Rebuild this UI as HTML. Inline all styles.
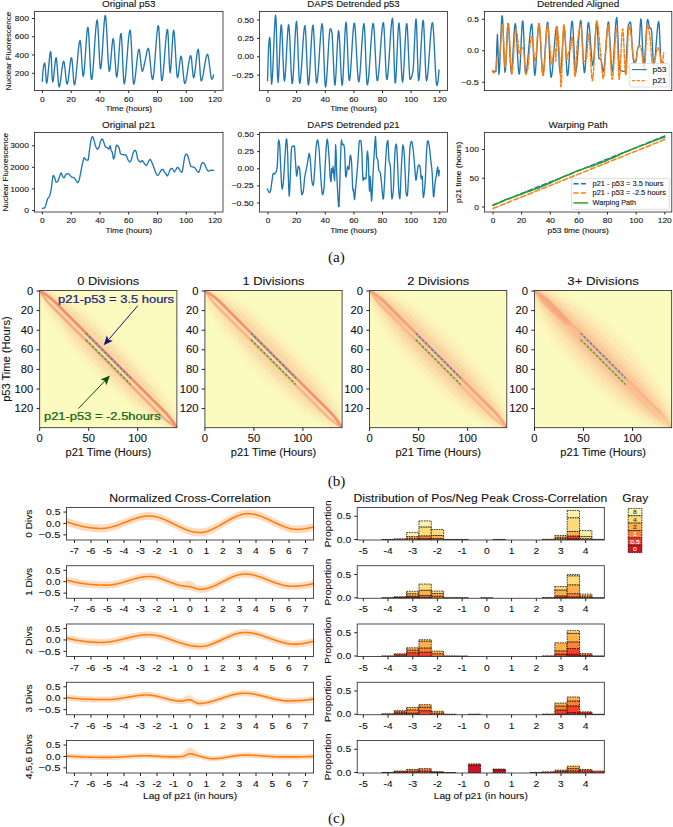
<!DOCTYPE html>
<html><head><meta charset="utf-8"><title>Figure</title>
<style>html,body{margin:0;padding:0;background:#fff;}body{width:673px;height:827px;overflow:hidden;font-family:"Liberation Sans",sans-serif;}svg{display:block;}</style>
</head><body>
<svg width="673" height="827" viewBox="0 0 673 827">
<rect width="100%" height="100%" fill="#fff"/>
<defs>
<filter id="bl6" x="-50%" y="-50%" width="200%" height="200%"><feGaussianBlur stdDeviation="4"/></filter>
<filter id="bl3" x="-50%" y="-50%" width="200%" height="200%"><feGaussianBlur stdDeviation="3"/></filter>
<filter id="bl1" x="-50%" y="-50%" width="200%" height="200%"><feGaussianBlur stdDeviation="0.7"/></filter>
<clipPath id="hc0"><rect x="39.70" y="290.50" width="137.20" height="137.20"/></clipPath>
<clipPath id="hc1"><rect x="204.90" y="290.50" width="137.20" height="137.20"/></clipPath>
<clipPath id="hc2"><rect x="369.60" y="290.50" width="137.20" height="137.20"/></clipPath>
<clipPath id="hc3"><rect x="534.50" y="290.50" width="137.20" height="137.20"/></clipPath>
</defs>
<g clip-path="url(#hc0)">
<rect x="39.70" y="290.50" width="137.20" height="137.20" fill="#fbfbc0"/>
<g transform="translate(39.70 290.50) rotate(45)">
<ellipse cx="97.02" cy="-1" rx="91.02" ry="18.00" fill="#fcd3a0" opacity="0.33" filter="url(#bl6)"/>
<ellipse cx="97.02" cy="-0.5" rx="99.02" ry="9.00" fill="#fcc99a" opacity="0.45" filter="url(#bl3)"/>
<ellipse cx="89.52" cy="-13.00" rx="53.36" ry="0.9" fill="#f7a67e" opacity="0.12" filter="url(#bl1)"/>
<ellipse cx="92.52" cy="-9.50" rx="67.91" ry="0.9" fill="#f7a67e" opacity="0.20" filter="url(#bl1)"/>
<ellipse cx="95.52" cy="-6.50" rx="77.61" ry="0.9" fill="#f7a67e" opacity="0.26" filter="url(#bl1)"/>
<ellipse cx="98.52" cy="5.50" rx="75.67" ry="0.9" fill="#f7a67e" opacity="0.22" filter="url(#bl1)"/>
<ellipse cx="101.52" cy="8.50" rx="64.03" ry="0.9" fill="#f7a67e" opacity="0.17" filter="url(#bl1)"/>
<ellipse cx="104.52" cy="12.00" rx="53.36" ry="0.9" fill="#f7a67e" opacity="0.11" filter="url(#bl1)"/>
<path d="M0,0 C6,-1.30 12,-2.60 18,-2.60 L176.03,-2.60 C182.03,-2.60 188.03,-1.30 194.03,0" fill="none" stroke="#f4805f" stroke-width="2.60" opacity="0.90" filter="url(#bl1)"/>
<path d="M0,0 C6,1.35 12,2.70 18,2.70 L176.03,2.70 C182.03,2.70 188.03,1.35 194.03,0" fill="none" stroke="#f6916c" stroke-width="2.20" opacity="0.80" filter="url(#bl1)"/>
<path d="M164.03,0 L196.03,0" stroke="#ef6a4c" stroke-width="2.6" opacity="0.85" filter="url(#bl1)"/>
<path d="M-2,0 L16,0" stroke="#f27a58" stroke-width="3" opacity="0.6" filter="url(#bl1)"/>
</g>
<line x1="85.76" y1="333.13" x2="130.94" y2="378.31" stroke="#3a7fc4" stroke-width="1.2" stroke-dasharray="2.9 1.5"/>
<line x1="85.76" y1="339.50" x2="130.84" y2="384.58" stroke="#2ca02c" stroke-width="1.2" stroke-dasharray="2.9 1.5"/>
</g>
<g clip-path="url(#hc1)">
<rect x="204.90" y="290.50" width="137.20" height="137.20" fill="#fbfbc0"/>
<g transform="translate(204.90 290.50) rotate(45)">
<ellipse cx="97.02" cy="-1" rx="91.02" ry="20.00" fill="#fcd3a0" opacity="0.33" filter="url(#bl6)"/>
<ellipse cx="97.02" cy="-0.5" rx="99.02" ry="10.00" fill="#fcc99a" opacity="0.45" filter="url(#bl3)"/>
<ellipse cx="89.52" cy="-13.00" rx="53.36" ry="0.9" fill="#f7a67e" opacity="0.11" filter="url(#bl1)"/>
<ellipse cx="92.52" cy="-9.50" rx="67.91" ry="0.9" fill="#f7a67e" opacity="0.18" filter="url(#bl1)"/>
<ellipse cx="95.52" cy="-6.50" rx="77.61" ry="0.9" fill="#f7a67e" opacity="0.23" filter="url(#bl1)"/>
<ellipse cx="98.52" cy="5.50" rx="75.67" ry="0.9" fill="#f7a67e" opacity="0.20" filter="url(#bl1)"/>
<ellipse cx="101.52" cy="8.50" rx="64.03" ry="0.9" fill="#f7a67e" opacity="0.15" filter="url(#bl1)"/>
<ellipse cx="104.52" cy="12.00" rx="53.36" ry="0.9" fill="#f7a67e" opacity="0.10" filter="url(#bl1)"/>
<path d="M0,0 C6,-1.30 12,-2.60 18,-2.60 L176.03,-2.60 C182.03,-2.60 188.03,-1.30 194.03,0" fill="none" stroke="#f4805f" stroke-width="2.60" opacity="0.85" filter="url(#bl1)"/>
<path d="M0,0 C6,1.35 12,2.70 18,2.70 L176.03,2.70 C182.03,2.70 188.03,1.35 194.03,0" fill="none" stroke="#f6916c" stroke-width="2.20" opacity="0.65" filter="url(#bl1)"/>
<path d="M164.03,0 L196.03,0" stroke="#ef6a4c" stroke-width="2.6" opacity="0.70" filter="url(#bl1)"/>
<path d="M-2,0 L16,0" stroke="#f27a58" stroke-width="3" opacity="0.6" filter="url(#bl1)"/>
</g>
<line x1="250.96" y1="333.13" x2="296.14" y2="378.31" stroke="#3a7fc4" stroke-width="1.2" stroke-dasharray="2.9 1.5"/>
<line x1="250.96" y1="339.50" x2="296.04" y2="384.58" stroke="#2ca02c" stroke-width="1.2" stroke-dasharray="2.9 1.5"/>
</g>
<g clip-path="url(#hc2)">
<rect x="369.60" y="290.50" width="137.20" height="137.20" fill="#fbfbc0"/>
<g transform="translate(369.60 290.50) rotate(45)">
<ellipse cx="97.02" cy="-1" rx="91.02" ry="22.00" fill="#fcd3a0" opacity="0.39" filter="url(#bl6)"/>
<ellipse cx="97.02" cy="-0.5" rx="99.02" ry="11.00" fill="#fcc99a" opacity="0.52" filter="url(#bl3)"/>
<ellipse cx="92.02" cy="-0.5" rx="92.02" ry="4.50" fill="#f8a474" opacity="0.20" filter="url(#bl3)"/>
<ellipse cx="24" cy="-0.5" rx="26" ry="3.2" fill="#f59a76" opacity="0.20" filter="url(#bl1)"/>
<ellipse cx="89.52" cy="-14.30" rx="53.36" ry="0.9" fill="#f7a67e" opacity="0.11" filter="url(#bl1)"/>
<ellipse cx="92.52" cy="-10.45" rx="67.91" ry="0.9" fill="#f7a67e" opacity="0.18" filter="url(#bl1)"/>
<ellipse cx="95.52" cy="-7.15" rx="77.61" ry="0.9" fill="#f7a67e" opacity="0.23" filter="url(#bl1)"/>
<ellipse cx="98.52" cy="6.05" rx="75.67" ry="0.9" fill="#f7a67e" opacity="0.20" filter="url(#bl1)"/>
<ellipse cx="101.52" cy="9.35" rx="64.03" ry="0.9" fill="#f7a67e" opacity="0.15" filter="url(#bl1)"/>
<ellipse cx="104.52" cy="13.20" rx="53.36" ry="0.9" fill="#f7a67e" opacity="0.10" filter="url(#bl1)"/>
<path d="M0,0 C6,-1.30 12,-2.60 18,-2.60 L176.03,-2.60 C182.03,-2.60 188.03,-1.30 194.03,0" fill="none" stroke="#f4805f" stroke-width="2.60" opacity="0.60" filter="url(#bl1)"/>
<path d="M0,0 C6,1.35 12,2.70 18,2.70 L176.03,2.70 C182.03,2.70 188.03,1.35 194.03,0" fill="none" stroke="#f6916c" stroke-width="2.20" opacity="0.45" filter="url(#bl1)"/>
<path d="M164.03,0 L196.03,0" stroke="#ef6a4c" stroke-width="2.6" opacity="0.70" filter="url(#bl1)"/>
<path d="M-2,0 L16,0" stroke="#f27a58" stroke-width="3" opacity="0.6" filter="url(#bl1)"/>
</g>
<line x1="415.66" y1="333.13" x2="460.84" y2="378.31" stroke="#3a7fc4" stroke-width="1.2" stroke-dasharray="2.9 1.5"/>
<line x1="415.66" y1="339.50" x2="460.74" y2="384.58" stroke="#2ca02c" stroke-width="1.2" stroke-dasharray="2.9 1.5"/>
</g>
<g clip-path="url(#hc3)">
<rect x="534.50" y="290.50" width="137.20" height="137.20" fill="#fbfbc0"/>
<g transform="translate(534.50 290.50) rotate(45)">
<ellipse cx="97.02" cy="-1" rx="91.02" ry="24.00" fill="#fcd3a0" opacity="0.44" filter="url(#bl6)"/>
<ellipse cx="97.02" cy="-0.5" rx="99.02" ry="12.00" fill="#fcc99a" opacity="0.60" filter="url(#bl3)"/>
<ellipse cx="92.02" cy="-0.5" rx="92.02" ry="4.50" fill="#f8a474" opacity="0.55" filter="url(#bl3)"/>
<ellipse cx="24" cy="-0.5" rx="26" ry="3.2" fill="#f59a76" opacity="0.55" filter="url(#bl1)"/>
<ellipse cx="89.52" cy="-14.95" rx="53.36" ry="0.9" fill="#f7a67e" opacity="0.10" filter="url(#bl1)"/>
<ellipse cx="92.52" cy="-10.92" rx="67.91" ry="0.9" fill="#f7a67e" opacity="0.16" filter="url(#bl1)"/>
<ellipse cx="95.52" cy="-7.47" rx="77.61" ry="0.9" fill="#f7a67e" opacity="0.21" filter="url(#bl1)"/>
<ellipse cx="98.52" cy="6.32" rx="75.67" ry="0.9" fill="#f7a67e" opacity="0.18" filter="url(#bl1)"/>
<ellipse cx="101.52" cy="9.77" rx="64.03" ry="0.9" fill="#f7a67e" opacity="0.14" filter="url(#bl1)"/>
<ellipse cx="104.52" cy="13.80" rx="53.36" ry="0.9" fill="#f7a67e" opacity="0.09" filter="url(#bl1)"/>
<path d="M0,0 C6,-1.30 12,-2.60 18,-2.60 L176.03,-2.60 C182.03,-2.60 188.03,-1.30 194.03,0" fill="none" stroke="#f4805f" stroke-width="2.60" opacity="0.22" filter="url(#bl1)"/>
<path d="M0,0 C6,1.35 12,2.70 18,2.70 L176.03,2.70 C182.03,2.70 188.03,1.35 194.03,0" fill="none" stroke="#f6916c" stroke-width="2.20" opacity="0.12" filter="url(#bl1)"/>
<path d="M164.03,0 L196.03,0" stroke="#ef6a4c" stroke-width="2.6" opacity="0.85" filter="url(#bl1)"/>
<path d="M-2,0 L16,0" stroke="#f27a58" stroke-width="3" opacity="0.6" filter="url(#bl1)"/>
</g>
<line x1="580.56" y1="333.13" x2="625.74" y2="378.31" stroke="#3a7fc4" stroke-width="1.2" stroke-dasharray="2.9 1.5"/>
<line x1="580.56" y1="339.50" x2="625.64" y2="384.58" stroke="#2ca02c" stroke-width="1.2" stroke-dasharray="2.9 1.5"/>
</g>
<text x="116.10" y="302.60" font-size="10.30" text-anchor="middle" fill="#1c1c88" font-family="Liberation Sans" textLength="115.98" lengthAdjust="spacingAndGlyphs" font-weight="normal" stroke="#1c1c88" stroke-width="0.22">p21-p53 = 3.5 hours</text>
<text x="102.30" y="419.70" font-size="10.30" text-anchor="middle" fill="#116211" font-family="Liberation Sans" textLength="116.65" lengthAdjust="spacingAndGlyphs" font-weight="normal" stroke="#116211" stroke-width="0.22">p21-p53 = -2.5hours</text>
<line x1="137.70" y1="305.80" x2="108.59" y2="339.62" stroke="#16167e" stroke-width="1.0"/>
<path d="M103.70,345.30 L106.87,335.49 L108.53,339.68 L112.93,340.71 Z" fill="#16167e"/>
<line x1="78.50" y1="408.50" x2="104.82" y2="380.93" stroke="#0b4f0b" stroke-width="1.0"/>
<path d="M110.00,375.50 L106.33,385.13 L104.88,380.86 L100.55,379.61 Z" fill="#0b4f0b"/>
<defs>
<clipPath id="cA1"><rect x="34.50" y="11.50" width="188.50" height="79.10"/></clipPath>
<clipPath id="cA2"><rect x="259.50" y="11.50" width="188.00" height="79.10"/></clipPath>
<clipPath id="cA3"><rect x="484.50" y="11.50" width="187.30" height="79.10"/></clipPath>
<clipPath id="cB1"><rect x="34.50" y="132.50" width="188.50" height="79.50"/></clipPath>
<clipPath id="cB2"><rect x="259.50" y="132.50" width="188.00" height="79.50"/></clipPath>
<clipPath id="cB3"><rect x="484.50" y="132.50" width="187.30" height="79.50"/></clipPath>
</defs>
<g clip-path="url(#cA1)">
<path d="M42.27,81.33 L42.77,73.52 L43.27,68.28 L43.77,65.11 L44.27,63.54 L44.77,63.07 L45.27,66.27 L45.77,74.56 L46.27,81.97 L46.77,83.21 L47.27,80.92 L47.77,76.79 L48.27,71.50 L48.77,65.73 L49.27,60.16 L49.77,55.46 L50.27,52.32 L50.76,51.49 L51.26,57.51 L51.76,68.42 L52.26,78.48 L52.76,82.00 L53.26,80.20 L53.76,76.31 L54.26,71.25 L54.76,65.95 L55.26,61.30 L55.76,58.23 L56.26,57.71 L56.76,61.04 L57.26,67.17 L57.76,74.45 L58.26,81.25 L58.76,85.91 L59.26,86.95 L59.76,85.61 L60.25,82.93 L60.75,79.33 L61.25,75.21 L61.75,70.97 L62.25,67.04 L62.75,63.81 L63.25,61.69 L63.75,61.11 L64.25,62.83 L64.75,66.50 L65.25,71.27 L65.75,76.27 L66.25,80.64 L66.75,83.51 L67.25,84.09 L67.75,82.61 L68.25,79.70 L68.75,75.81 L69.25,71.40 L69.74,66.93 L70.24,62.87 L70.74,59.67 L71.24,57.80 L71.74,57.99 L72.24,61.90 L72.74,68.30 L73.24,75.41 L73.74,81.47 L74.24,84.73 L74.74,84.36 L75.24,82.12 L75.74,78.45 L76.24,73.72 L76.74,68.28 L77.24,62.49 L77.74,56.71 L78.24,51.30 L78.74,46.61 L79.23,43.01 L79.73,40.85 L80.23,40.64 L80.73,44.44 L81.23,51.42 L81.73,59.83 L82.23,67.95 L82.73,74.03 L83.23,76.33 L83.73,74.70 L84.23,70.47 L84.73,64.34 L85.23,57.03 L85.73,49.24 L86.23,41.68 L86.73,35.04 L87.23,30.03 L87.73,27.37 L88.23,28.19 L88.72,33.92 L89.22,43.07 L89.72,53.90 L90.22,64.66 L90.72,73.63 L91.22,79.05 L91.72,79.61 L92.22,77.20 L92.72,72.74 L93.22,66.71 L93.72,59.60 L94.22,51.89 L94.72,44.06 L95.22,36.59 L95.72,29.97 L96.22,24.67 L96.72,21.18 L97.22,19.99 L97.72,23.30 L98.21,31.28 L98.71,41.85 L99.21,52.94 L99.71,62.45 L100.21,68.30 L100.71,68.83 L101.21,65.86 L101.71,60.50 L102.21,53.46 L102.71,45.43 L103.21,37.14 L103.71,29.28 L104.21,22.56 L104.71,17.69 L105.21,15.37 L105.71,16.71 L106.21,22.27 L106.71,30.79 L107.20,40.94 L107.70,51.41 L108.20,60.87 L108.70,68.00 L109.20,71.48 L109.70,70.72 L110.20,67.23 L110.70,61.92 L111.20,55.67 L111.70,49.34 L112.20,43.80 L112.70,39.91 L113.20,38.54 L113.70,40.79 L114.20,46.25 L114.70,53.63 L115.20,61.66 L115.70,69.09 L116.20,74.64 L116.69,77.03 L117.19,75.66 L117.69,71.46 L118.19,65.27 L118.69,57.94 L119.19,50.29 L119.69,43.16 L120.19,37.40 L120.69,33.84 L121.19,33.55 L121.69,39.08 L122.19,49.03 L122.69,60.95 L123.19,72.36 L123.69,80.83 L124.19,83.89 L124.69,82.65 L125.19,79.49 L125.69,74.80 L126.18,69.00 L126.68,62.49 L127.18,55.66 L127.68,48.94 L128.18,42.71 L128.68,37.39 L129.18,33.38 L129.68,31.03 L130.18,29.99 L130.68,33.33 L131.18,41.11 L131.68,51.55 L132.18,62.86 L132.68,73.26 L133.18,80.96 L133.68,84.17 L134.18,83.40 L134.68,81.07 L135.18,77.56 L135.67,73.22 L136.17,68.40 L136.67,63.46 L137.17,58.75 L137.67,54.63 L138.17,51.46 L138.67,49.58 L139.17,49.44 L139.67,51.73 L140.17,55.81 L140.67,60.74 L141.17,65.58 L141.67,69.41 L142.17,71.28 L142.67,70.93 L143.17,69.50 L143.67,67.39 L144.17,65.01 L144.67,62.74 L145.16,60.68 L145.66,58.21 L146.16,55.53 L146.66,52.93 L147.16,50.66 L147.66,49.01 L148.16,48.25 L148.66,49.02 L149.16,51.84 L149.66,56.14 L150.16,61.32 L150.66,66.79 L151.16,71.95 L151.66,76.19 L152.16,78.92 L152.66,79.55 L153.16,77.92 L153.66,74.42 L154.16,69.46 L154.65,63.43 L155.15,56.76 L155.65,49.83 L156.15,43.07 L156.65,36.86 L157.15,31.62 L157.65,27.75 L158.15,25.66 L158.65,26.35 L159.15,32.47 L159.65,42.52 L160.15,54.41 L160.65,66.09 L161.15,75.49 L161.65,80.54 L162.15,80.38 L162.65,77.89 L163.15,73.72 L163.65,68.30 L164.14,62.03 L164.64,55.32 L165.14,48.60 L165.64,42.29 L166.14,36.78 L166.64,32.52 L167.14,29.89 L167.64,29.56 L168.14,35.74 L168.64,46.99 L169.14,59.46 L169.64,69.31 L170.14,72.74 L170.64,70.00 L171.14,63.82 L171.64,55.59 L172.14,46.72 L172.64,38.61 L173.13,32.65 L173.63,30.26 L174.13,32.33 L174.63,37.98 L175.13,45.97 L175.63,55.07 L176.13,64.02 L176.63,71.59 L177.13,76.53 L177.63,77.68 L178.13,75.98 L178.63,72.62 L179.13,68.33 L179.63,63.82 L180.13,59.80 L180.63,56.99 L181.13,56.10 L181.63,57.76 L182.13,61.49 L182.62,66.51 L183.12,72.01 L183.62,77.18 L184.12,81.22 L184.62,83.33 L185.12,83.20 L185.62,81.96 L186.12,79.89 L186.62,77.18 L187.12,74.02 L187.62,70.62 L188.12,67.15 L188.62,63.82 L189.12,60.81 L189.62,58.33 L190.12,56.56 L190.62,55.70 L191.12,56.56 L191.62,60.35 L192.11,65.79 L192.61,71.45 L193.11,75.92 L193.61,77.76 L194.11,76.84 L194.61,74.31 L195.11,70.62 L195.61,66.22 L196.11,61.55 L196.61,57.08 L197.11,53.24 L197.61,50.48 L198.11,49.25 L198.61,50.94 L199.11,56.38 L199.61,63.85 L200.11,71.59 L200.61,77.84 L201.11,80.84 L201.60,80.55 L202.10,79.34 L202.60,77.41 L203.10,74.93 L203.60,72.05 L204.10,68.94 L204.60,65.77 L205.10,62.68 L205.60,59.85 L206.10,57.43 L206.60,55.58 L207.10,54.47 L207.60,54.30 L208.10,55.64 L208.60,58.34 L209.10,61.97 L209.60,66.09 L210.10,70.27 L210.60,74.09 L211.09,77.10 L211.59,78.89 L212.09,79.12 L212.59,78.41 L213.09,76.98 L213.59,74.91" fill="none" stroke="#1f77b4" stroke-width="1.35" stroke-linejoin="round" stroke-linecap="round"/>
</g>
<g clip-path="url(#cA2)">
<path d="M267.56,80.61 L268.06,61.34 L268.56,48.46 L269.06,40.89 L269.56,37.54 L270.06,39.18 L270.56,54.96 L271.06,74.64 L271.56,84.18 L272.06,81.34 L272.56,73.92 L273.06,63.38 L273.56,51.19 L274.06,38.82 L274.56,27.72 L275.06,19.36 L275.56,15.20 L276.06,19.66 L276.56,36.79 L277.06,58.59 L277.56,76.56 L278.06,82.36 L278.56,77.60 L279.06,67.61 L279.56,54.88 L280.06,41.87 L280.56,31.04 L281.06,24.87 L281.56,25.75 L282.06,33.54 L282.56,45.58 L283.06,59.09 L283.56,71.32 L284.06,79.50 L284.56,81.09 L285.06,77.66 L285.56,71.03 L286.05,62.28 L286.55,52.49 L287.05,42.74 L287.55,34.14 L288.05,27.75 L288.55,24.68 L289.05,26.45 L289.55,33.65 L290.05,44.38 L290.55,56.69 L291.05,68.61 L291.55,78.17 L292.05,83.43 L292.55,82.93 L293.05,77.96 L293.55,69.82 L294.05,59.71 L294.55,48.83 L295.05,38.36 L295.55,29.51 L296.05,23.47 L296.55,21.43 L297.05,26.20 L297.55,37.19 L298.05,51.41 L298.55,65.83 L299.05,77.45 L299.55,83.27 L300.05,82.54 L300.55,79.02 L301.05,73.44 L301.55,66.39 L302.05,58.45 L302.55,50.23 L303.05,42.31 L303.55,35.28 L304.05,29.74 L304.55,26.28 L305.05,25.61 L305.55,30.53 L306.05,40.35 L306.55,52.85 L307.05,65.77 L307.55,76.88 L308.05,83.95 L308.55,85.01 L309.05,81.58 L309.55,75.13 L310.05,66.61 L310.55,56.96 L311.05,47.13 L311.55,38.09 L312.05,30.77 L312.55,26.13 L313.05,25.17 L313.55,29.38 L314.05,37.77 L314.55,48.66 L315.05,60.32 L315.55,71.06 L316.05,79.18 L316.55,82.95 L317.05,82.09 L317.55,78.73 L318.05,73.44 L318.55,66.74 L319.05,59.14 L319.55,51.15 L320.05,43.31 L320.55,36.12 L321.05,30.11 L321.55,25.79 L322.05,23.68 L322.55,25.58 L323.05,34.15 L323.55,46.98 L324.05,61.36 L324.55,74.62 L325.05,84.04 L325.55,87.00 L326.05,84.80 L326.55,79.76 L327.05,72.63 L327.55,64.18 L328.05,55.19 L328.55,46.42 L329.05,38.64 L329.55,32.61 L330.04,29.11 L330.54,28.63 L331.04,29.40 L331.54,30.74 L332.04,33.49 L332.54,41.39 L333.04,52.72 L333.54,65.11 L334.04,76.19 L334.54,83.59 L335.04,85.05 L335.54,80.85 L336.04,72.78 L336.54,62.46 L337.04,51.49 L337.54,41.47 L338.04,34.02 L338.54,30.72 L339.04,33.01 L339.54,40.16 L340.04,50.36 L340.54,61.80 L341.04,72.67 L341.54,81.14 L342.04,85.41 L342.54,83.92 L343.04,77.27 L343.54,67.11 L344.04,55.13 L344.54,42.97 L345.04,32.31 L345.54,24.81 L346.04,22.13 L346.54,26.12 L347.04,35.69 L347.54,48.34 L348.04,61.58 L348.54,72.92 L349.04,79.86 L349.54,80.51 L350.04,77.44 L350.54,71.93 L351.04,64.65 L351.54,56.32 L352.04,47.63 L352.54,39.28 L353.04,31.97 L353.54,26.40 L354.04,23.27 L354.54,23.37 L355.04,27.35 L355.54,34.34 L356.04,43.31 L356.54,53.24 L357.04,63.08 L357.54,71.80 L358.04,78.39 L358.54,81.79 L359.04,81.37 L359.54,78.14 L360.04,72.75 L360.54,65.80 L361.04,57.88 L361.54,49.60 L362.04,41.55 L362.54,34.33 L363.04,28.52 L363.54,24.74 L364.04,23.60 L364.54,28.21 L365.04,38.51 L365.54,51.89 L366.04,65.72 L366.54,77.41 L367.04,84.32 L367.54,84.81 L368.04,82.36 L368.54,77.99 L369.04,72.12 L369.54,65.20 L370.04,57.64 L370.54,49.90 L371.04,42.39 L371.54,35.55 L372.04,29.81 L372.54,25.61 L373.04,23.37 L373.53,23.93 L374.03,28.85 L374.53,37.08 L375.03,47.27 L375.53,58.06 L376.03,68.08 L376.53,75.98 L377.03,80.41 L377.53,80.54 L378.03,78.28 L378.53,74.30 L379.03,68.95 L379.53,62.63 L380.03,55.71 L380.53,48.58 L381.03,41.61 L381.53,35.19 L382.03,29.68 L382.53,25.48 L383.03,22.97 L383.53,22.72 L384.03,27.80 L384.53,37.45 L385.03,49.53 L385.53,61.88 L386.03,72.37 L386.53,78.83 L387.03,79.63 L387.53,77.18 L388.03,72.62 L388.53,66.44 L389.03,59.13 L389.53,51.20 L390.03,43.14 L390.53,35.44 L391.03,28.61 L391.53,23.14 L392.03,19.53 L392.53,18.28 L393.03,24.49 L393.53,39.00 L394.03,56.87 L394.53,73.16 L395.03,82.92 L395.53,82.73 L396.03,76.52 L396.53,66.55 L397.03,54.61 L397.53,42.48 L398.03,31.97 L398.53,24.87 L399.03,22.96 L399.53,27.23 L400.03,36.14 L400.53,47.76 L401.03,60.11 L401.53,71.24 L402.03,79.20 L402.53,82.03 L403.03,79.58 L403.53,73.48 L404.03,64.89 L404.53,54.91 L405.03,44.67 L405.53,35.31 L406.03,27.95 L406.53,23.72 L407.03,24.03 L407.53,30.55 L408.03,41.35 L408.53,54.03 L409.03,66.20 L409.53,75.47 L410.03,79.45 L410.53,79.20 L411.03,78.35 L411.53,77.00 L412.03,75.24 L412.53,73.15 L413.03,70.65 L413.53,64.23 L414.03,54.02 L414.53,42.20 L415.03,30.95 L415.53,22.44 L416.03,18.86 L416.53,24.37 L417.03,38.80 L417.52,56.65 L418.02,72.43 L418.52,80.65 L419.02,79.55 L419.52,74.68 L420.02,67.16 L420.52,57.95 L421.02,48.02 L421.52,38.32 L422.02,29.81 L422.52,23.45 L423.02,20.21 L423.52,21.79 L424.02,29.88 L424.52,42.11 L425.02,55.91 L425.52,68.69 L426.02,77.86 L426.52,80.88 L427.02,79.48 L427.52,76.10 L428.02,71.14 L428.52,65.00 L429.02,58.11 L429.52,50.85 L430.02,43.64 L430.52,36.89 L431.02,31.00 L431.52,26.38 L432.02,23.44 L432.52,22.59 L433.02,25.36 L433.52,31.74 L434.02,40.62 L434.52,50.92 L435.02,61.54 L435.52,71.39 L436.02,79.39 L436.52,84.42 L437.02,85.54 L437.52,84.16 L438.02,81.07 L438.52,76.30 L439.02,69.91" fill="none" stroke="#1f77b4" stroke-width="1.35" stroke-linejoin="round" stroke-linecap="round"/>
</g>
<g clip-path="url(#cA3)">
<path d="M492.43,71.01 L492.93,71.20 L493.43,71.33 L493.93,71.42 L494.43,71.47 L494.93,71.50 L495.43,71.51 L495.93,71.48 L496.43,60.99 L496.93,42.99 L497.43,34.36 L497.92,46.03 L498.42,65.44 L498.92,74.45 L499.42,70.14 L499.92,60.26 L500.42,47.36 L500.92,33.97 L501.42,22.62 L501.92,15.84 L502.42,16.32 L502.92,24.94 L503.42,38.45 L503.92,53.24 L504.42,65.70 L504.91,72.22 L505.41,70.40 L505.91,62.62 L506.41,51.49 L506.91,39.56 L507.41,29.38 L507.91,23.48 L508.41,24.17 L508.91,30.86 L509.41,41.23 L509.91,52.95 L510.41,63.67 L510.91,71.05 L511.40,72.86 L511.90,69.72 L512.40,63.35 L512.90,54.93 L513.40,45.65 L513.90,36.69 L514.40,29.24 L514.90,24.48 L515.40,23.60 L515.90,27.04 L516.40,33.74 L516.90,42.49 L517.40,52.06 L517.90,61.24 L518.39,68.80 L518.89,73.52 L519.39,74.09 L519.89,69.16 L520.39,60.13 L520.89,48.93 L521.39,37.48 L521.89,27.72 L522.39,21.57 L522.89,21.09 L523.39,27.78 L523.89,39.24 L524.39,52.46 L524.89,64.44 L525.38,72.15 L525.88,73.31 L526.38,71.61 L526.88,68.40 L527.38,63.99 L527.88,58.71 L528.38,52.88 L528.88,46.83 L529.38,40.88 L529.88,35.35 L530.38,30.56 L530.88,26.85 L531.38,24.53 L531.87,24.03 L532.37,29.14 L532.87,39.53 L533.37,52.25 L533.87,64.40 L534.37,73.04 L534.87,75.37 L535.37,72.47 L535.87,66.40 L536.37,58.22 L536.87,49.01 L537.37,39.86 L537.87,31.82 L538.37,25.99 L538.86,23.43 L539.36,25.10 L539.86,30.56 L540.36,38.59 L540.86,47.96 L541.36,57.45 L541.86,65.85 L542.36,71.93 L542.86,74.47 L543.36,73.10 L543.86,68.93 L544.36,62.69 L544.86,55.11 L545.36,46.91 L545.85,38.83 L546.35,31.59 L546.85,25.91 L547.35,22.53 L547.85,22.43 L548.35,27.96 L548.85,37.80 L549.35,49.79 L549.85,61.75 L550.35,71.54 L550.85,76.98 L551.35,77.02 L551.85,74.68 L552.35,70.69 L552.84,65.44 L553.34,59.34 L553.84,52.79 L554.34,46.19 L554.84,39.93 L555.34,34.42 L555.84,30.06 L556.34,27.24 L556.84,26.40 L557.34,29.56 L557.84,36.71 L558.34,46.17 L558.84,56.25 L559.33,65.27 L559.83,71.56 L560.33,73.44 L560.83,70.90 L561.33,65.27 L561.83,57.66 L562.33,49.15 L562.83,40.83 L563.33,33.80 L563.83,29.14 L564.33,27.99 L564.83,32.12 L565.33,40.50 L565.83,51.08 L566.32,61.82 L566.82,70.66 L567.32,75.57 L567.82,75.22 L568.32,71.44 L568.82,65.22 L569.32,57.35 L569.82,48.65 L570.32,39.93 L570.82,32.01 L571.32,25.69 L571.82,21.78 L572.32,21.21 L572.82,25.69 L573.31,34.18 L573.81,44.81 L574.31,55.76 L574.81,65.19 L575.31,71.24 L575.81,72.32 L576.31,70.04 L576.81,65.57 L577.31,59.51 L577.81,52.41 L578.31,44.86 L578.81,37.44 L579.31,30.71 L579.80,25.24 L580.30,21.62 L580.80,20.43 L581.30,23.42 L581.80,30.55 L582.30,40.24 L582.80,50.89 L583.30,60.92 L583.80,68.74 L584.30,72.77 L584.80,71.84 L585.30,66.94 L585.80,59.31 L586.30,50.16 L586.79,40.70 L587.29,32.13 L587.79,25.67 L588.29,22.53 L588.79,23.30 L589.29,26.79 L589.79,32.24 L590.29,38.93 L590.79,46.12 L591.29,53.10 L591.79,59.14 L592.29,63.52 L592.79,65.51 L593.29,64.22 L593.78,59.64 L594.28,52.78 L594.78,44.72 L595.28,36.49 L595.78,29.17 L596.28,23.80 L596.78,21.44 L597.28,25.27 L597.78,35.98 L598.28,48.38 L598.78,57.19 L599.28,58.72 L599.78,58.84 L600.28,58.93 L600.77,59.09 L601.27,60.40 L601.77,63.45 L602.27,67.08 L602.77,70.15 L603.27,71.51 L603.77,70.33 L604.27,66.94 L604.77,61.85 L605.27,55.57 L605.77,48.62 L606.27,41.52 L606.77,34.77 L607.26,28.90 L607.76,24.41 L608.26,21.83 L608.76,22.38 L609.26,29.67 L609.76,38.10 L610.26,46.09 L610.76,55.07 L611.26,63.39 L611.76,69.41 L612.26,71.50 L612.76,69.34 L613.26,64.10 L613.76,56.69 L614.25,48.02 L614.75,38.99 L615.25,30.52 L615.75,23.50 L616.25,18.85 L616.75,17.52 L617.25,22.34 L617.75,32.53 L618.25,45.23 L618.75,57.54 L619.25,66.58 L619.75,69.59 L620.25,69.95 L620.75,70.27 L621.24,70.55 L621.74,70.79 L622.24,70.99 L622.74,71.16 L623.24,71.29 L623.74,71.39 L624.24,71.46 L624.74,71.50 L625.24,71.48 L625.74,68.23 L626.24,60.84 L626.74,51.12 L627.24,40.87 L627.74,31.91 L628.23,26.05 L628.73,24.22 L629.23,23.15 L629.73,22.37 L630.23,21.95 L630.73,23.07 L631.23,29.46 L631.73,38.58 L632.23,47.12 L632.73,53.01 L633.23,58.61 L633.73,62.21 L634.23,62.55 L634.72,62.40 L635.22,62.13 L635.72,61.75 L636.22,60.49 L636.72,56.52 L637.22,51.69 L637.72,48.20 L638.22,47.33 L638.72,46.93 L639.22,44.14 L639.72,35.39 L640.22,25.27 L640.72,18.87 L641.22,20.24 L641.71,27.76 L642.21,38.70 L642.71,50.38 L643.21,60.13 L643.71,65.30 L644.21,64.31 L644.71,59.33 L645.21,51.74 L645.71,42.81 L646.21,33.84 L646.71,26.11 L647.21,20.90 L647.71,19.47 L648.21,20.83 L648.70,23.36 L649.20,26.00 L649.70,27.72 L650.20,28.18 L650.70,28.41 L651.20,28.76 L651.70,31.97 L652.20,40.64 L652.70,51.41 L653.20,60.84 L653.70,65.48 L654.20,64.60 L654.70,61.45 L655.19,56.63 L655.69,50.68 L656.19,44.13 L656.69,37.53 L657.19,31.42 L657.69,26.34 L658.19,22.82 L658.69,21.41 L659.19,25.24 L659.69,35.28 L660.19,47.54 L660.69,57.98 L661.19,62.57 L661.69,62.58 L662.18,62.58 L662.68,62.58 L663.18,62.58 L663.68,62.58" fill="none" stroke="#1f77b4" stroke-width="1.35" stroke-linejoin="round" stroke-linecap="round"/>
<path d="M492.43,70.52 L492.93,71.90 L493.43,72.73 L493.93,73.00 L494.43,72.62 L494.93,71.70 L495.43,70.46 L495.93,67.54 L496.43,62.97 L496.93,58.67 L497.43,56.59 L497.92,56.21 L498.42,55.97 L498.92,55.59 L499.42,54.81 L499.92,53.47 L500.42,48.90 L500.92,41.13 L501.42,32.69 L501.92,26.11 L502.42,23.95 L502.92,28.00 L503.42,36.62 L503.92,47.35 L504.42,57.71 L504.91,65.23 L505.41,67.43 L505.91,63.06 L506.41,54.11 L506.91,43.11 L507.41,32.58 L507.91,25.05 L508.41,23.03 L508.91,27.02 L509.41,35.19 L509.91,45.70 L510.41,56.70 L510.91,66.35 L511.40,72.83 L511.90,74.35 L512.40,71.51 L512.90,65.76 L513.40,58.17 L513.90,49.82 L514.40,41.76 L514.90,35.07 L515.40,30.81 L515.90,29.91 L516.40,30.86 L516.90,32.42 L517.40,35.83 L517.90,40.74 L518.39,46.10 L518.89,50.87 L519.39,53.99 L519.89,54.42 L520.39,52.22 L520.89,49.54 L521.39,48.52 L521.89,48.14 L522.39,47.87 L522.89,47.72 L523.39,48.20 L523.89,52.90 L524.39,60.43 L524.89,68.18 L525.38,73.52 L525.88,74.40 L526.38,73.66 L526.88,72.32 L527.38,70.57 L527.88,68.28 L528.38,63.70 L528.88,57.66 L529.38,51.51 L529.88,46.58 L530.38,43.24 L530.88,40.07 L531.38,37.58 L531.87,36.34 L532.37,37.48 L532.87,41.72 L533.37,47.67 L533.87,53.91 L534.37,59.01 L534.87,61.52 L535.37,60.57 L535.87,56.99 L536.37,51.58 L536.87,45.12 L537.37,38.39 L537.87,32.15 L538.37,27.21 L538.86,24.32 L539.36,24.42 L539.86,28.60 L540.36,35.89 L540.86,45.05 L541.36,54.83 L541.86,63.98 L542.36,71.27 L542.86,75.44 L543.36,75.48 L543.86,72.17 L544.36,66.42 L544.86,59.02 L545.36,50.79 L545.85,42.52 L546.35,35.02 L546.85,29.10 L547.35,25.54 L547.85,25.24 L548.35,28.79 L548.85,34.38 L549.35,39.80 L549.85,45.32 L550.35,51.76 L550.85,57.87 L551.35,62.39 L551.85,64.06 L552.35,62.18 L552.84,58.16 L553.34,53.98 L553.84,51.60 L554.34,50.62 L554.84,49.92 L555.34,49.83 L555.84,60.99 L556.34,48.06 L556.84,26.88 L557.34,28.51 L557.84,32.45 L558.34,38.17 L558.84,45.14 L559.33,52.84 L559.83,60.90 L560.33,75.10 L560.83,86.77 L561.33,84.15 L561.83,72.34 L562.33,56.00 L562.83,39.58 L563.33,27.48 L563.83,24.00 L564.33,27.11 L564.83,31.92 L565.33,39.86 L565.83,49.60 L566.32,57.36 L566.82,59.54 L567.32,58.04 L567.82,55.43 L568.32,52.86 L568.82,51.43 L569.32,50.82 L569.82,50.29 L570.32,49.24 L570.82,45.90 L571.32,41.37 L571.82,37.72 L572.32,37.10 L572.82,41.79 L573.31,50.35 L573.81,60.45 L574.31,69.80 L574.81,76.10 L575.31,76.85 L575.81,69.71 L576.31,58.69 L576.81,48.98 L577.31,43.98 L577.81,39.74 L578.31,35.79 L578.81,32.26 L579.31,29.25 L579.80,26.86 L580.30,25.23 L580.80,24.44 L581.30,26.23 L581.80,34.17 L582.30,45.07 L582.80,55.30 L583.30,61.20 L583.80,61.54 L584.30,61.33 L584.80,60.94 L585.30,60.40 L585.80,59.70 L586.30,58.85 L586.79,56.37 L587.29,49.92 L587.79,42.13 L588.29,35.84 L588.79,33.89 L589.29,37.02 L589.79,43.71 L590.29,52.55 L590.79,62.10 L591.29,70.95 L591.79,77.68 L592.29,80.85 L592.79,79.51 L593.29,74.49 L593.78,66.79 L594.28,57.44 L594.78,47.42 L595.28,37.76 L595.78,29.45 L596.28,23.51 L596.78,20.95 L597.28,21.78 L597.78,24.60 L598.28,28.87 L598.78,34.08 L599.28,39.73 L599.78,45.32 L600.28,50.33 L600.77,55.41 L601.27,61.42 L601.77,67.55 L602.27,72.98 L602.77,76.89 L603.27,78.45 L603.77,77.04 L604.27,73.01 L604.77,67.01 L605.27,59.69 L605.77,51.71 L606.27,43.73 L606.77,36.40 L607.26,30.38 L607.76,26.32 L608.26,24.88 L608.76,27.38 L609.26,33.72 L609.76,42.59 L610.26,52.71 L610.76,62.75 L611.26,71.42 L611.76,77.42 L612.26,79.43 L612.76,77.37 L613.26,72.38 L613.76,65.31 L614.25,57.03 L614.75,48.42 L615.25,40.33 L615.75,33.64 L616.25,29.21 L616.75,27.97 L617.25,34.73 L617.75,48.29 L618.25,63.59 L618.75,75.60 L619.25,79.36 L619.75,75.63 L620.25,67.74 L620.75,57.50 L621.24,46.69 L621.74,37.14 L622.24,30.64 L622.74,29.01 L623.24,33.37 L623.74,42.05 L624.24,52.82 L624.74,63.47 L625.24,71.75 L625.74,75.44 L626.24,72.75 L626.74,64.79 L627.24,53.88 L627.74,42.34 L628.23,32.47 L628.73,26.60 L629.23,26.09 L629.73,27.48 L630.23,29.78 L630.73,32.57 L631.23,36.01 L631.73,41.68 L632.23,48.08 L632.73,53.30 L633.23,56.20 L633.73,58.61 L634.23,60.48 L634.72,61.50 L635.22,61.33 L635.72,60.01 L636.22,57.93 L636.72,55.50 L637.22,52.28 L637.72,48.27 L638.22,47.36 L638.72,47.07 L639.22,46.82 L639.72,46.32 L640.22,45.76 L640.72,46.29 L641.22,48.75 L641.71,52.48 L642.21,56.70 L642.71,60.65 L643.21,64.43 L643.71,68.72 L644.21,71.37 L644.71,69.50 L645.21,61.84 L645.71,50.93 L646.21,39.40 L646.71,29.90 L647.21,25.06 L647.71,25.26 L648.21,26.73 L648.70,29.08 L649.20,32.08 L649.70,35.51 L650.20,39.13 L650.70,44.29 L651.20,52.15 L651.70,59.61 L652.20,63.49 L652.70,63.40 L653.20,62.82 L653.70,61.94 L654.20,60.87 L654.70,59.74 L655.19,58.17 L655.69,55.80 L656.19,53.08 L656.69,50.50 L657.19,48.55 L657.69,47.70 L658.19,47.97 L658.69,48.80 L659.19,50.04 L659.69,51.58 L660.19,55.24 L660.69,60.66 L661.19,63.57 L661.69,63.41 L662.18,62.65 L662.68,60.87 L663.18,57.68 L663.68,52.66" fill="none" stroke="#ff7f0e" stroke-width="1.45" stroke-linejoin="round" stroke-linecap="round" stroke-dasharray="3.7 1.8" stroke-linecap="butt"/>
</g>
<g clip-path="url(#cB1)">
<path d="M42.27,208.32 L42.77,208.30 L43.27,208.25 L43.77,208.16 L44.27,208.03 L44.77,207.49 L45.27,206.48 L45.77,205.23 L46.27,203.47 L46.77,201.53 L47.27,199.79 L47.77,198.60 L48.27,197.80 L48.77,197.12 L49.27,196.36 L49.77,195.29 L50.27,193.64 L50.76,191.48 L51.26,188.96 L51.76,185.12 L52.26,180.68 L52.76,177.02 L53.26,175.51 L53.76,175.89 L54.26,176.77 L54.76,177.83 L55.26,179.70 L55.76,181.65 L56.26,182.21 L56.76,182.07 L57.26,181.82 L57.76,181.42 L58.26,180.39 L58.76,178.94 L59.26,177.38 L59.76,176.03 L60.25,174.55 L60.75,173.28 L61.25,173.02 L61.75,174.11 L62.25,175.61 L62.75,176.58 L63.25,177.37 L63.75,177.88 L64.25,177.75 L64.75,176.81 L65.25,175.53 L65.75,174.44 L66.25,174.03 L66.75,173.87 L67.25,173.76 L67.75,173.68 L68.25,173.65 L68.75,173.87 L69.25,174.36 L69.74,174.88 L70.24,175.55 L70.74,176.30 L71.24,176.86 L71.74,177.08 L72.24,177.21 L72.74,177.31 L73.24,177.41 L73.74,177.56 L74.24,177.85 L74.74,178.42 L75.24,179.18 L75.74,179.98 L76.24,180.75 L76.74,181.71 L77.24,182.50 L77.74,182.56 L78.24,181.94 L78.74,180.94 L79.23,179.66 L79.73,177.58 L80.23,175.00 L80.73,172.27 L81.23,169.74 L81.73,167.11 L82.23,164.57 L82.73,162.41 L83.23,160.20 L83.73,158.39 L84.23,157.68 L84.73,158.04 L85.23,158.80 L85.73,159.54 L86.23,159.88 L86.73,160.05 L87.23,160.17 L87.73,160.24 L88.23,159.61 L88.72,156.51 L89.22,152.28 L89.72,148.53 L90.22,144.85 L90.72,141.44 L91.22,139.30 L91.72,137.74 L92.22,136.73 L92.72,136.71 L93.22,137.75 L93.72,139.27 L94.22,140.87 L94.72,142.96 L95.22,145.03 L95.72,146.47 L96.22,147.55 L96.72,148.47 L97.22,149.03 L97.72,149.07 L98.21,148.67 L98.71,147.99 L99.21,146.84 L99.71,144.52 L100.21,142.33 L100.71,141.07 L101.21,139.95 L101.71,139.14 L102.21,138.85 L102.71,139.44 L103.21,140.74 L103.71,142.21 L104.21,143.52 L104.71,145.06 L105.21,146.39 L105.71,147.04 L106.21,147.26 L106.71,147.40 L107.20,147.57 L107.70,147.89 L108.20,148.54 L108.70,149.06 L109.20,148.69 L109.70,146.98 L110.20,145.62 L110.70,148.10 L111.20,150.86 L111.70,151.38 L112.20,152.03 L112.70,154.57 L113.20,157.88 L113.70,159.06 L114.20,157.80 L114.70,155.83 L115.20,152.51 L115.70,148.49 L116.20,145.60 L116.69,145.16 L117.19,145.40 L117.69,145.80 L118.19,146.29 L118.69,147.01 L119.19,148.10 L119.69,150.36 L120.19,153.15 L120.69,153.76 L121.19,154.09 L121.69,154.31 L122.19,154.47 L122.69,154.60 L123.19,154.71 L123.69,154.79 L124.19,154.87 L124.69,154.92 L125.19,154.96 L125.69,155.04 L126.18,155.24 L126.68,156.30 L127.18,157.76 L127.68,158.94 L128.18,160.10 L128.68,161.03 L129.18,161.53 L129.68,161.88 L130.18,161.90 L130.68,161.23 L131.18,160.09 L131.68,158.78 L132.18,156.72 L132.68,154.44 L133.18,152.95 L133.68,151.77 L134.18,150.82 L134.68,150.30 L135.18,150.38 L135.67,150.93 L136.17,151.78 L136.67,153.57 L137.17,156.71 L137.67,159.04 L138.17,159.91 L138.67,160.52 L139.17,161.01 L139.67,161.53 L140.17,162.07 L140.67,162.21 L141.17,161.56 L141.67,160.74 L142.17,160.57 L142.67,161.00 L143.17,161.65 L143.67,162.31 L144.17,163.10 L144.67,163.88 L145.16,164.53 L145.66,165.16 L146.16,165.51 L146.66,165.24 L147.16,164.34 L147.66,163.25 L148.16,162.35 L148.66,161.36 L149.16,160.38 L149.66,159.65 L150.16,159.39 L150.66,159.84 L151.16,160.81 L151.66,161.98 L152.16,163.08 L152.66,164.28 L153.16,165.58 L153.66,166.89 L154.16,168.26 L154.65,169.71 L155.15,171.10 L155.65,172.32 L156.15,173.34 L156.65,174.36 L157.15,175.17 L157.65,175.51 L158.15,175.24 L158.65,174.55 L159.15,173.73 L159.65,172.94 L160.15,171.96 L160.65,170.95 L161.15,170.14 L161.65,169.74 L162.15,169.53 L162.65,169.40 L163.15,169.48 L163.65,170.39 L164.14,171.55 L164.64,172.25 L165.14,172.70 L165.64,173.18 L166.14,173.99 L166.64,175.17 L167.14,175.92 L167.64,175.60 L168.14,174.57 L168.64,173.40 L169.14,172.13 L169.64,170.73 L170.14,169.72 L170.64,169.03 L171.14,168.51 L171.64,168.39 L172.14,168.63 L172.64,169.07 L173.13,169.66 L173.63,170.80 L174.13,171.80 L174.63,171.80 L175.13,171.01 L175.63,170.05 L176.13,169.27 L176.63,168.40 L177.13,167.69 L177.63,167.38 L178.13,167.62 L178.63,168.22 L179.13,168.88 L179.63,169.74 L180.13,170.70 L180.63,171.37 L181.13,171.91 L181.63,172.30 L182.13,172.14 L182.62,169.99 L183.12,166.66 L183.62,163.44 L184.12,160.30 L184.62,157.16 L185.12,155.44 L185.62,154.70 L186.12,154.23 L186.62,154.14 L187.12,154.67 L187.62,155.62 L188.12,156.76 L188.62,158.46 L189.12,160.42 L189.62,162.34 L190.12,164.51 L190.62,166.05 L191.12,166.43 L191.62,166.62 L192.11,166.75 L192.61,166.87 L193.11,167.01 L193.61,167.13 L194.11,167.28 L194.61,167.58 L195.11,168.17 L195.61,168.88 L196.11,169.61 L196.61,170.43 L197.11,171.14 L197.61,171.69 L198.11,172.16 L198.61,172.37 L199.11,171.77 L199.61,170.40 L200.11,168.90 L200.61,167.00 L201.11,165.02 L201.60,163.88 L202.10,163.19 L202.60,162.75 L203.10,162.70 L203.60,162.98 L204.10,163.44 L204.60,164.10 L205.10,165.30 L205.60,166.62 L206.10,167.73 L206.60,168.81 L207.10,169.70 L207.60,170.39 L208.10,170.98 L208.60,171.23 L209.10,171.06 L209.60,170.73 L210.10,170.50 L210.60,170.36 L211.09,170.26 L211.59,170.23 L212.09,170.25 L212.59,170.29 L213.09,170.38 L213.59,170.52" fill="none" stroke="#1f77b4" stroke-width="1.35" stroke-linejoin="round" stroke-linecap="round"/>
</g>
<g clip-path="url(#cB2)">
<path d="M267.27,189.06 L267.77,189.90 L268.27,190.77 L268.77,191.92 L269.27,192.63 L269.77,192.30 L270.27,191.49 L270.76,189.79 L271.26,186.24 L271.76,182.43 L272.26,178.82 L272.76,175.12 L273.26,173.37 L273.76,173.65 L274.25,174.05 L274.75,173.80 L275.25,172.90 L275.75,172.23 L276.25,171.55 L276.75,169.89 L277.25,166.35 L277.75,156.12 L278.24,143.01 L278.74,140.04 L279.24,141.93 L279.74,145.35 L280.24,156.42 L280.74,168.67 L281.24,178.61 L281.73,186.73 L282.23,188.97 L282.73,186.96 L283.23,183.19 L283.73,178.32 L284.23,169.67 L284.73,159.99 L285.22,152.44 L285.72,144.98 L286.22,139.56 L286.72,139.02 L287.22,145.04 L287.72,155.60 L288.22,174.04 L288.72,188.10 L289.21,196.16 L289.71,190.68 L290.21,178.72 L290.71,166.10 L291.21,151.89 L291.71,147.24 L292.21,146.42 L292.70,146.27 L293.20,146.27 L293.70,146.18 L294.20,145.63 L294.70,148.31 L295.20,157.72 L295.70,165.01 L296.20,172.01 L296.69,176.06 L297.19,174.40 L297.69,169.43 L298.19,166.26 L298.69,166.57 L299.19,167.60 L299.69,169.21 L300.18,174.91 L300.68,182.27 L301.18,189.44 L301.68,194.52 L302.18,194.51 L302.68,193.54 L303.18,192.07 L303.67,188.49 L304.17,182.44 L304.67,177.49 L305.17,174.55 L305.67,172.16 L306.17,169.97 L306.67,167.60 L307.17,164.75 L307.66,161.65 L308.16,158.68 L308.66,155.55 L309.16,153.43 L309.66,154.90 L310.16,158.81 L310.66,164.13 L311.15,172.53 L311.65,179.54 L312.15,182.47 L312.65,184.55 L313.15,185.48 L313.65,183.30 L314.15,177.26 L314.64,170.39 L315.14,162.16 L315.64,153.05 L316.14,147.04 L316.64,143.20 L317.14,140.50 L317.64,139.97 L318.14,141.94 L318.63,145.45 L319.13,149.93 L319.63,157.68 L320.13,166.89 L320.63,174.83 L321.13,181.81 L321.63,188.68 L322.12,193.55 L322.62,194.69 L323.12,193.39 L323.62,190.87 L324.12,186.84 L324.62,177.09 L325.12,165.82 L325.61,157.49 L326.11,149.30 L326.61,142.51 L327.11,139.20 L327.61,140.58 L328.11,145.11 L328.61,151.18 L329.11,157.84 L329.60,167.82 L330.10,176.86 L330.60,180.65 L331.10,181.63 L331.60,168.75 L332.10,169.99 L332.60,172.75 L333.09,166.52 L333.59,170.56 L334.09,176.87 L334.59,180.50 L335.09,165.93 L335.59,144.71 L336.09,152.04 L336.59,170.82 L337.08,181.79 L337.58,190.73 L338.08,199.12 L338.58,206.61 L339.08,206.50 L339.58,190.75 L340.08,173.46 L340.57,157.74 L341.07,143.99 L341.57,140.04 L342.07,143.21 L342.57,144.81 L343.07,144.36 L343.57,144.19 L344.06,145.77 L344.56,148.91 L345.06,160.86 L345.56,176.05 L346.06,177.02 L346.56,174.44 L347.06,169.69 L347.56,166.30 L348.05,167.63 L348.55,169.35 L349.05,169.15 L349.55,162.87 L350.05,156.04 L350.55,155.19 L351.05,157.65 L351.54,161.65 L352.04,172.75 L352.54,186.12 L353.04,190.92 L353.54,189.20 L354.04,196.75 L354.54,199.58 L355.03,195.44 L355.53,189.42 L356.03,183.93 L356.53,178.07 L357.03,172.25 L357.53,166.34 L358.03,160.08 L358.53,151.56 L359.02,143.29 L359.52,140.56 L360.02,140.56 L360.52,140.56 L361.02,141.08 L361.52,146.80 L362.02,155.63 L362.51,171.70 L363.01,180.50 L363.51,179.24 L364.01,177.73 L364.51,178.12 L365.01,179.02 L365.51,178.85 L366.00,177.95 L366.50,170.20 L367.00,154.08 L367.50,151.11 L368.00,155.29 L368.50,162.32 L369.00,181.83 L369.50,191.16 L369.99,176.17 L370.49,179.29 L370.99,192.35 L371.49,201.07 L371.99,196.80 L372.49,185.60 L372.99,174.54 L373.48,165.61 L373.98,156.98 L374.48,149.29 L374.98,141.19 L375.48,136.35 L375.98,144.24 L376.48,156.49 L376.98,158.32 L377.47,159.10 L377.97,160.57 L378.47,168.47 L378.97,170.97 L379.47,171.32 L379.97,171.73 L380.47,173.53 L380.96,177.84 L381.46,182.75 L381.96,188.05 L382.46,194.30 L382.96,198.90 L383.46,198.87 L383.96,192.09 L384.45,183.65 L384.95,174.14 L385.45,163.92 L385.95,155.54 L386.45,148.14 L386.95,143.43 L387.45,141.43 L387.95,140.56 L388.44,149.52 L388.94,160.49 L389.44,162.81 L389.94,164.17 L390.44,166.82 L390.94,178.90 L391.44,194.15 L391.93,198.97 L392.43,197.38 L392.93,194.25 L393.43,189.23 L393.93,176.68 L394.43,162.44 L394.93,153.06 L395.42,146.72 L395.92,144.94 L396.42,144.15 L396.92,148.69 L397.42,160.07 L397.92,172.16 L398.42,185.03 L398.92,192.44 L399.41,197.57 L399.91,198.68 L400.41,191.15 L400.91,178.42 L401.41,166.48 L401.91,157.49 L402.41,148.93 L402.90,144.85 L403.40,146.42 L403.90,150.40 L404.40,156.62 L404.90,166.93 L405.40,179.02 L405.90,191.52 L406.39,194.68 L406.89,195.95 L407.39,195.57 L407.89,189.11 L408.39,179.36 L408.89,169.70 L409.39,157.60 L409.89,147.94 L410.38,144.46 L410.88,142.33 L411.38,141.31 L411.88,141.98 L412.38,144.36 L412.88,147.46 L413.38,151.47 L413.87,156.82 L414.37,162.30 L414.87,168.83 L415.37,175.71 L415.87,180.09 L416.37,179.29 L416.87,174.66 L417.37,170.86 L417.86,167.56 L418.36,165.20 L418.86,164.85 L419.36,165.21 L419.86,165.90 L420.36,168.87 L420.86,176.57 L421.35,178.76 L421.85,175.91 L422.35,176.45 L422.85,191.63 L423.35,197.48 L423.85,195.52 L424.35,191.76 L424.84,186.86 L425.34,179.85 L425.84,167.42 L426.34,155.52 L426.84,147.70 L427.34,141.66 L427.84,140.71 L428.34,141.88 L428.83,143.90 L429.33,146.33 L429.83,150.21 L430.33,155.53 L430.83,160.56 L431.33,164.69 L431.83,168.98 L432.32,174.88 L432.82,185.78 L433.32,195.67 L433.82,196.92 L434.32,191.74 L434.82,185.32 L435.32,181.32 L435.81,178.33 L436.31,175.58 L436.81,172.40 L437.31,168.91 L437.81,166.99 L438.31,172.98 L438.81,175.82 L439.31,170.52" fill="none" stroke="#1f77b4" stroke-width="1.35" stroke-linejoin="round" stroke-linecap="round"/>
</g>
<g clip-path="url(#cB3)">
<path d="M493.00,204.99 L664.80,135.99" fill="none" stroke="#1f77b4" stroke-width="1.50" stroke-linejoin="round" stroke-linecap="round" stroke-dasharray="5.2 2.3" stroke-linecap="butt"/>
<path d="M493.00,208.44 L664.80,139.44" fill="none" stroke="#ff7f0e" stroke-width="1.50" stroke-linejoin="round" stroke-linecap="round" stroke-dasharray="5.2 2.3" stroke-linecap="butt"/>
<path d="M493.00,205.53 L495.86,204.12 L498.73,203.13 L501.59,201.71 L504.45,200.22 L507.32,199.03 L510.18,198.41 L513.04,197.24 L515.91,196.28 L518.77,194.97 L521.63,194.24 L524.50,192.94 L527.36,191.81 L530.22,191.05 L533.09,189.73 L535.95,188.72 L538.81,188.00 L541.68,186.48 L544.54,185.50 L547.40,184.16 L550.27,182.99 L553.13,181.42 L555.99,180.30 L558.86,179.20 L561.72,177.65 L564.58,176.23 L567.45,175.32 L570.31,174.19 L573.17,172.93 L576.04,171.44 L578.90,170.34 L581.76,169.52 L584.63,168.34 L587.49,167.38 L590.35,166.69 L593.22,165.88 L596.08,164.45 L598.94,163.44 L601.81,162.47 L604.67,161.41 L607.53,160.10 L610.40,158.82 L613.26,157.70 L616.12,156.40 L618.99,154.99 L621.85,153.42 L624.71,152.32 L627.58,151.27 L630.44,150.04 L633.30,148.73 L636.17,147.75 L639.03,146.65 L641.89,145.36 L644.76,144.62 L647.62,143.33 L650.48,142.41 L653.35,141.17 L656.21,140.12 L659.07,139.12 L661.94,138.05 L664.80,137.16" fill="none" stroke="#2ca02c" stroke-width="1.50" stroke-linejoin="round" stroke-linecap="round"/>
</g>
<rect x="629.80" y="63.40" width="39.50" height="23.60" rx="1.6" fill="#fff" fill-opacity="0.8" stroke="#d0d0d0" stroke-width="0.7"/>
<line x1="631.9" y1="69.6" x2="646.6" y2="69.6" stroke="#1f77b4" stroke-width="1.1"/>
<line x1="631.9" y1="80.7" x2="646.6" y2="80.7" stroke="#ff7f0e" stroke-width="1.25" stroke-dasharray="3.2 1.6"/>
<text x="652.60" y="72.20" font-size="7.45" text-anchor="start" fill="#111" font-family="Liberation Sans" textLength="13.92" lengthAdjust="spacingAndGlyphs" stroke="#111" stroke-width="0.10">p53</text>
<text x="652.60" y="83.30" font-size="7.45" text-anchor="start" fill="#111" font-family="Liberation Sans" textLength="13.92" lengthAdjust="spacingAndGlyphs" stroke="#111" stroke-width="0.10">p21</text>
<rect x="571.50" y="178.40" width="97.80" height="31.00" rx="1.6" fill="#fff" fill-opacity="0.8" stroke="#d0d0d0" stroke-width="0.7"/>
<line x1="573.4" y1="183.80" x2="588.2" y2="183.80" stroke="#1f77b4" stroke-width="1.5" stroke-dasharray="5.2 2.3"/>
<line x1="573.4" y1="193.10" x2="588.2" y2="193.10" stroke="#ff7f0e" stroke-width="1.5" stroke-dasharray="5.2 2.3"/>
<line x1="573.4" y1="202.90" x2="588.2" y2="202.90" stroke="#2ca02c" stroke-width="1.5"/>
<text x="592.60" y="186.10" font-size="6.58" text-anchor="start" fill="#111" font-family="Liberation Sans" textLength="70.98" lengthAdjust="spacingAndGlyphs" stroke="#111" stroke-width="0.10">p21 - p53 = 3.5 hours</text>
<text x="592.60" y="195.40" font-size="6.58" text-anchor="start" fill="#111" font-family="Liberation Sans" textLength="73.31" lengthAdjust="spacingAndGlyphs" stroke="#111" stroke-width="0.10">p21 - p53 = -2.5 hours</text>
<text x="592.60" y="205.20" font-size="6.58" text-anchor="start" fill="#111" font-family="Liberation Sans" textLength="43.56" lengthAdjust="spacingAndGlyphs" stroke="#111" stroke-width="0.10">Warping Path</text>
<defs>
<clipPath id="ccl0"><rect x="66.40" y="507.50" width="247.20" height="32.50"/></clipPath>
<clipPath id="ccl1"><rect x="66.40" y="565.75" width="247.20" height="32.50"/></clipPath>
<clipPath id="ccl2"><rect x="66.40" y="624.00" width="247.20" height="32.50"/></clipPath>
<clipPath id="ccl3"><rect x="66.40" y="682.25" width="247.20" height="32.50"/></clipPath>
<clipPath id="ccl4"><rect x="66.40" y="740.50" width="247.20" height="32.50"/></clipPath>
</defs>
<g clip-path="url(#ccl0)">
<path d="M66.25,517.51 L67.08,517.83 L67.90,518.14 L68.73,518.45 L69.55,518.75 L70.38,519.04 L71.20,519.32 L72.02,519.60 L72.85,519.86 L73.67,520.12 L74.50,520.38 L75.33,520.62 L76.15,520.86 L76.98,521.09 L77.80,521.31 L78.62,521.53 L79.45,521.73 L80.27,521.93 L81.10,522.12 L81.92,522.31 L82.75,522.49 L83.58,522.66 L84.40,522.82 L85.23,522.97 L86.05,523.12 L86.88,523.26 L87.70,523.39 L88.52,523.51 L89.35,523.63 L90.17,523.74 L91.00,523.84 L91.83,523.93 L92.65,524.02 L93.48,524.10 L94.30,524.17 L95.12,524.23 L95.95,524.29 L96.77,524.34 L97.60,524.38 L98.42,524.41 L99.25,524.44 L100.08,524.45 L100.90,524.46 L101.73,524.47 L102.55,524.45 L103.38,524.41 L104.20,524.35 L105.02,524.28 L105.85,524.18 L106.67,524.06 L107.50,523.93 L108.33,523.78 L109.15,523.61 L109.98,523.43 L110.80,523.24 L111.62,523.03 L112.45,522.80 L113.27,522.57 L114.10,522.32 L114.92,522.06 L115.75,521.80 L116.58,521.52 L117.40,521.23 L118.23,520.94 L119.05,520.64 L119.88,520.34 L120.70,520.03 L121.52,519.71 L122.35,519.39 L123.17,519.07 L124.00,518.75 L124.83,518.42 L125.65,518.10 L126.48,517.77 L127.30,517.45 L128.12,517.13 L128.95,516.81 L129.78,516.49 L130.60,516.18 L131.43,515.87 L132.25,515.57 L133.07,515.27 L133.90,514.99 L134.73,514.71 L135.55,514.43 L136.38,514.17 L137.20,513.92 L138.03,513.68 L138.85,513.45 L139.68,513.24 L140.50,513.04 L141.32,512.85 L142.15,512.68 L142.98,512.52 L143.80,512.38 L144.62,512.26 L145.45,512.15 L146.28,512.07 L147.10,512.00 L147.93,511.95 L148.75,511.93 L149.58,511.93 L150.40,511.95 L151.23,512.00 L152.05,512.08 L152.88,512.17 L153.70,512.30 L154.53,512.44 L155.35,512.61 L156.18,512.79 L157.00,513.00 L157.83,513.22 L158.65,513.46 L159.47,513.72 L160.30,514.00 L161.12,514.28 L161.95,514.59 L162.78,514.91 L163.60,515.24 L164.43,515.58 L165.25,515.93 L166.08,516.29 L166.90,516.66 L167.72,517.04 L168.55,517.42 L169.38,517.82 L170.20,518.21 L171.03,518.61 L171.85,519.02 L172.68,519.43 L173.50,519.84 L174.33,520.25 L175.15,520.66 L175.97,521.07 L176.80,521.48 L177.62,521.88 L178.45,522.28 L179.28,522.68 L180.10,523.07 L180.93,523.46 L181.75,523.84 L182.58,524.21 L183.40,524.57 L184.22,524.92 L185.05,525.26 L185.88,525.59 L186.70,525.91 L187.53,526.21 L188.35,526.50 L189.18,526.78 L190.00,527.03 L190.83,527.28 L191.65,527.50 L192.47,527.70 L193.30,527.89 L194.12,528.06 L194.95,528.20 L195.78,528.32 L196.60,528.42 L197.43,528.49 L198.25,528.54 L199.08,528.57 L199.90,528.56 L200.72,528.53 L201.55,528.46 L202.38,528.37 L203.20,528.24 L204.03,528.09 L204.85,527.91 L205.68,527.70 L206.50,527.47 L207.33,527.22 L208.15,526.95 L208.97,526.65 L209.80,526.34 L210.62,526.00 L211.45,525.65 L212.28,525.28 L213.10,524.90 L213.93,524.50 L214.75,524.09 L215.58,523.66 L216.40,523.23 L217.22,522.79 L218.05,522.33 L218.88,521.87 L219.70,521.40 L220.53,520.93 L221.35,520.46 L222.18,519.98 L223.00,519.49 L223.83,519.01 L224.65,518.53 L225.48,518.05 L226.30,517.57 L227.12,517.09 L227.95,516.62 L228.78,516.16 L229.60,515.70 L230.43,515.25 L231.25,514.81 L232.08,514.38 L232.90,513.96 L233.73,513.56 L234.55,513.16 L235.38,512.79 L236.20,512.42 L237.03,512.08 L237.85,511.75 L238.68,511.44 L239.50,511.16 L240.33,510.89 L241.15,510.65 L241.98,510.43 L242.80,510.23 L243.62,510.06 L244.45,509.92 L245.28,509.81 L246.10,509.72 L246.93,509.67 L247.75,509.65 L248.58,509.65 L249.40,509.69 L250.23,509.75 L251.05,509.83 L251.88,509.93 L252.70,510.06 L253.53,510.21 L254.35,510.38 L255.18,510.57 L256.00,510.78 L256.83,511.00 L257.65,511.24 L258.48,511.50 L259.30,511.77 L260.12,512.06 L260.95,512.36 L261.78,512.67 L262.60,513.00 L263.43,513.33 L264.25,513.68 L265.08,514.03 L265.90,514.39 L266.73,514.76 L267.55,515.14 L268.38,515.52 L269.20,515.90 L270.03,516.29 L270.85,516.68 L271.68,517.08 L272.50,517.47 L273.33,517.87 L274.15,518.26 L274.98,518.65 L275.80,519.04 L276.62,519.43 L277.45,519.81 L278.28,520.19 L279.10,520.56 L279.93,520.92 L280.75,521.28 L281.58,521.62 L282.40,521.96 L283.23,522.29 L284.05,522.60 L284.88,522.91 L285.70,523.19 L286.53,523.47 L287.35,523.73 L288.18,523.98 L289.00,524.21 L289.83,524.42 L290.65,524.61 L291.48,524.78 L292.30,524.93 L293.12,525.07 L293.95,525.18 L294.78,525.26 L295.60,525.33 L296.43,525.36 L297.25,525.38 L298.08,525.37 L298.90,525.35 L299.73,525.31 L300.55,525.26 L301.38,525.19 L302.20,525.12 L303.03,525.03 L303.85,524.92 L304.68,524.81 L305.50,524.68 L306.33,524.54 L307.15,524.39 L307.98,524.24 L308.80,524.07 L309.62,523.89 L310.45,523.70 L311.28,523.51 L312.10,523.30 L312.93,523.09 L313.75,522.87 L313.75,530.87 L312.93,531.09 L312.10,531.30 L311.28,531.51 L310.45,531.70 L309.62,531.89 L308.80,532.07 L307.98,532.24 L307.15,532.39 L306.33,532.54 L305.50,532.68 L304.68,532.81 L303.85,532.92 L303.03,533.03 L302.20,533.12 L301.38,533.19 L300.55,533.26 L299.73,533.31 L298.90,533.35 L298.08,533.37 L297.25,533.38 L296.43,533.36 L295.60,533.33 L294.78,533.26 L293.95,533.18 L293.12,533.07 L292.30,532.93 L291.48,532.78 L290.65,532.61 L289.83,532.42 L289.00,532.21 L288.18,531.98 L287.35,531.73 L286.53,531.47 L285.70,531.19 L284.88,530.91 L284.05,530.60 L283.23,530.29 L282.40,529.96 L281.58,529.62 L280.75,529.28 L279.93,528.92 L279.10,528.56 L278.28,528.19 L277.45,527.81 L276.62,527.43 L275.80,527.04 L274.98,526.65 L274.15,526.26 L273.33,525.87 L272.50,525.47 L271.68,525.08 L270.85,524.68 L270.03,524.29 L269.20,523.90 L268.38,523.52 L267.55,523.14 L266.73,522.76 L265.90,522.39 L265.08,522.03 L264.25,521.68 L263.43,521.33 L262.60,521.00 L261.78,520.67 L260.95,520.36 L260.12,520.06 L259.30,519.77 L258.48,519.50 L257.65,519.24 L256.83,519.00 L256.00,518.78 L255.18,518.57 L254.35,518.38 L253.53,518.21 L252.70,518.06 L251.88,517.93 L251.05,517.83 L250.23,517.75 L249.40,517.69 L248.58,517.65 L247.75,517.65 L246.93,517.67 L246.10,517.72 L245.28,517.81 L244.45,517.92 L243.62,518.06 L242.80,518.23 L241.98,518.43 L241.15,518.65 L240.33,518.89 L239.50,519.16 L238.68,519.44 L237.85,519.75 L237.03,520.08 L236.20,520.42 L235.38,520.79 L234.55,521.16 L233.73,521.56 L232.90,521.96 L232.08,522.38 L231.25,522.81 L230.43,523.25 L229.60,523.70 L228.78,524.16 L227.95,524.62 L227.12,525.09 L226.30,525.57 L225.48,526.05 L224.65,526.53 L223.83,527.01 L223.00,527.49 L222.18,527.98 L221.35,528.46 L220.53,528.93 L219.70,529.40 L218.88,529.87 L218.05,530.33 L217.22,530.79 L216.40,531.23 L215.58,531.66 L214.75,532.09 L213.93,532.50 L213.10,532.90 L212.28,533.28 L211.45,533.65 L210.62,534.00 L209.80,534.34 L208.97,534.65 L208.15,534.95 L207.33,535.22 L206.50,535.47 L205.68,535.70 L204.85,535.91 L204.03,536.09 L203.20,536.24 L202.38,536.37 L201.55,536.46 L200.72,536.53 L199.90,536.56 L199.08,536.57 L198.25,536.54 L197.43,536.49 L196.60,536.42 L195.78,536.32 L194.95,536.20 L194.12,536.06 L193.30,535.89 L192.47,535.70 L191.65,535.50 L190.83,535.28 L190.00,535.03 L189.18,534.78 L188.35,534.50 L187.53,534.21 L186.70,533.91 L185.88,533.59 L185.05,533.26 L184.22,532.92 L183.40,532.57 L182.58,532.21 L181.75,531.84 L180.93,531.46 L180.10,531.07 L179.28,530.68 L178.45,530.28 L177.62,529.88 L176.80,529.48 L175.97,529.07 L175.15,528.66 L174.33,528.25 L173.50,527.84 L172.68,527.43 L171.85,527.02 L171.03,526.61 L170.20,526.21 L169.38,525.82 L168.55,525.42 L167.72,525.04 L166.90,524.66 L166.08,524.29 L165.25,523.93 L164.43,523.58 L163.60,523.24 L162.78,522.91 L161.95,522.59 L161.12,522.28 L160.30,522.00 L159.47,521.72 L158.65,521.46 L157.83,521.22 L157.00,521.00 L156.18,520.79 L155.35,520.61 L154.53,520.44 L153.70,520.30 L152.88,520.17 L152.05,520.08 L151.23,520.00 L150.40,519.95 L149.58,519.93 L148.75,519.93 L147.93,519.95 L147.10,520.00 L146.28,520.07 L145.45,520.15 L144.62,520.26 L143.80,520.38 L142.98,520.52 L142.15,520.68 L141.32,520.85 L140.50,521.04 L139.68,521.24 L138.85,521.45 L138.03,521.68 L137.20,521.92 L136.38,522.17 L135.55,522.43 L134.73,522.71 L133.90,522.99 L133.07,523.27 L132.25,523.57 L131.43,523.87 L130.60,524.18 L129.78,524.49 L128.95,524.81 L128.12,525.13 L127.30,525.45 L126.48,525.77 L125.65,526.10 L124.83,526.42 L124.00,526.75 L123.17,527.07 L122.35,527.39 L121.52,527.71 L120.70,528.03 L119.88,528.34 L119.05,528.64 L118.23,528.94 L117.40,529.23 L116.58,529.52 L115.75,529.80 L114.92,530.06 L114.10,530.32 L113.27,530.57 L112.45,530.80 L111.62,531.03 L110.80,531.24 L109.98,531.43 L109.15,531.61 L108.33,531.78 L107.50,531.93 L106.67,532.06 L105.85,532.18 L105.02,532.28 L104.20,532.35 L103.38,532.41 L102.55,532.45 L101.73,532.47 L100.90,532.46 L100.08,532.45 L99.25,532.44 L98.42,532.41 L97.60,532.38 L96.77,532.34 L95.95,532.29 L95.12,532.23 L94.30,532.17 L93.48,532.10 L92.65,532.02 L91.83,531.93 L91.00,531.84 L90.17,531.74 L89.35,531.63 L88.52,531.51 L87.70,531.39 L86.88,531.26 L86.05,531.12 L85.23,530.97 L84.40,530.82 L83.58,530.66 L82.75,530.49 L81.92,530.31 L81.10,530.12 L80.27,529.93 L79.45,529.73 L78.62,529.53 L77.80,529.31 L76.98,529.09 L76.15,528.86 L75.33,528.62 L74.50,528.38 L73.67,528.12 L72.85,527.86 L72.02,527.60 L71.20,527.32 L70.38,527.04 L69.55,526.75 L68.73,526.45 L67.90,526.14 L67.08,525.83 L66.25,525.51 Z" fill="#fedcc2" stroke="none"/>
<path d="M66.25,521.51 L67.08,521.83 L67.90,522.14 L68.73,522.45 L69.55,522.75 L70.38,523.04 L71.20,523.32 L72.02,523.60 L72.85,523.86 L73.67,524.12 L74.50,524.38 L75.33,524.62 L76.15,524.86 L76.98,525.09 L77.80,525.31 L78.62,525.53 L79.45,525.73 L80.27,525.93 L81.10,526.12 L81.92,526.31 L82.75,526.49 L83.58,526.66 L84.40,526.82 L85.23,526.97 L86.05,527.12 L86.88,527.26 L87.70,527.39 L88.52,527.51 L89.35,527.63 L90.17,527.74 L91.00,527.84 L91.83,527.93 L92.65,528.02 L93.48,528.10 L94.30,528.17 L95.12,528.23 L95.95,528.29 L96.77,528.34 L97.60,528.38 L98.42,528.41 L99.25,528.44 L100.08,528.45 L100.90,528.46 L101.73,528.47 L102.55,528.45 L103.38,528.41 L104.20,528.35 L105.02,528.28 L105.85,528.18 L106.67,528.06 L107.50,527.93 L108.33,527.78 L109.15,527.61 L109.98,527.43 L110.80,527.24 L111.62,527.03 L112.45,526.80 L113.27,526.57 L114.10,526.32 L114.92,526.06 L115.75,525.80 L116.58,525.52 L117.40,525.23 L118.23,524.94 L119.05,524.64 L119.88,524.34 L120.70,524.03 L121.52,523.71 L122.35,523.39 L123.17,523.07 L124.00,522.75 L124.83,522.42 L125.65,522.10 L126.48,521.77 L127.30,521.45 L128.12,521.13 L128.95,520.81 L129.78,520.49 L130.60,520.18 L131.43,519.87 L132.25,519.57 L133.07,519.27 L133.90,518.99 L134.73,518.71 L135.55,518.43 L136.38,518.17 L137.20,517.92 L138.03,517.68 L138.85,517.45 L139.68,517.24 L140.50,517.04 L141.32,516.85 L142.15,516.68 L142.98,516.52 L143.80,516.38 L144.62,516.26 L145.45,516.15 L146.28,516.07 L147.10,516.00 L147.93,515.95 L148.75,515.93 L149.58,515.93 L150.40,515.95 L151.23,516.00 L152.05,516.08 L152.88,516.17 L153.70,516.30 L154.53,516.44 L155.35,516.61 L156.18,516.79 L157.00,517.00 L157.83,517.22 L158.65,517.46 L159.47,517.72 L160.30,518.00 L161.12,518.28 L161.95,518.59 L162.78,518.91 L163.60,519.24 L164.43,519.58 L165.25,519.93 L166.08,520.29 L166.90,520.66 L167.72,521.04 L168.55,521.42 L169.38,521.82 L170.20,522.21 L171.03,522.61 L171.85,523.02 L172.68,523.43 L173.50,523.84 L174.33,524.25 L175.15,524.66 L175.97,525.07 L176.80,525.48 L177.62,525.88 L178.45,526.28 L179.28,526.68 L180.10,527.07 L180.93,527.46 L181.75,527.84 L182.58,528.21 L183.40,528.57 L184.22,528.92 L185.05,529.26 L185.88,529.59 L186.70,529.91 L187.53,530.21 L188.35,530.50 L189.18,530.78 L190.00,531.03 L190.83,531.28 L191.65,531.50 L192.47,531.70 L193.30,531.89 L194.12,532.06 L194.95,532.20 L195.78,532.32 L196.60,532.42 L197.43,532.49 L198.25,532.54 L199.08,532.57 L199.90,532.56 L200.72,532.53 L201.55,532.46 L202.38,532.37 L203.20,532.24 L204.03,532.09 L204.85,531.91 L205.68,531.70 L206.50,531.47 L207.33,531.22 L208.15,530.95 L208.97,530.65 L209.80,530.34 L210.62,530.00 L211.45,529.65 L212.28,529.28 L213.10,528.90 L213.93,528.50 L214.75,528.09 L215.58,527.66 L216.40,527.23 L217.22,526.79 L218.05,526.33 L218.88,525.87 L219.70,525.40 L220.53,524.93 L221.35,524.46 L222.18,523.98 L223.00,523.49 L223.83,523.01 L224.65,522.53 L225.48,522.05 L226.30,521.57 L227.12,521.09 L227.95,520.62 L228.78,520.16 L229.60,519.70 L230.43,519.25 L231.25,518.81 L232.08,518.38 L232.90,517.96 L233.73,517.56 L234.55,517.16 L235.38,516.79 L236.20,516.42 L237.03,516.08 L237.85,515.75 L238.68,515.44 L239.50,515.16 L240.33,514.89 L241.15,514.65 L241.98,514.43 L242.80,514.23 L243.62,514.06 L244.45,513.92 L245.28,513.81 L246.10,513.72 L246.93,513.67 L247.75,513.65 L248.58,513.65 L249.40,513.69 L250.23,513.75 L251.05,513.83 L251.88,513.93 L252.70,514.06 L253.53,514.21 L254.35,514.38 L255.18,514.57 L256.00,514.78 L256.83,515.00 L257.65,515.24 L258.48,515.50 L259.30,515.77 L260.12,516.06 L260.95,516.36 L261.78,516.67 L262.60,517.00 L263.43,517.33 L264.25,517.68 L265.08,518.03 L265.90,518.39 L266.73,518.76 L267.55,519.14 L268.38,519.52 L269.20,519.90 L270.03,520.29 L270.85,520.68 L271.68,521.08 L272.50,521.47 L273.33,521.87 L274.15,522.26 L274.98,522.65 L275.80,523.04 L276.62,523.43 L277.45,523.81 L278.28,524.19 L279.10,524.56 L279.93,524.92 L280.75,525.28 L281.58,525.62 L282.40,525.96 L283.23,526.29 L284.05,526.60 L284.88,526.91 L285.70,527.19 L286.53,527.47 L287.35,527.73 L288.18,527.98 L289.00,528.21 L289.83,528.42 L290.65,528.61 L291.48,528.78 L292.30,528.93 L293.12,529.07 L293.95,529.18 L294.78,529.26 L295.60,529.33 L296.43,529.36 L297.25,529.38 L298.08,529.37 L298.90,529.35 L299.73,529.31 L300.55,529.26 L301.38,529.19 L302.20,529.12 L303.03,529.03 L303.85,528.92 L304.68,528.81 L305.50,528.68 L306.33,528.54 L307.15,528.39 L307.98,528.24 L308.80,528.07 L309.62,527.89 L310.45,527.70 L311.28,527.51 L312.10,527.30 L312.93,527.09 L313.75,526.87" fill="none" stroke="#ff7f0e" stroke-width="1.60" stroke-linejoin="round" stroke-linecap="round"/>
</g>
<g clip-path="url(#ccl1)">
<path d="M66.25,576.39 L67.08,576.62 L67.90,576.85 L68.73,577.07 L69.55,577.29 L70.38,577.50 L71.20,577.70 L72.02,577.90 L72.85,578.09 L73.67,578.27 L74.50,578.45 L75.33,578.62 L76.15,578.79 L76.98,578.95 L77.80,579.10 L78.62,579.25 L79.45,579.40 L80.27,579.53 L81.10,579.67 L81.92,579.79 L82.75,579.92 L83.58,580.03 L84.40,580.15 L85.23,580.25 L86.05,580.36 L86.88,580.45 L87.70,580.55 L88.52,580.63 L89.35,580.72 L90.17,580.79 L91.00,580.87 L91.83,580.94 L92.65,581.00 L93.48,581.06 L94.30,581.12 L95.12,581.17 L95.95,581.22 L96.77,581.27 L97.60,581.31 L98.42,581.34 L99.25,581.38 L100.08,581.41 L100.90,581.43 L101.73,581.46 L102.55,581.47 L103.38,581.49 L104.20,581.50 L105.02,581.51 L105.85,581.52 L106.67,581.52 L107.50,581.52 L108.33,581.50 L109.15,581.46 L109.98,581.40 L110.80,581.32 L111.62,581.23 L112.45,581.13 L113.27,581.00 L114.10,580.87 L114.92,580.72 L115.75,580.56 L116.58,580.39 L117.40,580.20 L118.23,580.01 L119.05,579.81 L119.88,579.60 L120.70,579.38 L121.52,579.15 L122.35,578.92 L123.17,578.68 L124.00,578.44 L124.83,578.20 L125.65,577.95 L126.48,577.69 L127.30,577.44 L128.12,577.19 L128.95,576.93 L129.78,576.68 L130.60,576.43 L131.43,576.18 L132.25,575.93 L133.07,575.69 L133.90,575.46 L134.73,575.22 L135.55,575.00 L136.38,574.78 L137.20,574.57 L138.03,574.37 L138.85,574.17 L139.68,573.99 L140.50,573.82 L141.32,573.66 L142.15,573.51 L142.98,573.37 L143.80,573.25 L144.62,573.14 L145.45,573.05 L146.28,572.98 L147.10,572.92 L147.93,572.88 L148.75,572.86 L149.58,572.86 L150.40,572.88 L151.23,572.93 L152.05,573.01 L152.88,573.11 L153.70,573.23 L154.53,573.38 L155.35,573.54 L156.18,573.73 L157.00,573.93 L157.83,574.14 L158.65,574.38 L159.47,574.62 L160.30,574.88 L161.12,575.16 L161.95,575.44 L162.78,575.73 L163.60,576.03 L164.43,576.34 L165.25,576.65 L166.08,576.96 L166.90,577.28 L167.72,577.60 L168.55,577.92 L169.38,578.25 L170.20,578.57 L171.03,578.88 L171.85,579.19 L172.68,579.50 L173.50,579.80 L174.33,580.09 L175.15,580.36 L175.97,580.62 L176.80,580.86 L177.62,581.08 L178.45,581.26 L179.28,581.41 L180.10,581.50 L180.93,581.54 L181.75,581.51 L182.58,581.42 L183.40,581.28 L184.22,581.09 L185.05,580.89 L185.88,580.70 L186.70,580.56 L187.53,580.49 L188.35,580.52 L189.18,580.66 L190.00,580.90 L190.83,581.27 L191.65,581.73 L192.47,582.25 L193.30,582.81 L194.12,583.36 L194.95,583.88 L195.78,584.35 L196.60,584.76 L197.43,585.10 L198.25,585.37 L199.08,585.57 L199.90,585.68 L200.72,585.71 L201.55,585.69 L202.38,585.64 L203.20,585.56 L204.03,585.45 L204.85,585.31 L205.68,585.14 L206.50,584.95 L207.33,584.74 L208.15,584.50 L208.97,584.25 L209.80,583.97 L210.62,583.68 L211.45,583.37 L212.28,583.04 L213.10,582.70 L213.93,582.34 L214.75,581.97 L215.58,581.60 L216.40,581.21 L217.22,580.81 L218.05,580.40 L218.88,579.99 L219.70,579.57 L220.53,579.15 L221.35,578.73 L222.18,578.30 L223.00,577.87 L223.83,577.45 L224.65,577.02 L225.48,576.60 L226.30,576.18 L227.12,575.77 L227.95,575.36 L228.78,574.96 L229.60,574.57 L230.43,574.19 L231.25,573.82 L232.08,573.46 L232.90,573.11 L233.73,572.78 L234.55,572.47 L235.38,572.17 L236.20,571.89 L237.03,571.63 L237.85,571.39 L238.68,571.18 L239.50,570.98 L240.33,570.81 L241.15,570.66 L241.98,570.54 L242.80,570.45 L243.62,570.39 L244.45,570.35 L245.28,570.35 L246.10,570.37 L246.93,570.41 L247.75,570.48 L248.58,570.56 L249.40,570.66 L250.23,570.78 L251.05,570.92 L251.88,571.08 L252.70,571.25 L253.53,571.44 L254.35,571.65 L255.18,571.86 L256.00,572.09 L256.83,572.33 L257.65,572.59 L258.48,572.85 L259.30,573.12 L260.12,573.41 L260.95,573.70 L261.78,573.99 L262.60,574.30 L263.43,574.61 L264.25,574.92 L265.08,575.24 L265.90,575.56 L266.73,575.88 L267.55,576.21 L268.38,576.54 L269.20,576.86 L270.03,577.19 L270.85,577.51 L271.68,577.83 L272.50,578.15 L273.33,578.46 L274.15,578.77 L274.98,579.07 L275.80,579.37 L276.62,579.66 L277.45,579.94 L278.28,580.21 L279.10,580.47 L279.93,580.72 L280.75,580.96 L281.58,581.19 L282.40,581.40 L283.23,581.60 L284.05,581.79 L284.88,581.96 L285.70,582.11 L286.53,582.25 L287.35,582.37 L288.18,582.47 L289.00,582.55 L289.83,582.61 L290.65,582.64 L291.48,582.66 L292.30,582.66 L293.12,582.65 L293.95,582.63 L294.78,582.61 L295.60,582.57 L296.43,582.53 L297.25,582.48 L298.08,582.43 L298.90,582.37 L299.73,582.30 L300.55,582.22 L301.38,582.13 L302.20,582.04 L303.03,581.94 L303.85,581.83 L304.68,581.71 L305.50,581.59 L306.33,581.46 L307.15,581.32 L307.98,581.17 L308.80,581.01 L309.62,580.85 L310.45,580.68 L311.28,580.50 L312.10,580.32 L312.93,580.12 L313.75,579.92 L313.75,587.12 L312.93,587.32 L312.10,587.52 L311.28,587.70 L310.45,587.88 L309.62,588.05 L308.80,588.21 L307.98,588.37 L307.15,588.52 L306.33,588.66 L305.50,588.79 L304.68,588.91 L303.85,589.03 L303.03,589.14 L302.20,589.24 L301.38,589.33 L300.55,589.42 L299.73,589.50 L298.90,589.57 L298.08,589.63 L297.25,589.68 L296.43,589.73 L295.60,589.77 L294.78,589.81 L293.95,589.83 L293.12,589.85 L292.30,589.86 L291.48,589.86 L290.65,589.84 L289.83,589.81 L289.00,589.75 L288.18,589.67 L287.35,589.57 L286.53,589.45 L285.70,589.31 L284.88,589.16 L284.05,588.99 L283.23,588.80 L282.40,588.60 L281.58,588.39 L280.75,588.16 L279.93,587.92 L279.10,587.67 L278.28,587.41 L277.45,587.14 L276.62,586.86 L275.80,586.57 L274.98,586.27 L274.15,585.97 L273.33,585.66 L272.50,585.35 L271.68,585.03 L270.85,584.71 L270.03,584.39 L269.20,584.06 L268.38,583.74 L267.55,583.41 L266.73,583.08 L265.90,582.76 L265.08,582.44 L264.25,582.12 L263.43,581.81 L262.60,581.50 L261.78,581.19 L260.95,580.90 L260.12,580.61 L259.30,580.32 L258.48,580.05 L257.65,579.79 L256.83,579.53 L256.00,579.29 L255.18,579.06 L254.35,578.85 L253.53,578.64 L252.70,578.45 L251.88,578.28 L251.05,578.12 L250.23,577.98 L249.40,577.86 L248.58,577.76 L247.75,577.68 L246.93,577.61 L246.10,577.57 L245.28,577.55 L244.45,577.55 L243.62,577.59 L242.80,577.65 L241.98,577.74 L241.15,577.86 L240.33,578.01 L239.50,578.18 L238.68,578.38 L237.85,578.59 L237.03,578.83 L236.20,579.09 L235.38,579.37 L234.55,579.67 L233.73,579.98 L232.90,580.31 L232.08,580.66 L231.25,581.02 L230.43,581.39 L229.60,581.77 L228.78,582.16 L227.95,582.56 L227.12,582.97 L226.30,583.38 L225.48,583.80 L224.65,584.22 L223.83,584.65 L223.00,585.07 L222.18,585.50 L221.35,585.93 L220.53,586.35 L219.70,586.77 L218.88,587.19 L218.05,587.60 L217.22,588.01 L216.40,588.41 L215.58,588.80 L214.75,589.17 L213.93,589.54 L213.10,589.90 L212.28,590.24 L211.45,590.57 L210.62,590.88 L209.80,591.17 L208.97,591.45 L208.15,591.70 L207.33,591.94 L206.50,592.15 L205.68,592.34 L204.85,592.51 L204.03,592.65 L203.20,592.76 L202.38,592.85 L201.55,592.91 L200.72,592.94 L199.90,592.92 L199.08,592.84 L198.25,592.70 L197.43,592.50 L196.60,592.27 L195.78,592.01 L194.95,591.73 L194.12,591.44 L193.30,591.16 L192.47,590.90 L191.65,590.66 L190.83,590.46 L190.00,590.32 L189.18,590.21 L188.35,590.12 L187.53,590.04 L186.70,589.97 L185.88,589.90 L185.05,589.82 L184.22,589.74 L183.40,589.63 L182.58,589.51 L181.75,589.36 L180.93,589.20 L180.10,589.01 L179.28,588.81 L178.45,588.59 L177.62,588.36 L176.80,588.11 L175.97,587.85 L175.15,587.58 L174.33,587.29 L173.50,587.00 L172.68,586.70 L171.85,586.39 L171.03,586.08 L170.20,585.77 L169.38,585.45 L168.55,585.12 L167.72,584.80 L166.90,584.48 L166.08,584.16 L165.25,583.85 L164.43,583.54 L163.60,583.23 L162.78,582.93 L161.95,582.64 L161.12,582.36 L160.30,582.08 L159.47,581.82 L158.65,581.58 L157.83,581.34 L157.00,581.13 L156.18,580.93 L155.35,580.74 L154.53,580.58 L153.70,580.43 L152.88,580.31 L152.05,580.21 L151.23,580.13 L150.40,580.08 L149.58,580.06 L148.75,580.06 L147.93,580.08 L147.10,580.12 L146.28,580.18 L145.45,580.25 L144.62,580.34 L143.80,580.45 L142.98,580.57 L142.15,580.71 L141.32,580.86 L140.50,581.02 L139.68,581.19 L138.85,581.37 L138.03,581.57 L137.20,581.77 L136.38,581.98 L135.55,582.20 L134.73,582.42 L133.90,582.66 L133.07,582.89 L132.25,583.13 L131.43,583.38 L130.60,583.63 L129.78,583.88 L128.95,584.13 L128.12,584.39 L127.30,584.64 L126.48,584.89 L125.65,585.15 L124.83,585.40 L124.00,585.64 L123.17,585.88 L122.35,586.12 L121.52,586.35 L120.70,586.58 L119.88,586.80 L119.05,587.01 L118.23,587.21 L117.40,587.40 L116.58,587.59 L115.75,587.76 L114.92,587.92 L114.10,588.07 L113.27,588.20 L112.45,588.33 L111.62,588.43 L110.80,588.52 L109.98,588.60 L109.15,588.66 L108.33,588.70 L107.50,588.72 L106.67,588.72 L105.85,588.72 L105.02,588.71 L104.20,588.70 L103.38,588.69 L102.55,588.67 L101.73,588.66 L100.90,588.63 L100.08,588.61 L99.25,588.58 L98.42,588.54 L97.60,588.51 L96.77,588.47 L95.95,588.42 L95.12,588.37 L94.30,588.32 L93.48,588.26 L92.65,588.20 L91.83,588.14 L91.00,588.07 L90.17,587.99 L89.35,587.92 L88.52,587.83 L87.70,587.75 L86.88,587.65 L86.05,587.56 L85.23,587.45 L84.40,587.35 L83.58,587.23 L82.75,587.12 L81.92,586.99 L81.10,586.87 L80.27,586.73 L79.45,586.60 L78.62,586.45 L77.80,586.30 L76.98,586.15 L76.15,585.99 L75.33,585.82 L74.50,585.65 L73.67,585.47 L72.85,585.29 L72.02,585.10 L71.20,584.90 L70.38,584.70 L69.55,584.49 L68.73,584.27 L67.90,584.05 L67.08,583.82 L66.25,583.59 Z" fill="#fedcc2" stroke="none"/>
<path d="M66.25,579.99 L67.08,580.22 L67.90,580.45 L68.73,580.67 L69.55,580.89 L70.38,581.10 L71.20,581.30 L72.02,581.50 L72.85,581.69 L73.67,581.87 L74.50,582.05 L75.33,582.22 L76.15,582.39 L76.98,582.55 L77.80,582.70 L78.62,582.85 L79.45,583.00 L80.27,583.13 L81.10,583.27 L81.92,583.39 L82.75,583.52 L83.58,583.63 L84.40,583.75 L85.23,583.85 L86.05,583.96 L86.88,584.05 L87.70,584.15 L88.52,584.23 L89.35,584.32 L90.17,584.39 L91.00,584.47 L91.83,584.54 L92.65,584.60 L93.48,584.66 L94.30,584.72 L95.12,584.77 L95.95,584.82 L96.77,584.87 L97.60,584.91 L98.42,584.94 L99.25,584.98 L100.08,585.01 L100.90,585.03 L101.73,585.06 L102.55,585.07 L103.38,585.09 L104.20,585.10 L105.02,585.11 L105.85,585.12 L106.67,585.12 L107.50,585.12 L108.33,585.10 L109.15,585.06 L109.98,585.00 L110.80,584.92 L111.62,584.83 L112.45,584.73 L113.27,584.60 L114.10,584.47 L114.92,584.32 L115.75,584.16 L116.58,583.99 L117.40,583.80 L118.23,583.61 L119.05,583.41 L119.88,583.20 L120.70,582.98 L121.52,582.75 L122.35,582.52 L123.17,582.28 L124.00,582.04 L124.83,581.80 L125.65,581.55 L126.48,581.29 L127.30,581.04 L128.12,580.79 L128.95,580.53 L129.78,580.28 L130.60,580.03 L131.43,579.78 L132.25,579.53 L133.07,579.29 L133.90,579.06 L134.73,578.82 L135.55,578.60 L136.38,578.38 L137.20,578.17 L138.03,577.97 L138.85,577.77 L139.68,577.59 L140.50,577.42 L141.32,577.26 L142.15,577.11 L142.98,576.97 L143.80,576.85 L144.62,576.74 L145.45,576.65 L146.28,576.58 L147.10,576.52 L147.93,576.48 L148.75,576.46 L149.58,576.46 L150.40,576.48 L151.23,576.53 L152.05,576.61 L152.88,576.71 L153.70,576.83 L154.53,576.98 L155.35,577.14 L156.18,577.33 L157.00,577.53 L157.83,577.74 L158.65,577.98 L159.47,578.22 L160.30,578.48 L161.12,578.76 L161.95,579.04 L162.78,579.33 L163.60,579.63 L164.43,579.94 L165.25,580.25 L166.08,580.56 L166.90,580.88 L167.72,581.20 L168.55,581.52 L169.38,581.85 L170.20,582.17 L171.03,582.48 L171.85,582.79 L172.68,583.10 L173.50,583.40 L174.33,583.69 L175.15,583.98 L175.97,584.25 L176.80,584.51 L177.62,584.76 L178.45,584.99 L179.28,585.21 L180.10,585.41 L180.93,585.60 L181.75,585.76 L182.58,585.91 L183.40,586.03 L184.22,586.14 L185.05,586.22 L185.88,586.30 L186.70,586.37 L187.53,586.44 L188.35,586.52 L189.18,586.61 L190.00,586.72 L190.83,586.86 L191.65,587.06 L192.47,587.30 L193.30,587.56 L194.12,587.84 L194.95,588.13 L195.78,588.41 L196.60,588.67 L197.43,588.90 L198.25,589.10 L199.08,589.24 L199.90,589.32 L200.72,589.34 L201.55,589.31 L202.38,589.25 L203.20,589.16 L204.03,589.05 L204.85,588.91 L205.68,588.74 L206.50,588.55 L207.33,588.34 L208.15,588.10 L208.97,587.85 L209.80,587.57 L210.62,587.28 L211.45,586.97 L212.28,586.64 L213.10,586.30 L213.93,585.94 L214.75,585.57 L215.58,585.20 L216.40,584.81 L217.22,584.41 L218.05,584.00 L218.88,583.59 L219.70,583.17 L220.53,582.75 L221.35,582.33 L222.18,581.90 L223.00,581.47 L223.83,581.05 L224.65,580.62 L225.48,580.20 L226.30,579.78 L227.12,579.37 L227.95,578.96 L228.78,578.56 L229.60,578.17 L230.43,577.79 L231.25,577.42 L232.08,577.06 L232.90,576.71 L233.73,576.38 L234.55,576.07 L235.38,575.77 L236.20,575.49 L237.03,575.23 L237.85,574.99 L238.68,574.78 L239.50,574.58 L240.33,574.41 L241.15,574.26 L241.98,574.14 L242.80,574.05 L243.62,573.99 L244.45,573.95 L245.28,573.95 L246.10,573.97 L246.93,574.01 L247.75,574.08 L248.58,574.16 L249.40,574.26 L250.23,574.38 L251.05,574.52 L251.88,574.68 L252.70,574.85 L253.53,575.04 L254.35,575.25 L255.18,575.46 L256.00,575.69 L256.83,575.93 L257.65,576.19 L258.48,576.45 L259.30,576.72 L260.12,577.01 L260.95,577.30 L261.78,577.59 L262.60,577.90 L263.43,578.21 L264.25,578.52 L265.08,578.84 L265.90,579.16 L266.73,579.48 L267.55,579.81 L268.38,580.14 L269.20,580.46 L270.03,580.79 L270.85,581.11 L271.68,581.43 L272.50,581.75 L273.33,582.06 L274.15,582.37 L274.98,582.67 L275.80,582.97 L276.62,583.26 L277.45,583.54 L278.28,583.81 L279.10,584.07 L279.93,584.32 L280.75,584.56 L281.58,584.79 L282.40,585.00 L283.23,585.20 L284.05,585.39 L284.88,585.56 L285.70,585.71 L286.53,585.85 L287.35,585.97 L288.18,586.07 L289.00,586.15 L289.83,586.21 L290.65,586.24 L291.48,586.26 L292.30,586.26 L293.12,586.25 L293.95,586.23 L294.78,586.21 L295.60,586.17 L296.43,586.13 L297.25,586.08 L298.08,586.03 L298.90,585.97 L299.73,585.90 L300.55,585.82 L301.38,585.73 L302.20,585.64 L303.03,585.54 L303.85,585.43 L304.68,585.31 L305.50,585.19 L306.33,585.06 L307.15,584.92 L307.98,584.77 L308.80,584.61 L309.62,584.45 L310.45,584.28 L311.28,584.10 L312.10,583.92 L312.93,583.72 L313.75,583.52" fill="none" stroke="#ff7f0e" stroke-width="1.60" stroke-linejoin="round" stroke-linecap="round"/>
</g>
<g clip-path="url(#ccl2)">
<path d="M66.25,634.61 L67.08,634.82 L67.90,635.02 L68.73,635.21 L69.55,635.40 L70.38,635.59 L71.20,635.77 L72.02,635.95 L72.85,636.12 L73.67,636.28 L74.50,636.45 L75.33,636.60 L76.15,636.75 L76.98,636.90 L77.80,637.04 L78.62,637.18 L79.45,637.31 L80.27,637.44 L81.10,637.56 L81.92,637.68 L82.75,637.80 L83.58,637.90 L84.40,638.01 L85.23,638.11 L86.05,638.20 L86.88,638.29 L87.70,638.37 L88.52,638.45 L89.35,638.53 L90.17,638.60 L91.00,638.66 L91.83,638.72 L92.65,638.77 L93.48,638.82 L94.30,638.87 L95.12,638.91 L95.95,638.95 L96.77,638.98 L97.60,639.00 L98.42,639.02 L99.25,639.04 L100.08,639.05 L100.90,639.06 L101.73,639.06 L102.55,639.05 L103.38,639.02 L104.20,638.99 L105.02,638.94 L105.85,638.87 L106.67,638.80 L107.50,638.71 L108.33,638.62 L109.15,638.51 L109.98,638.39 L110.80,638.27 L111.62,638.13 L112.45,637.99 L113.27,637.84 L114.10,637.68 L114.92,637.52 L115.75,637.35 L116.58,637.17 L117.40,636.99 L118.23,636.80 L119.05,636.61 L119.88,636.42 L120.70,636.22 L121.52,636.02 L122.35,635.82 L123.17,635.61 L124.00,635.41 L124.83,635.20 L125.65,635.00 L126.48,634.79 L127.30,634.59 L128.12,634.39 L128.95,634.19 L129.78,633.99 L130.60,633.79 L131.43,633.60 L132.25,633.41 L133.07,633.23 L133.90,633.05 L134.73,632.88 L135.55,632.72 L136.38,632.56 L137.20,632.40 L138.03,632.26 L138.85,632.12 L139.68,631.99 L140.50,631.88 L141.32,631.77 L142.15,631.67 L142.98,631.58 L143.80,631.50 L144.62,631.44 L145.45,631.39 L146.28,631.35 L147.10,631.32 L147.93,631.31 L148.75,631.31 L149.58,631.33 L150.40,631.37 L151.23,631.42 L152.05,631.49 L152.88,631.58 L153.70,631.68 L154.53,631.80 L155.35,631.93 L156.18,632.07 L157.00,632.23 L157.83,632.40 L158.65,632.58 L159.47,632.77 L160.30,632.97 L161.12,633.18 L161.95,633.40 L162.78,633.63 L163.60,633.87 L164.43,634.11 L165.25,634.36 L166.08,634.62 L166.90,634.88 L167.72,635.15 L168.55,635.42 L169.38,635.70 L170.20,635.98 L171.03,636.26 L171.85,636.55 L172.68,636.83 L173.50,637.12 L174.33,637.41 L175.15,637.69 L175.97,637.98 L176.80,638.26 L177.62,638.54 L178.45,638.82 L179.28,639.10 L180.10,639.37 L180.93,639.64 L181.75,639.90 L182.58,640.16 L183.40,640.41 L184.22,640.65 L185.05,640.88 L185.88,641.11 L186.70,641.33 L187.53,641.54 L188.35,641.74 L189.18,641.93 L190.00,642.11 L190.83,642.27 L191.65,642.43 L192.47,642.57 L193.30,642.70 L194.12,642.81 L194.95,642.91 L195.78,642.99 L196.60,643.06 L197.43,643.11 L198.25,643.14 L199.08,643.16 L199.90,643.16 L200.72,643.13 L201.55,643.07 L202.38,642.99 L203.20,642.89 L204.03,642.76 L204.85,642.61 L205.68,642.44 L206.50,642.25 L207.33,642.04 L208.15,641.81 L208.97,641.56 L209.80,641.30 L210.62,641.02 L211.45,640.73 L212.28,640.43 L213.10,640.12 L213.93,639.79 L214.75,639.45 L215.58,639.11 L216.40,638.75 L217.22,638.39 L218.05,638.02 L218.88,637.65 L219.70,637.28 L220.53,636.90 L221.35,636.51 L222.18,636.13 L223.00,635.75 L223.83,635.37 L224.65,634.99 L225.48,634.61 L226.30,634.24 L227.12,633.87 L227.95,633.51 L228.78,633.15 L229.60,632.80 L230.43,632.47 L231.25,632.14 L232.08,631.82 L232.90,631.51 L233.73,631.22 L234.55,630.94 L235.38,630.68 L236.20,630.43 L237.03,630.20 L237.85,629.98 L238.68,629.79 L239.50,629.61 L240.33,629.46 L241.15,629.33 L241.98,629.22 L242.80,629.13 L243.62,629.07 L244.45,629.03 L245.28,629.03 L246.10,629.04 L246.93,629.07 L247.75,629.12 L248.58,629.19 L249.40,629.28 L250.23,629.38 L251.05,629.50 L251.88,629.63 L252.70,629.77 L253.53,629.93 L254.35,630.11 L255.18,630.29 L256.00,630.49 L256.83,630.70 L257.65,630.92 L258.48,631.14 L259.30,631.38 L260.12,631.63 L260.95,631.88 L261.78,632.14 L262.60,632.41 L263.43,632.68 L264.25,632.96 L265.08,633.24 L265.90,633.52 L266.73,633.81 L267.55,634.10 L268.38,634.40 L269.20,634.69 L270.03,634.99 L270.85,635.28 L271.68,635.57 L272.50,635.87 L273.33,636.15 L274.15,636.44 L274.98,636.73 L275.80,637.00 L276.62,637.28 L277.45,637.55 L278.28,637.81 L279.10,638.07 L279.93,638.32 L280.75,638.56 L281.58,638.79 L282.40,639.01 L283.23,639.22 L284.05,639.42 L284.88,639.61 L285.70,639.79 L286.53,639.96 L287.35,640.11 L288.18,640.25 L289.00,640.37 L289.83,640.48 L290.65,640.57 L291.48,640.65 L292.30,640.70 L293.12,640.74 L293.95,640.76 L294.78,640.77 L295.60,640.75 L296.43,640.73 L297.25,640.69 L298.08,640.64 L298.90,640.58 L299.73,640.50 L300.55,640.41 L301.38,640.32 L302.20,640.21 L303.03,640.09 L303.85,639.96 L304.68,639.83 L305.50,639.68 L306.33,639.52 L307.15,639.36 L307.98,639.19 L308.80,639.01 L309.62,638.82 L310.45,638.63 L311.28,638.43 L312.10,638.23 L312.93,638.02 L313.75,637.80 L313.75,644.60 L312.93,644.82 L312.10,645.03 L311.28,645.23 L310.45,645.43 L309.62,645.62 L308.80,645.81 L307.98,645.99 L307.15,646.16 L306.33,646.32 L305.50,646.48 L304.68,646.63 L303.85,646.76 L303.03,646.89 L302.20,647.01 L301.38,647.12 L300.55,647.21 L299.73,647.30 L298.90,647.38 L298.08,647.44 L297.25,647.49 L296.43,647.53 L295.60,647.55 L294.78,647.57 L293.95,647.56 L293.12,647.54 L292.30,647.50 L291.48,647.45 L290.65,647.37 L289.83,647.28 L289.00,647.17 L288.18,647.05 L287.35,646.91 L286.53,646.76 L285.70,646.59 L284.88,646.41 L284.05,646.22 L283.23,646.02 L282.40,645.81 L281.58,645.59 L280.75,645.36 L279.93,645.12 L279.10,644.87 L278.28,644.61 L277.45,644.35 L276.62,644.08 L275.80,643.80 L274.98,643.53 L274.15,643.24 L273.33,642.95 L272.50,642.67 L271.68,642.37 L270.85,642.08 L270.03,641.79 L269.20,641.49 L268.38,641.20 L267.55,640.90 L266.73,640.61 L265.90,640.32 L265.08,640.04 L264.25,639.76 L263.43,639.48 L262.60,639.21 L261.78,638.94 L260.95,638.68 L260.12,638.43 L259.30,638.18 L258.48,637.94 L257.65,637.72 L256.83,637.50 L256.00,637.29 L255.18,637.09 L254.35,636.91 L253.53,636.73 L252.70,636.57 L251.88,636.43 L251.05,636.30 L250.23,636.18 L249.40,636.08 L248.58,635.99 L247.75,635.92 L246.93,635.87 L246.10,635.84 L245.28,635.83 L244.45,635.83 L243.62,635.87 L242.80,635.93 L241.98,636.02 L241.15,636.13 L240.33,636.26 L239.50,636.41 L238.68,636.59 L237.85,636.78 L237.03,637.00 L236.20,637.23 L235.38,637.48 L234.55,637.74 L233.73,638.02 L232.90,638.31 L232.08,638.62 L231.25,638.94 L230.43,639.27 L229.60,639.60 L228.78,639.95 L227.95,640.31 L227.12,640.67 L226.30,641.04 L225.48,641.41 L224.65,641.79 L223.83,642.17 L223.00,642.55 L222.18,642.93 L221.35,643.31 L220.53,643.70 L219.70,644.08 L218.88,644.45 L218.05,644.82 L217.22,645.19 L216.40,645.55 L215.58,645.91 L214.75,646.25 L213.93,646.59 L213.10,646.92 L212.28,647.23 L211.45,647.53 L210.62,647.82 L209.80,648.10 L208.97,648.36 L208.15,648.61 L207.33,648.84 L206.50,649.05 L205.68,649.24 L204.85,649.41 L204.03,649.56 L203.20,649.69 L202.38,649.79 L201.55,649.87 L200.72,649.93 L199.90,649.96 L199.08,649.96 L198.25,649.94 L197.43,649.91 L196.60,649.86 L195.78,649.79 L194.95,649.71 L194.12,649.61 L193.30,649.50 L192.47,649.37 L191.65,649.23 L190.83,649.07 L190.00,648.91 L189.18,648.73 L188.35,648.54 L187.53,648.34 L186.70,648.13 L185.88,647.91 L185.05,647.68 L184.22,647.45 L183.40,647.21 L182.58,646.96 L181.75,646.70 L180.93,646.44 L180.10,646.17 L179.28,645.90 L178.45,645.62 L177.62,645.34 L176.80,645.06 L175.97,644.78 L175.15,644.49 L174.33,644.21 L173.50,643.92 L172.68,643.63 L171.85,643.35 L171.03,643.06 L170.20,642.78 L169.38,642.50 L168.55,642.22 L167.72,641.95 L166.90,641.68 L166.08,641.42 L165.25,641.16 L164.43,640.91 L163.60,640.67 L162.78,640.43 L161.95,640.20 L161.12,639.98 L160.30,639.77 L159.47,639.57 L158.65,639.38 L157.83,639.20 L157.00,639.03 L156.18,638.87 L155.35,638.73 L154.53,638.60 L153.70,638.48 L152.88,638.38 L152.05,638.29 L151.23,638.22 L150.40,638.17 L149.58,638.13 L148.75,638.11 L147.93,638.11 L147.10,638.12 L146.28,638.15 L145.45,638.19 L144.62,638.24 L143.80,638.30 L142.98,638.38 L142.15,638.47 L141.32,638.57 L140.50,638.68 L139.68,638.79 L138.85,638.92 L138.03,639.06 L137.20,639.20 L136.38,639.36 L135.55,639.52 L134.73,639.68 L133.90,639.85 L133.07,640.03 L132.25,640.21 L131.43,640.40 L130.60,640.59 L129.78,640.79 L128.95,640.99 L128.12,641.19 L127.30,641.39 L126.48,641.59 L125.65,641.80 L124.83,642.00 L124.00,642.21 L123.17,642.41 L122.35,642.62 L121.52,642.82 L120.70,643.02 L119.88,643.22 L119.05,643.41 L118.23,643.60 L117.40,643.79 L116.58,643.97 L115.75,644.15 L114.92,644.32 L114.10,644.48 L113.27,644.64 L112.45,644.79 L111.62,644.93 L110.80,645.07 L109.98,645.19 L109.15,645.31 L108.33,645.42 L107.50,645.51 L106.67,645.60 L105.85,645.67 L105.02,645.74 L104.20,645.79 L103.38,645.82 L102.55,645.85 L101.73,645.86 L100.90,645.86 L100.08,645.85 L99.25,645.84 L98.42,645.82 L97.60,645.80 L96.77,645.78 L95.95,645.75 L95.12,645.71 L94.30,645.67 L93.48,645.62 L92.65,645.57 L91.83,645.52 L91.00,645.46 L90.17,645.40 L89.35,645.33 L88.52,645.25 L87.70,645.17 L86.88,645.09 L86.05,645.00 L85.23,644.91 L84.40,644.81 L83.58,644.70 L82.75,644.60 L81.92,644.48 L81.10,644.36 L80.27,644.24 L79.45,644.11 L78.62,643.98 L77.80,643.84 L76.98,643.70 L76.15,643.55 L75.33,643.40 L74.50,643.25 L73.67,643.08 L72.85,642.92 L72.02,642.75 L71.20,642.57 L70.38,642.39 L69.55,642.20 L68.73,642.01 L67.90,641.82 L67.08,641.62 L66.25,641.41 Z" fill="#fedcc2" stroke="none"/>
<path d="M66.25,638.01 L67.08,638.22 L67.90,638.42 L68.73,638.61 L69.55,638.80 L70.38,638.99 L71.20,639.17 L72.02,639.35 L72.85,639.52 L73.67,639.68 L74.50,639.85 L75.33,640.00 L76.15,640.15 L76.98,640.30 L77.80,640.44 L78.62,640.58 L79.45,640.71 L80.27,640.84 L81.10,640.96 L81.92,641.08 L82.75,641.20 L83.58,641.30 L84.40,641.41 L85.23,641.51 L86.05,641.60 L86.88,641.69 L87.70,641.77 L88.52,641.85 L89.35,641.93 L90.17,642.00 L91.00,642.06 L91.83,642.12 L92.65,642.17 L93.48,642.22 L94.30,642.27 L95.12,642.31 L95.95,642.35 L96.77,642.38 L97.60,642.40 L98.42,642.42 L99.25,642.44 L100.08,642.45 L100.90,642.46 L101.73,642.46 L102.55,642.45 L103.38,642.42 L104.20,642.39 L105.02,642.34 L105.85,642.27 L106.67,642.20 L107.50,642.11 L108.33,642.02 L109.15,641.91 L109.98,641.79 L110.80,641.67 L111.62,641.53 L112.45,641.39 L113.27,641.24 L114.10,641.08 L114.92,640.92 L115.75,640.75 L116.58,640.57 L117.40,640.39 L118.23,640.20 L119.05,640.01 L119.88,639.82 L120.70,639.62 L121.52,639.42 L122.35,639.22 L123.17,639.01 L124.00,638.81 L124.83,638.60 L125.65,638.40 L126.48,638.19 L127.30,637.99 L128.12,637.79 L128.95,637.59 L129.78,637.39 L130.60,637.19 L131.43,637.00 L132.25,636.81 L133.07,636.63 L133.90,636.45 L134.73,636.28 L135.55,636.12 L136.38,635.96 L137.20,635.80 L138.03,635.66 L138.85,635.52 L139.68,635.39 L140.50,635.28 L141.32,635.17 L142.15,635.07 L142.98,634.98 L143.80,634.90 L144.62,634.84 L145.45,634.79 L146.28,634.75 L147.10,634.72 L147.93,634.71 L148.75,634.71 L149.58,634.73 L150.40,634.77 L151.23,634.82 L152.05,634.89 L152.88,634.98 L153.70,635.08 L154.53,635.20 L155.35,635.33 L156.18,635.47 L157.00,635.63 L157.83,635.80 L158.65,635.98 L159.47,636.17 L160.30,636.37 L161.12,636.58 L161.95,636.80 L162.78,637.03 L163.60,637.27 L164.43,637.51 L165.25,637.76 L166.08,638.02 L166.90,638.28 L167.72,638.55 L168.55,638.82 L169.38,639.10 L170.20,639.38 L171.03,639.66 L171.85,639.95 L172.68,640.23 L173.50,640.52 L174.33,640.81 L175.15,641.09 L175.97,641.38 L176.80,641.66 L177.62,641.94 L178.45,642.22 L179.28,642.50 L180.10,642.77 L180.93,643.04 L181.75,643.30 L182.58,643.56 L183.40,643.81 L184.22,644.05 L185.05,644.28 L185.88,644.51 L186.70,644.73 L187.53,644.94 L188.35,645.14 L189.18,645.33 L190.00,645.51 L190.83,645.67 L191.65,645.83 L192.47,645.97 L193.30,646.10 L194.12,646.21 L194.95,646.31 L195.78,646.39 L196.60,646.46 L197.43,646.51 L198.25,646.54 L199.08,646.56 L199.90,646.56 L200.72,646.53 L201.55,646.47 L202.38,646.39 L203.20,646.29 L204.03,646.16 L204.85,646.01 L205.68,645.84 L206.50,645.65 L207.33,645.44 L208.15,645.21 L208.97,644.96 L209.80,644.70 L210.62,644.42 L211.45,644.13 L212.28,643.83 L213.10,643.52 L213.93,643.19 L214.75,642.85 L215.58,642.51 L216.40,642.15 L217.22,641.79 L218.05,641.42 L218.88,641.05 L219.70,640.68 L220.53,640.30 L221.35,639.91 L222.18,639.53 L223.00,639.15 L223.83,638.77 L224.65,638.39 L225.48,638.01 L226.30,637.64 L227.12,637.27 L227.95,636.91 L228.78,636.55 L229.60,636.20 L230.43,635.87 L231.25,635.54 L232.08,635.22 L232.90,634.91 L233.73,634.62 L234.55,634.34 L235.38,634.08 L236.20,633.83 L237.03,633.60 L237.85,633.38 L238.68,633.19 L239.50,633.01 L240.33,632.86 L241.15,632.73 L241.98,632.62 L242.80,632.53 L243.62,632.47 L244.45,632.43 L245.28,632.43 L246.10,632.44 L246.93,632.47 L247.75,632.52 L248.58,632.59 L249.40,632.68 L250.23,632.78 L251.05,632.90 L251.88,633.03 L252.70,633.17 L253.53,633.33 L254.35,633.51 L255.18,633.69 L256.00,633.89 L256.83,634.10 L257.65,634.32 L258.48,634.54 L259.30,634.78 L260.12,635.03 L260.95,635.28 L261.78,635.54 L262.60,635.81 L263.43,636.08 L264.25,636.36 L265.08,636.64 L265.90,636.92 L266.73,637.21 L267.55,637.50 L268.38,637.80 L269.20,638.09 L270.03,638.39 L270.85,638.68 L271.68,638.97 L272.50,639.27 L273.33,639.55 L274.15,639.84 L274.98,640.13 L275.80,640.40 L276.62,640.68 L277.45,640.95 L278.28,641.21 L279.10,641.47 L279.93,641.72 L280.75,641.96 L281.58,642.19 L282.40,642.41 L283.23,642.62 L284.05,642.82 L284.88,643.01 L285.70,643.19 L286.53,643.36 L287.35,643.51 L288.18,643.65 L289.00,643.77 L289.83,643.88 L290.65,643.97 L291.48,644.05 L292.30,644.10 L293.12,644.14 L293.95,644.16 L294.78,644.17 L295.60,644.15 L296.43,644.13 L297.25,644.09 L298.08,644.04 L298.90,643.98 L299.73,643.90 L300.55,643.81 L301.38,643.72 L302.20,643.61 L303.03,643.49 L303.85,643.36 L304.68,643.23 L305.50,643.08 L306.33,642.92 L307.15,642.76 L307.98,642.59 L308.80,642.41 L309.62,642.22 L310.45,642.03 L311.28,641.83 L312.10,641.63 L312.93,641.42 L313.75,641.20" fill="none" stroke="#ff7f0e" stroke-width="1.60" stroke-linejoin="round" stroke-linecap="round"/>
</g>
<g clip-path="url(#ccl3)">
<path d="M66.25,694.52 L67.08,694.62 L67.90,694.73 L68.73,694.83 L69.55,694.92 L70.38,695.02 L71.20,695.11 L72.02,695.19 L72.85,695.27 L73.67,695.35 L74.50,695.43 L75.33,695.50 L76.15,695.57 L76.98,695.64 L77.80,695.70 L78.62,695.76 L79.45,695.82 L80.27,695.88 L81.10,695.93 L81.92,695.98 L82.75,696.03 L83.58,696.07 L84.40,696.12 L85.23,696.16 L86.05,696.19 L86.88,696.23 L87.70,696.26 L88.52,696.29 L89.35,696.32 L90.17,696.35 L91.00,696.37 L91.83,696.40 L92.65,696.42 L93.48,696.44 L94.30,696.46 L95.12,696.47 L95.95,696.49 L96.77,696.50 L97.60,696.51 L98.42,696.52 L99.25,696.53 L100.08,696.54 L100.90,696.55 L101.73,696.55 L102.55,696.56 L103.38,696.56 L104.20,696.56 L105.02,696.57 L105.85,696.57 L106.67,696.57 L107.50,696.57 L108.33,696.55 L109.15,696.53 L109.98,696.50 L110.80,696.45 L111.62,696.40 L112.45,696.34 L113.27,696.27 L114.10,696.19 L114.92,696.11 L115.75,696.02 L116.58,695.92 L117.40,695.81 L118.23,695.70 L119.05,695.59 L119.88,695.47 L120.70,695.34 L121.52,695.22 L122.35,695.09 L123.17,694.95 L124.00,694.82 L124.83,694.68 L125.65,694.54 L126.48,694.40 L127.30,694.26 L128.12,694.12 L128.95,693.98 L129.78,693.84 L130.60,693.71 L131.43,693.57 L132.25,693.44 L133.07,693.31 L133.90,693.18 L134.73,693.06 L135.55,692.94 L136.38,692.83 L137.20,692.72 L138.03,692.62 L138.85,692.52 L139.68,692.43 L140.50,692.35 L141.32,692.28 L142.15,692.21 L142.98,692.15 L143.80,692.10 L144.62,692.06 L145.45,692.03 L146.28,692.02 L147.10,692.01 L147.93,692.01 L148.75,692.04 L149.58,692.09 L150.40,692.16 L151.23,692.24 L152.05,692.34 L152.88,692.46 L153.70,692.59 L154.53,692.74 L155.35,692.89 L156.18,693.06 L157.00,693.24 L157.83,693.43 L158.65,693.63 L159.47,693.84 L160.30,694.05 L161.12,694.26 L161.95,694.48 L162.78,694.70 L163.60,694.93 L164.43,695.15 L165.25,695.38 L166.08,695.60 L166.90,695.82 L167.72,696.04 L168.55,696.25 L169.38,696.46 L170.20,696.66 L171.03,696.85 L171.85,697.04 L172.68,697.21 L173.50,697.37 L174.33,697.52 L175.15,697.66 L175.97,697.78 L176.80,697.88 L177.62,697.95 L178.45,698.01 L179.28,698.03 L180.10,698.01 L180.93,697.96 L181.75,697.83 L182.58,697.61 L183.40,697.31 L184.22,696.95 L185.05,696.56 L185.88,696.16 L186.70,695.80 L187.53,695.49 L188.35,695.28 L189.18,695.20 L190.00,695.28 L190.83,695.56 L191.65,696.00 L192.47,696.56 L193.30,697.19 L194.12,697.85 L194.95,698.50 L195.78,699.09 L196.60,699.60 L197.43,700.00 L198.25,700.26 L199.08,700.36 L199.90,700.38 L200.72,700.37 L201.55,700.33 L202.38,700.27 L203.20,700.18 L204.03,700.08 L204.85,699.96 L205.68,699.83 L206.50,699.68 L207.33,699.52 L208.15,699.35 L208.97,699.16 L209.80,698.96 L210.62,698.76 L211.45,698.54 L212.28,698.31 L213.10,698.08 L213.93,697.83 L214.75,697.58 L215.58,697.33 L216.40,697.07 L217.22,696.80 L218.05,696.53 L218.88,696.26 L219.70,695.98 L220.53,695.70 L221.35,695.43 L222.18,695.15 L223.00,694.87 L223.83,694.59 L224.65,694.32 L225.48,694.04 L226.30,693.77 L227.12,693.51 L227.95,693.25 L228.78,692.99 L229.60,692.75 L230.43,692.50 L231.25,692.27 L232.08,692.05 L232.90,691.83 L233.73,691.62 L234.55,691.43 L235.38,691.24 L236.20,691.07 L237.03,690.91 L237.85,690.77 L238.68,690.64 L239.50,690.52 L240.33,690.42 L241.15,690.34 L241.98,690.27 L242.80,690.22 L243.62,690.19 L244.45,690.18 L245.28,690.19 L246.10,690.22 L246.93,690.25 L247.75,690.31 L248.58,690.37 L249.40,690.45 L250.23,690.54 L251.05,690.65 L251.88,690.76 L252.70,690.89 L253.53,691.02 L254.35,691.17 L255.18,691.32 L256.00,691.49 L256.83,691.66 L257.65,691.83 L258.48,692.02 L259.30,692.21 L260.12,692.40 L260.95,692.60 L261.78,692.81 L262.60,693.01 L263.43,693.22 L264.25,693.44 L265.08,693.65 L265.90,693.87 L266.73,694.08 L267.55,694.30 L268.38,694.51 L269.20,694.73 L270.03,694.94 L270.85,695.15 L271.68,695.36 L272.50,695.56 L273.33,695.76 L274.15,695.95 L274.98,696.14 L275.80,696.32 L276.62,696.50 L277.45,696.67 L278.28,696.83 L279.10,696.98 L279.93,697.12 L280.75,697.26 L281.58,697.38 L282.40,697.49 L283.23,697.60 L284.05,697.69 L284.88,697.76 L285.70,697.83 L286.53,697.88 L287.35,697.91 L288.18,697.93 L289.00,697.94 L289.83,697.93 L290.65,697.93 L291.48,697.92 L292.30,697.90 L293.12,697.89 L293.95,697.87 L294.78,697.84 L295.60,697.81 L296.43,697.78 L297.25,697.74 L298.08,697.70 L298.90,697.65 L299.73,697.60 L300.55,697.55 L301.38,697.49 L302.20,697.42 L303.03,697.35 L303.85,697.28 L304.68,697.20 L305.50,697.12 L306.33,697.03 L307.15,696.94 L307.98,696.84 L308.80,696.73 L309.62,696.62 L310.45,696.51 L311.28,696.39 L312.10,696.26 L312.93,696.13 L313.75,696.00 L313.75,702.00 L312.93,702.13 L312.10,702.26 L311.28,702.39 L310.45,702.51 L309.62,702.62 L308.80,702.73 L307.98,702.84 L307.15,702.94 L306.33,703.03 L305.50,703.12 L304.68,703.20 L303.85,703.28 L303.03,703.35 L302.20,703.42 L301.38,703.49 L300.55,703.55 L299.73,703.60 L298.90,703.65 L298.08,703.70 L297.25,703.74 L296.43,703.78 L295.60,703.81 L294.78,703.84 L293.95,703.87 L293.12,703.89 L292.30,703.90 L291.48,703.92 L290.65,703.93 L289.83,703.93 L289.00,703.94 L288.18,703.93 L287.35,703.91 L286.53,703.88 L285.70,703.83 L284.88,703.76 L284.05,703.69 L283.23,703.60 L282.40,703.49 L281.58,703.38 L280.75,703.26 L279.93,703.12 L279.10,702.98 L278.28,702.83 L277.45,702.67 L276.62,702.50 L275.80,702.32 L274.98,702.14 L274.15,701.95 L273.33,701.76 L272.50,701.56 L271.68,701.36 L270.85,701.15 L270.03,700.94 L269.20,700.73 L268.38,700.51 L267.55,700.30 L266.73,700.08 L265.90,699.87 L265.08,699.65 L264.25,699.44 L263.43,699.22 L262.60,699.01 L261.78,698.81 L260.95,698.60 L260.12,698.40 L259.30,698.21 L258.48,698.02 L257.65,697.83 L256.83,697.66 L256.00,697.49 L255.18,697.32 L254.35,697.17 L253.53,697.02 L252.70,696.89 L251.88,696.76 L251.05,696.65 L250.23,696.54 L249.40,696.45 L248.58,696.37 L247.75,696.31 L246.93,696.25 L246.10,696.22 L245.28,696.19 L244.45,696.18 L243.62,696.19 L242.80,696.22 L241.98,696.27 L241.15,696.34 L240.33,696.42 L239.50,696.52 L238.68,696.64 L237.85,696.77 L237.03,696.91 L236.20,697.07 L235.38,697.24 L234.55,697.43 L233.73,697.62 L232.90,697.83 L232.08,698.05 L231.25,698.27 L230.43,698.50 L229.60,698.75 L228.78,698.99 L227.95,699.25 L227.12,699.51 L226.30,699.77 L225.48,700.04 L224.65,700.32 L223.83,700.59 L223.00,700.87 L222.18,701.15 L221.35,701.43 L220.53,701.70 L219.70,701.98 L218.88,702.26 L218.05,702.53 L217.22,702.80 L216.40,703.07 L215.58,703.33 L214.75,703.58 L213.93,703.83 L213.10,704.08 L212.28,704.31 L211.45,704.54 L210.62,704.76 L209.80,704.96 L208.97,705.16 L208.15,705.35 L207.33,705.52 L206.50,705.68 L205.68,705.83 L204.85,705.97 L204.03,706.09 L203.20,706.19 L202.38,706.28 L201.55,706.35 L200.72,706.40 L199.90,706.44 L199.08,706.46 L198.25,706.43 L197.43,706.26 L196.60,705.99 L195.78,705.63 L194.95,705.23 L194.12,704.81 L193.30,704.39 L192.47,704.00 L191.65,703.66 L190.83,703.40 L190.00,703.24 L189.18,703.20 L188.35,703.24 L187.53,703.33 L186.70,703.46 L185.88,703.61 L185.05,703.76 L184.22,703.91 L183.40,704.05 L182.58,704.16 L181.75,704.22 L180.93,704.22 L180.10,704.18 L179.28,704.13 L178.45,704.07 L177.62,703.99 L176.80,703.90 L175.97,703.79 L175.15,703.66 L174.33,703.52 L173.50,703.37 L172.68,703.21 L171.85,703.04 L171.03,702.85 L170.20,702.66 L169.38,702.46 L168.55,702.25 L167.72,702.04 L166.90,701.82 L166.08,701.60 L165.25,701.38 L164.43,701.15 L163.60,700.93 L162.78,700.70 L161.95,700.48 L161.12,700.26 L160.30,700.05 L159.47,699.84 L158.65,699.63 L157.83,699.43 L157.00,699.24 L156.18,699.06 L155.35,698.89 L154.53,698.74 L153.70,698.59 L152.88,698.46 L152.05,698.34 L151.23,698.24 L150.40,698.16 L149.58,698.09 L148.75,698.04 L147.93,698.01 L147.10,698.01 L146.28,698.02 L145.45,698.03 L144.62,698.06 L143.80,698.10 L142.98,698.15 L142.15,698.21 L141.32,698.28 L140.50,698.35 L139.68,698.43 L138.85,698.52 L138.03,698.62 L137.20,698.72 L136.38,698.83 L135.55,698.94 L134.73,699.06 L133.90,699.18 L133.07,699.31 L132.25,699.44 L131.43,699.57 L130.60,699.71 L129.78,699.84 L128.95,699.98 L128.12,700.12 L127.30,700.26 L126.48,700.40 L125.65,700.54 L124.83,700.68 L124.00,700.82 L123.17,700.95 L122.35,701.09 L121.52,701.22 L120.70,701.34 L119.88,701.47 L119.05,701.59 L118.23,701.70 L117.40,701.81 L116.58,701.92 L115.75,702.02 L114.92,702.11 L114.10,702.19 L113.27,702.27 L112.45,702.34 L111.62,702.40 L110.80,702.45 L109.98,702.50 L109.15,702.53 L108.33,702.55 L107.50,702.57 L106.67,702.57 L105.85,702.57 L105.02,702.57 L104.20,702.56 L103.38,702.56 L102.55,702.56 L101.73,702.55 L100.90,702.55 L100.08,702.54 L99.25,702.53 L98.42,702.52 L97.60,702.51 L96.77,702.50 L95.95,702.49 L95.12,702.47 L94.30,702.46 L93.48,702.44 L92.65,702.42 L91.83,702.40 L91.00,702.37 L90.17,702.35 L89.35,702.32 L88.52,702.29 L87.70,702.26 L86.88,702.23 L86.05,702.19 L85.23,702.16 L84.40,702.12 L83.58,702.07 L82.75,702.03 L81.92,701.98 L81.10,701.93 L80.27,701.88 L79.45,701.82 L78.62,701.76 L77.80,701.70 L76.98,701.64 L76.15,701.57 L75.33,701.50 L74.50,701.43 L73.67,701.35 L72.85,701.27 L72.02,701.19 L71.20,701.11 L70.38,701.02 L69.55,700.92 L68.73,700.83 L67.90,700.73 L67.08,700.62 L66.25,700.52 Z" fill="#fedcc2" stroke="none"/>
<path d="M66.25,697.52 L67.08,697.62 L67.90,697.73 L68.73,697.83 L69.55,697.92 L70.38,698.02 L71.20,698.11 L72.02,698.19 L72.85,698.27 L73.67,698.35 L74.50,698.43 L75.33,698.50 L76.15,698.57 L76.98,698.64 L77.80,698.70 L78.62,698.76 L79.45,698.82 L80.27,698.88 L81.10,698.93 L81.92,698.98 L82.75,699.03 L83.58,699.07 L84.40,699.12 L85.23,699.16 L86.05,699.19 L86.88,699.23 L87.70,699.26 L88.52,699.29 L89.35,699.32 L90.17,699.35 L91.00,699.37 L91.83,699.40 L92.65,699.42 L93.48,699.44 L94.30,699.46 L95.12,699.47 L95.95,699.49 L96.77,699.50 L97.60,699.51 L98.42,699.52 L99.25,699.53 L100.08,699.54 L100.90,699.55 L101.73,699.55 L102.55,699.56 L103.38,699.56 L104.20,699.56 L105.02,699.57 L105.85,699.57 L106.67,699.57 L107.50,699.57 L108.33,699.55 L109.15,699.53 L109.98,699.50 L110.80,699.45 L111.62,699.40 L112.45,699.34 L113.27,699.27 L114.10,699.19 L114.92,699.11 L115.75,699.02 L116.58,698.92 L117.40,698.81 L118.23,698.70 L119.05,698.59 L119.88,698.47 L120.70,698.34 L121.52,698.22 L122.35,698.09 L123.17,697.95 L124.00,697.82 L124.83,697.68 L125.65,697.54 L126.48,697.40 L127.30,697.26 L128.12,697.12 L128.95,696.98 L129.78,696.84 L130.60,696.71 L131.43,696.57 L132.25,696.44 L133.07,696.31 L133.90,696.18 L134.73,696.06 L135.55,695.94 L136.38,695.83 L137.20,695.72 L138.03,695.62 L138.85,695.52 L139.68,695.43 L140.50,695.35 L141.32,695.28 L142.15,695.21 L142.98,695.15 L143.80,695.10 L144.62,695.06 L145.45,695.03 L146.28,695.02 L147.10,695.01 L147.93,695.01 L148.75,695.04 L149.58,695.09 L150.40,695.16 L151.23,695.24 L152.05,695.34 L152.88,695.46 L153.70,695.59 L154.53,695.74 L155.35,695.89 L156.18,696.06 L157.00,696.24 L157.83,696.43 L158.65,696.63 L159.47,696.84 L160.30,697.05 L161.12,697.26 L161.95,697.48 L162.78,697.70 L163.60,697.93 L164.43,698.15 L165.25,698.38 L166.08,698.60 L166.90,698.82 L167.72,699.04 L168.55,699.25 L169.38,699.46 L170.20,699.66 L171.03,699.85 L171.85,700.04 L172.68,700.21 L173.50,700.37 L174.33,700.52 L175.15,700.66 L175.97,700.78 L176.80,700.89 L177.62,700.98 L178.45,701.06 L179.28,701.11 L180.10,701.15 L180.93,701.16 L181.75,701.14 L182.58,701.05 L183.40,700.90 L184.22,700.72 L185.05,700.52 L185.88,700.32 L186.70,700.13 L187.53,699.97 L188.35,699.85 L189.18,699.80 L190.00,699.85 L190.83,700.03 L191.65,700.33 L192.47,700.71 L193.30,701.15 L194.12,701.62 L194.95,702.09 L195.78,702.53 L196.60,702.91 L197.43,703.21 L198.25,703.39 L199.08,703.44 L199.90,703.43 L200.72,703.40 L201.55,703.34 L202.38,703.27 L203.20,703.19 L204.03,703.08 L204.85,702.97 L205.68,702.83 L206.50,702.68 L207.33,702.52 L208.15,702.35 L208.97,702.16 L209.80,701.96 L210.62,701.76 L211.45,701.54 L212.28,701.31 L213.10,701.08 L213.93,700.83 L214.75,700.58 L215.58,700.33 L216.40,700.07 L217.22,699.80 L218.05,699.53 L218.88,699.26 L219.70,698.98 L220.53,698.70 L221.35,698.43 L222.18,698.15 L223.00,697.87 L223.83,697.59 L224.65,697.32 L225.48,697.04 L226.30,696.77 L227.12,696.51 L227.95,696.25 L228.78,695.99 L229.60,695.75 L230.43,695.50 L231.25,695.27 L232.08,695.05 L232.90,694.83 L233.73,694.62 L234.55,694.43 L235.38,694.24 L236.20,694.07 L237.03,693.91 L237.85,693.77 L238.68,693.64 L239.50,693.52 L240.33,693.42 L241.15,693.34 L241.98,693.27 L242.80,693.22 L243.62,693.19 L244.45,693.18 L245.28,693.19 L246.10,693.22 L246.93,693.25 L247.75,693.31 L248.58,693.37 L249.40,693.45 L250.23,693.54 L251.05,693.65 L251.88,693.76 L252.70,693.89 L253.53,694.02 L254.35,694.17 L255.18,694.32 L256.00,694.49 L256.83,694.66 L257.65,694.83 L258.48,695.02 L259.30,695.21 L260.12,695.40 L260.95,695.60 L261.78,695.81 L262.60,696.01 L263.43,696.22 L264.25,696.44 L265.08,696.65 L265.90,696.87 L266.73,697.08 L267.55,697.30 L268.38,697.51 L269.20,697.73 L270.03,697.94 L270.85,698.15 L271.68,698.36 L272.50,698.56 L273.33,698.76 L274.15,698.95 L274.98,699.14 L275.80,699.32 L276.62,699.50 L277.45,699.67 L278.28,699.83 L279.10,699.98 L279.93,700.12 L280.75,700.26 L281.58,700.38 L282.40,700.49 L283.23,700.60 L284.05,700.69 L284.88,700.76 L285.70,700.83 L286.53,700.88 L287.35,700.91 L288.18,700.93 L289.00,700.94 L289.83,700.93 L290.65,700.93 L291.48,700.92 L292.30,700.90 L293.12,700.89 L293.95,700.87 L294.78,700.84 L295.60,700.81 L296.43,700.78 L297.25,700.74 L298.08,700.70 L298.90,700.65 L299.73,700.60 L300.55,700.55 L301.38,700.49 L302.20,700.42 L303.03,700.35 L303.85,700.28 L304.68,700.20 L305.50,700.12 L306.33,700.03 L307.15,699.94 L307.98,699.84 L308.80,699.73 L309.62,699.62 L310.45,699.51 L311.28,699.39 L312.10,699.26 L312.93,699.13 L313.75,699.00" fill="none" stroke="#ff7f0e" stroke-width="1.60" stroke-linejoin="round" stroke-linecap="round"/>
</g>
<g clip-path="url(#ccl4)">
<path d="M66.25,753.39 L67.08,753.45 L67.90,753.51 L68.73,753.57 L69.55,753.63 L70.38,753.68 L71.20,753.73 L72.02,753.78 L72.85,753.83 L73.67,753.88 L74.50,753.92 L75.33,753.97 L76.15,754.01 L76.98,754.05 L77.80,754.09 L78.62,754.13 L79.45,754.17 L80.27,754.21 L81.10,754.24 L81.92,754.28 L82.75,754.31 L83.58,754.34 L84.40,754.37 L85.23,754.40 L86.05,754.42 L86.88,754.45 L87.70,754.47 L88.52,754.50 L89.35,754.52 L90.17,754.54 L91.00,754.56 L91.83,754.58 L92.65,754.60 L93.48,754.62 L94.30,754.63 L95.12,754.65 L95.95,754.66 L96.77,754.67 L97.60,754.69 L98.42,754.70 L99.25,754.71 L100.08,754.72 L100.90,754.72 L101.73,754.73 L102.55,754.74 L103.38,754.74 L104.20,754.75 L105.02,754.75 L105.85,754.76 L106.67,754.76 L107.50,754.76 L108.33,754.76 L109.15,754.76 L109.98,754.76 L110.80,754.75 L111.62,754.74 L112.45,754.72 L113.27,754.70 L114.10,754.68 L114.92,754.65 L115.75,754.62 L116.58,754.58 L117.40,754.54 L118.23,754.50 L119.05,754.46 L119.88,754.41 L120.70,754.36 L121.52,754.31 L122.35,754.26 L123.17,754.21 L124.00,754.16 L124.83,754.10 L125.65,754.05 L126.48,753.99 L127.30,753.94 L128.12,753.88 L128.95,753.83 L129.78,753.77 L130.60,753.72 L131.43,753.66 L132.25,753.61 L133.07,753.56 L133.90,753.52 L134.73,753.47 L135.55,753.43 L136.38,753.38 L137.20,753.35 L138.03,753.31 L138.85,753.28 L139.68,753.25 L140.50,753.23 L141.32,753.20 L142.15,753.19 L142.98,753.18 L143.80,753.17 L144.62,753.17 L145.45,753.17 L146.28,753.18 L147.10,753.19 L147.93,753.21 L148.75,753.23 L149.58,753.26 L150.40,753.28 L151.23,753.32 L152.05,753.35 L152.88,753.39 L153.70,753.43 L154.53,753.48 L155.35,753.52 L156.18,753.57 L157.00,753.61 L157.83,753.66 L158.65,753.71 L159.47,753.76 L160.30,753.81 L161.12,753.86 L161.95,753.90 L162.78,753.95 L163.60,754.00 L164.43,754.04 L165.25,754.08 L166.08,754.12 L166.90,754.15 L167.72,754.19 L168.55,754.22 L169.38,754.24 L170.20,754.26 L171.03,754.28 L171.85,754.29 L172.68,754.30 L173.50,754.30 L174.33,754.29 L175.15,754.27 L175.97,754.23 L176.80,754.17 L177.62,754.09 L178.45,753.99 L179.28,753.85 L180.10,753.67 L180.93,753.45 L181.75,753.17 L182.58,752.83 L183.40,752.37 L184.22,751.74 L185.05,750.99 L185.88,750.18 L186.70,749.38 L187.53,748.65 L188.35,748.05 L189.18,747.66 L190.00,747.51 L190.83,747.62 L191.65,747.93 L192.47,748.39 L193.30,748.95 L194.12,749.58 L194.95,750.22 L195.78,750.81 L196.60,751.35 L197.43,751.87 L198.25,752.36 L199.08,752.80 L199.90,753.20 L200.72,753.56 L201.55,753.89 L202.38,754.19 L203.20,754.47 L204.03,754.72 L204.85,754.96 L205.68,755.18 L206.50,755.38 L207.33,755.56 L208.15,755.72 L208.97,755.85 L209.80,755.96 L210.62,756.05 L211.45,756.11 L212.28,756.13 L213.10,756.13 L213.93,756.11 L214.75,756.08 L215.58,756.03 L216.40,755.98 L217.22,755.92 L218.05,755.84 L218.88,755.76 L219.70,755.67 L220.53,755.57 L221.35,755.46 L222.18,755.34 L223.00,755.23 L223.83,755.10 L224.65,754.97 L225.48,754.84 L226.30,754.71 L227.12,754.57 L227.95,754.43 L228.78,754.29 L229.60,754.15 L230.43,754.02 L231.25,753.88 L232.08,753.74 L232.90,753.61 L233.73,753.49 L234.55,753.36 L235.38,753.24 L236.20,753.13 L237.03,753.03 L237.85,752.93 L238.68,752.84 L239.50,752.75 L240.33,752.68 L241.15,752.62 L241.98,752.57 L242.80,752.53 L243.62,752.50 L244.45,752.48 L245.28,752.48 L246.10,752.49 L246.93,752.50 L247.75,752.51 L248.58,752.53 L249.40,752.55 L250.23,752.58 L251.05,752.61 L251.88,752.65 L252.70,752.68 L253.53,752.73 L254.35,752.77 L255.18,752.82 L256.00,752.86 L256.83,752.92 L257.65,752.97 L258.48,753.02 L259.30,753.08 L260.12,753.14 L260.95,753.20 L261.78,753.26 L262.60,753.32 L263.43,753.38 L264.25,753.44 L265.08,753.50 L265.90,753.56 L266.73,753.62 L267.55,753.67 L268.38,753.73 L269.20,753.79 L270.03,753.84 L270.85,753.89 L271.68,753.94 L272.50,753.99 L273.33,754.04 L274.15,754.08 L274.98,754.12 L275.80,754.16 L276.62,754.19 L277.45,754.22 L278.28,754.24 L279.10,754.27 L279.93,754.28 L280.75,754.30 L281.58,754.30 L282.40,754.31 L283.23,754.31 L284.05,754.31 L284.88,754.31 L285.70,754.31 L286.53,754.30 L287.35,754.30 L288.18,754.30 L289.00,754.30 L289.83,754.30 L290.65,754.30 L291.48,754.29 L292.30,754.29 L293.12,754.29 L293.95,754.28 L294.78,754.28 L295.60,754.27 L296.43,754.26 L297.25,754.26 L298.08,754.25 L298.90,754.24 L299.73,754.23 L300.55,754.22 L301.38,754.20 L302.20,754.19 L303.03,754.17 L303.85,754.16 L304.68,754.14 L305.50,754.12 L306.33,754.10 L307.15,754.08 L307.98,754.06 L308.80,754.03 L309.62,754.01 L310.45,753.98 L311.28,753.95 L312.10,753.92 L312.93,753.88 L313.75,753.85 L313.75,759.05 L312.93,759.08 L312.10,759.12 L311.28,759.15 L310.45,759.18 L309.62,759.21 L308.80,759.23 L307.98,759.26 L307.15,759.28 L306.33,759.30 L305.50,759.32 L304.68,759.34 L303.85,759.36 L303.03,759.37 L302.20,759.39 L301.38,759.40 L300.55,759.42 L299.73,759.43 L298.90,759.44 L298.08,759.45 L297.25,759.46 L296.43,759.46 L295.60,759.47 L294.78,759.48 L293.95,759.48 L293.12,759.49 L292.30,759.49 L291.48,759.49 L290.65,759.50 L289.83,759.50 L289.00,759.50 L288.18,759.50 L287.35,759.50 L286.53,759.50 L285.70,759.51 L284.88,759.51 L284.05,759.51 L283.23,759.51 L282.40,759.51 L281.58,759.50 L280.75,759.50 L279.93,759.48 L279.10,759.47 L278.28,759.44 L277.45,759.42 L276.62,759.39 L275.80,759.36 L274.98,759.32 L274.15,759.28 L273.33,759.24 L272.50,759.19 L271.68,759.14 L270.85,759.09 L270.03,759.04 L269.20,758.99 L268.38,758.93 L267.55,758.87 L266.73,758.82 L265.90,758.76 L265.08,758.70 L264.25,758.64 L263.43,758.58 L262.60,758.52 L261.78,758.46 L260.95,758.40 L260.12,758.34 L259.30,758.28 L258.48,758.22 L257.65,758.17 L256.83,758.12 L256.00,758.06 L255.18,758.02 L254.35,757.97 L253.53,757.93 L252.70,757.88 L251.88,757.85 L251.05,757.81 L250.23,757.78 L249.40,757.75 L248.58,757.73 L247.75,757.71 L246.93,757.70 L246.10,757.69 L245.28,757.68 L244.45,757.68 L243.62,757.70 L242.80,757.73 L241.98,757.77 L241.15,757.82 L240.33,757.88 L239.50,757.95 L238.68,758.04 L237.85,758.13 L237.03,758.23 L236.20,758.33 L235.38,758.44 L234.55,758.56 L233.73,758.69 L232.90,758.81 L232.08,758.94 L231.25,759.08 L230.43,759.22 L229.60,759.35 L228.78,759.49 L227.95,759.63 L227.12,759.77 L226.30,759.91 L225.48,760.04 L224.65,760.17 L223.83,760.30 L223.00,760.43 L222.18,760.54 L221.35,760.66 L220.53,760.77 L219.70,760.87 L218.88,760.96 L218.05,761.04 L217.22,761.12 L216.40,761.18 L215.58,761.23 L214.75,761.28 L213.93,761.31 L213.10,761.33 L212.28,761.33 L211.45,761.31 L210.62,761.25 L209.80,761.17 L208.97,761.05 L208.15,760.92 L207.33,760.76 L206.50,760.59 L205.68,760.39 L204.85,760.19 L204.03,759.98 L203.20,759.76 L202.38,759.54 L201.55,759.33 L200.72,759.13 L199.90,758.95 L199.08,758.78 L198.25,758.65 L197.43,758.54 L196.60,758.47 L195.78,758.43 L194.95,758.38 L194.12,758.30 L193.30,758.20 L192.47,758.10 L191.65,758.01 L190.83,757.94 L190.00,757.91 L189.18,757.98 L188.35,758.14 L187.53,758.36 L186.70,758.63 L185.88,758.90 L185.05,759.15 L184.22,759.36 L183.40,759.49 L182.58,759.50 L181.75,759.46 L180.93,759.43 L180.10,759.42 L179.28,759.42 L178.45,759.43 L177.62,759.45 L176.80,759.47 L175.97,759.48 L175.15,759.50 L174.33,759.51 L173.50,759.51 L172.68,759.50 L171.85,759.50 L171.03,759.48 L170.20,759.46 L169.38,759.44 L168.55,759.42 L167.72,759.39 L166.90,759.35 L166.08,759.32 L165.25,759.28 L164.43,759.24 L163.60,759.20 L162.78,759.15 L161.95,759.10 L161.12,759.06 L160.30,759.01 L159.47,758.96 L158.65,758.91 L157.83,758.86 L157.00,758.81 L156.18,758.77 L155.35,758.72 L154.53,758.68 L153.70,758.63 L152.88,758.59 L152.05,758.55 L151.23,758.52 L150.40,758.48 L149.58,758.46 L148.75,758.43 L147.93,758.41 L147.10,758.39 L146.28,758.38 L145.45,758.37 L144.62,758.37 L143.80,758.37 L142.98,758.38 L142.15,758.39 L141.32,758.40 L140.50,758.43 L139.68,758.45 L138.85,758.48 L138.03,758.51 L137.20,758.55 L136.38,758.58 L135.55,758.63 L134.73,758.67 L133.90,758.72 L133.07,758.76 L132.25,758.81 L131.43,758.86 L130.60,758.92 L129.78,758.97 L128.95,759.03 L128.12,759.08 L127.30,759.14 L126.48,759.19 L125.65,759.25 L124.83,759.30 L124.00,759.36 L123.17,759.41 L122.35,759.46 L121.52,759.51 L120.70,759.56 L119.88,759.61 L119.05,759.66 L118.23,759.70 L117.40,759.74 L116.58,759.78 L115.75,759.82 L114.92,759.85 L114.10,759.88 L113.27,759.90 L112.45,759.92 L111.62,759.94 L110.80,759.95 L109.98,759.96 L109.15,759.96 L108.33,759.96 L107.50,759.96 L106.67,759.96 L105.85,759.96 L105.02,759.95 L104.20,759.95 L103.38,759.94 L102.55,759.94 L101.73,759.93 L100.90,759.92 L100.08,759.92 L99.25,759.91 L98.42,759.90 L97.60,759.89 L96.77,759.87 L95.95,759.86 L95.12,759.85 L94.30,759.83 L93.48,759.82 L92.65,759.80 L91.83,759.78 L91.00,759.76 L90.17,759.74 L89.35,759.72 L88.52,759.70 L87.70,759.67 L86.88,759.65 L86.05,759.62 L85.23,759.60 L84.40,759.57 L83.58,759.54 L82.75,759.51 L81.92,759.48 L81.10,759.44 L80.27,759.41 L79.45,759.37 L78.62,759.33 L77.80,759.29 L76.98,759.25 L76.15,759.21 L75.33,759.17 L74.50,759.12 L73.67,759.08 L72.85,759.03 L72.02,758.98 L71.20,758.93 L70.38,758.88 L69.55,758.83 L68.73,758.77 L67.90,758.71 L67.08,758.65 L66.25,758.59 Z" fill="#fedcc2" stroke="none"/>
<path d="M66.25,755.99 L67.08,756.05 L67.90,756.11 L68.73,756.17 L69.55,756.23 L70.38,756.28 L71.20,756.33 L72.02,756.38 L72.85,756.43 L73.67,756.48 L74.50,756.52 L75.33,756.57 L76.15,756.61 L76.98,756.65 L77.80,756.69 L78.62,756.73 L79.45,756.77 L80.27,756.81 L81.10,756.84 L81.92,756.88 L82.75,756.91 L83.58,756.94 L84.40,756.97 L85.23,757.00 L86.05,757.02 L86.88,757.05 L87.70,757.07 L88.52,757.10 L89.35,757.12 L90.17,757.14 L91.00,757.16 L91.83,757.18 L92.65,757.20 L93.48,757.22 L94.30,757.23 L95.12,757.25 L95.95,757.26 L96.77,757.27 L97.60,757.29 L98.42,757.30 L99.25,757.31 L100.08,757.32 L100.90,757.32 L101.73,757.33 L102.55,757.34 L103.38,757.34 L104.20,757.35 L105.02,757.35 L105.85,757.36 L106.67,757.36 L107.50,757.36 L108.33,757.36 L109.15,757.36 L109.98,757.36 L110.80,757.35 L111.62,757.34 L112.45,757.32 L113.27,757.30 L114.10,757.28 L114.92,757.25 L115.75,757.22 L116.58,757.18 L117.40,757.14 L118.23,757.10 L119.05,757.06 L119.88,757.01 L120.70,756.96 L121.52,756.91 L122.35,756.86 L123.17,756.81 L124.00,756.76 L124.83,756.70 L125.65,756.65 L126.48,756.59 L127.30,756.54 L128.12,756.48 L128.95,756.43 L129.78,756.37 L130.60,756.32 L131.43,756.26 L132.25,756.21 L133.07,756.16 L133.90,756.12 L134.73,756.07 L135.55,756.03 L136.38,755.98 L137.20,755.95 L138.03,755.91 L138.85,755.88 L139.68,755.85 L140.50,755.83 L141.32,755.80 L142.15,755.79 L142.98,755.78 L143.80,755.77 L144.62,755.77 L145.45,755.77 L146.28,755.78 L147.10,755.79 L147.93,755.81 L148.75,755.83 L149.58,755.86 L150.40,755.88 L151.23,755.92 L152.05,755.95 L152.88,755.99 L153.70,756.03 L154.53,756.08 L155.35,756.12 L156.18,756.17 L157.00,756.21 L157.83,756.26 L158.65,756.31 L159.47,756.36 L160.30,756.41 L161.12,756.46 L161.95,756.50 L162.78,756.55 L163.60,756.60 L164.43,756.64 L165.25,756.68 L166.08,756.72 L166.90,756.75 L167.72,756.79 L168.55,756.82 L169.38,756.84 L170.20,756.86 L171.03,756.88 L171.85,756.90 L172.68,756.90 L173.50,756.91 L174.33,756.90 L175.15,756.89 L175.97,756.87 L176.80,756.84 L177.62,756.80 L178.45,756.76 L179.28,756.71 L180.10,756.65 L180.93,756.59 L181.75,756.52 L182.58,756.45 L183.40,756.30 L184.22,756.01 L185.05,755.64 L185.88,755.22 L186.70,754.78 L187.53,754.37 L188.35,754.03 L189.18,753.80 L190.00,753.71 L190.83,753.77 L191.65,753.91 L192.47,754.11 L193.30,754.36 L194.12,754.62 L194.95,754.87 L195.78,755.08 L196.60,755.28 L197.43,755.49 L198.25,755.71 L199.08,755.94 L199.90,756.18 L200.72,756.42 L201.55,756.66 L202.38,756.90 L203.20,757.13 L204.03,757.36 L204.85,757.58 L205.68,757.79 L206.50,757.98 L207.33,758.16 L208.15,758.32 L208.97,758.45 L209.80,758.56 L210.62,758.65 L211.45,758.71 L212.28,758.73 L213.10,758.73 L213.93,758.71 L214.75,758.68 L215.58,758.63 L216.40,758.58 L217.22,758.52 L218.05,758.44 L218.88,758.36 L219.70,758.27 L220.53,758.17 L221.35,758.06 L222.18,757.94 L223.00,757.83 L223.83,757.70 L224.65,757.57 L225.48,757.44 L226.30,757.31 L227.12,757.17 L227.95,757.03 L228.78,756.89 L229.60,756.75 L230.43,756.62 L231.25,756.48 L232.08,756.34 L232.90,756.21 L233.73,756.09 L234.55,755.96 L235.38,755.84 L236.20,755.73 L237.03,755.63 L237.85,755.53 L238.68,755.44 L239.50,755.35 L240.33,755.28 L241.15,755.22 L241.98,755.17 L242.80,755.13 L243.62,755.10 L244.45,755.08 L245.28,755.08 L246.10,755.09 L246.93,755.10 L247.75,755.11 L248.58,755.13 L249.40,755.15 L250.23,755.18 L251.05,755.21 L251.88,755.25 L252.70,755.28 L253.53,755.33 L254.35,755.37 L255.18,755.42 L256.00,755.46 L256.83,755.52 L257.65,755.57 L258.48,755.62 L259.30,755.68 L260.12,755.74 L260.95,755.80 L261.78,755.86 L262.60,755.92 L263.43,755.98 L264.25,756.04 L265.08,756.10 L265.90,756.16 L266.73,756.22 L267.55,756.27 L268.38,756.33 L269.20,756.39 L270.03,756.44 L270.85,756.49 L271.68,756.54 L272.50,756.59 L273.33,756.64 L274.15,756.68 L274.98,756.72 L275.80,756.76 L276.62,756.79 L277.45,756.82 L278.28,756.84 L279.10,756.87 L279.93,756.88 L280.75,756.90 L281.58,756.90 L282.40,756.91 L283.23,756.91 L284.05,756.91 L284.88,756.91 L285.70,756.91 L286.53,756.90 L287.35,756.90 L288.18,756.90 L289.00,756.90 L289.83,756.90 L290.65,756.90 L291.48,756.89 L292.30,756.89 L293.12,756.89 L293.95,756.88 L294.78,756.88 L295.60,756.87 L296.43,756.86 L297.25,756.86 L298.08,756.85 L298.90,756.84 L299.73,756.83 L300.55,756.82 L301.38,756.80 L302.20,756.79 L303.03,756.77 L303.85,756.76 L304.68,756.74 L305.50,756.72 L306.33,756.70 L307.15,756.68 L307.98,756.66 L308.80,756.63 L309.62,756.61 L310.45,756.58 L311.28,756.55 L312.10,756.52 L312.93,756.48 L313.75,756.45" fill="none" stroke="#ff7f0e" stroke-width="1.60" stroke-linejoin="round" stroke-linecap="round"/>
</g>
<g clip-path="url(#crh0)">
<rect x="381.87" y="539.40" width="12.35" height="0.40" fill="#fd8239" stroke="#000" stroke-width="0.75" stroke-dasharray="1.6 0.9"/>
<rect x="394.23" y="538.80" width="12.35" height="1.00" fill="#fd8239" stroke="#000" stroke-width="0.75" stroke-dasharray="1.6 0.9"/>
<rect x="406.58" y="538.40" width="12.35" height="1.40" fill="#fd8239" stroke="#000" stroke-width="0.75" stroke-dasharray="1.6 0.9"/>
<rect x="406.58" y="536.60" width="12.35" height="1.80" fill="#feb04b" stroke="#000" stroke-width="0.75" stroke-dasharray="1.6 0.9"/>
<rect x="406.58" y="532.60" width="12.35" height="4.00" fill="#fff1a9" stroke="#000" stroke-width="0.75" stroke-dasharray="1.6 0.9"/>
<rect x="418.93" y="538.50" width="12.35" height="1.30" fill="#f54026" stroke="#000" stroke-width="0.75" stroke-dasharray="1.6 0.9"/>
<rect x="418.93" y="535.80" width="12.35" height="2.70" fill="#fd8239" stroke="#000" stroke-width="0.75" stroke-dasharray="1.6 0.9"/>
<rect x="418.93" y="526.90" width="12.35" height="8.90" fill="#fedb7a" stroke="#000" stroke-width="0.75" stroke-dasharray="1.6 0.9"/>
<rect x="418.93" y="520.90" width="12.35" height="6.00" fill="#fff1a9" stroke="#000" stroke-width="0.75" stroke-dasharray="1.6 0.9"/>
<rect x="431.29" y="538.50" width="12.35" height="1.30" fill="#fd8239" stroke="#000" stroke-width="0.75" stroke-dasharray="1.6 0.9"/>
<rect x="431.29" y="535.50" width="12.35" height="3.00" fill="#feb04b" stroke="#000" stroke-width="0.75" stroke-dasharray="1.6 0.9"/>
<rect x="431.29" y="529.50" width="12.35" height="6.00" fill="#fedb7a" stroke="#000" stroke-width="0.75" stroke-dasharray="1.6 0.9"/>
<rect x="443.64" y="539.40" width="12.35" height="0.40" fill="#fd8239" stroke="#000" stroke-width="0.75" stroke-dasharray="1.6 0.9"/>
<rect x="456.00" y="539.40" width="12.35" height="0.40" fill="#fd8239" stroke="#000" stroke-width="0.75" stroke-dasharray="1.6 0.9"/>
<rect x="493.06" y="539.40" width="12.35" height="0.40" fill="#fd8239" stroke="#000" stroke-width="0.75" stroke-dasharray="1.6 0.9"/>
<rect x="542.47" y="539.30" width="12.35" height="0.50" fill="#fd8239" stroke="#000" stroke-width="0.75" stroke-dasharray="1.6 0.9"/>
<rect x="554.83" y="538.60" width="12.35" height="1.20" fill="#fd8239" stroke="#000" stroke-width="0.75" stroke-dasharray="1.6 0.9"/>
<rect x="554.83" y="537.10" width="12.35" height="1.50" fill="#feb04b" stroke="#000" stroke-width="0.75" stroke-dasharray="1.6 0.9"/>
<rect x="554.83" y="535.50" width="12.35" height="1.60" fill="#fedb7a" stroke="#000" stroke-width="0.75" stroke-dasharray="1.6 0.9"/>
<rect x="567.18" y="538.60" width="12.35" height="1.20" fill="#d41020" stroke="#000" stroke-width="0.75" stroke-dasharray="1.6 0.9"/>
<rect x="567.18" y="535.90" width="12.35" height="2.70" fill="#f54026" stroke="#000" stroke-width="0.75" stroke-dasharray="1.6 0.9"/>
<rect x="567.18" y="531.50" width="12.35" height="4.40" fill="#feb04b" stroke="#000" stroke-width="0.75" stroke-dasharray="1.6 0.9"/>
<rect x="567.18" y="517.70" width="12.35" height="13.80" fill="#fedb7a" stroke="#000" stroke-width="0.75" stroke-dasharray="1.6 0.9"/>
<rect x="567.18" y="510.50" width="12.35" height="7.20" fill="#fff1a9" stroke="#000" stroke-width="0.75" stroke-dasharray="1.6 0.9"/>
<rect x="579.53" y="538.60" width="12.35" height="1.20" fill="#fd8239" stroke="#000" stroke-width="0.75" stroke-dasharray="1.6 0.9"/>
<rect x="579.53" y="536.40" width="12.35" height="2.20" fill="#fedb7a" stroke="#000" stroke-width="0.75" stroke-dasharray="1.6 0.9"/>
<rect x="579.53" y="530.60" width="12.35" height="5.80" fill="#fff1a9" stroke="#000" stroke-width="0.75" stroke-dasharray="1.6 0.9"/>
<rect x="591.89" y="539.30" width="12.35" height="0.50" fill="#fd8239" stroke="#000" stroke-width="0.75" stroke-dasharray="1.6 0.9"/>
</g>
<g clip-path="url(#crh1)">
<rect x="381.87" y="597.65" width="12.35" height="0.40" fill="#fd8239" stroke="#000" stroke-width="0.75" stroke-dasharray="1.6 0.9"/>
<rect x="394.23" y="597.45" width="12.35" height="0.60" fill="#f54026" stroke="#000" stroke-width="0.75" stroke-dasharray="1.6 0.9"/>
<rect x="394.23" y="596.75" width="12.35" height="0.70" fill="#fd8239" stroke="#000" stroke-width="0.75" stroke-dasharray="1.6 0.9"/>
<rect x="406.58" y="597.05" width="12.35" height="1.00" fill="#f54026" stroke="#000" stroke-width="0.75" stroke-dasharray="1.6 0.9"/>
<rect x="406.58" y="596.05" width="12.35" height="1.00" fill="#fd8239" stroke="#000" stroke-width="0.75" stroke-dasharray="1.6 0.9"/>
<rect x="406.58" y="593.65" width="12.35" height="2.40" fill="#feb04b" stroke="#000" stroke-width="0.75" stroke-dasharray="1.6 0.9"/>
<rect x="406.58" y="591.25" width="12.35" height="2.40" fill="#fedb7a" stroke="#000" stroke-width="0.75" stroke-dasharray="1.6 0.9"/>
<rect x="418.93" y="597.05" width="12.35" height="1.00" fill="#f54026" stroke="#000" stroke-width="0.75" stroke-dasharray="1.6 0.9"/>
<rect x="418.93" y="595.45" width="12.35" height="1.60" fill="#fd8239" stroke="#000" stroke-width="0.75" stroke-dasharray="1.6 0.9"/>
<rect x="418.93" y="590.25" width="12.35" height="5.20" fill="#feb04b" stroke="#000" stroke-width="0.75" stroke-dasharray="1.6 0.9"/>
<rect x="418.93" y="584.05" width="12.35" height="6.20" fill="#fedb7a" stroke="#000" stroke-width="0.75" stroke-dasharray="1.6 0.9"/>
<rect x="431.29" y="596.05" width="12.35" height="2.00" fill="#fd8239" stroke="#000" stroke-width="0.75" stroke-dasharray="1.6 0.9"/>
<rect x="431.29" y="593.45" width="12.35" height="2.60" fill="#feb04b" stroke="#000" stroke-width="0.75" stroke-dasharray="1.6 0.9"/>
<rect x="431.29" y="591.05" width="12.35" height="2.40" fill="#fedb7a" stroke="#000" stroke-width="0.75" stroke-dasharray="1.6 0.9"/>
<rect x="443.64" y="597.65" width="12.35" height="0.40" fill="#fd8239" stroke="#000" stroke-width="0.75" stroke-dasharray="1.6 0.9"/>
<rect x="456.00" y="597.65" width="12.35" height="0.40" fill="#fd8239" stroke="#000" stroke-width="0.75" stroke-dasharray="1.6 0.9"/>
<rect x="480.70" y="597.75" width="12.35" height="0.30" fill="#fd8239" stroke="#000" stroke-width="0.75" stroke-dasharray="1.6 0.9"/>
<rect x="542.47" y="597.55" width="12.35" height="0.50" fill="#fd8239" stroke="#000" stroke-width="0.75" stroke-dasharray="1.6 0.9"/>
<rect x="554.83" y="596.95" width="12.35" height="1.10" fill="#f54026" stroke="#000" stroke-width="0.75" stroke-dasharray="1.6 0.9"/>
<rect x="554.83" y="595.75" width="12.35" height="1.20" fill="#fd8239" stroke="#000" stroke-width="0.75" stroke-dasharray="1.6 0.9"/>
<rect x="554.83" y="589.95" width="12.35" height="5.80" fill="#feb04b" stroke="#000" stroke-width="0.75" stroke-dasharray="1.6 0.9"/>
<rect x="554.83" y="586.55" width="12.35" height="3.40" fill="#fedb7a" stroke="#000" stroke-width="0.75" stroke-dasharray="1.6 0.9"/>
<rect x="567.18" y="596.75" width="12.35" height="1.30" fill="#f54026" stroke="#000" stroke-width="0.75" stroke-dasharray="1.6 0.9"/>
<rect x="567.18" y="593.65" width="12.35" height="3.10" fill="#fd8239" stroke="#000" stroke-width="0.75" stroke-dasharray="1.6 0.9"/>
<rect x="567.18" y="584.75" width="12.35" height="8.90" fill="#feb04b" stroke="#000" stroke-width="0.75" stroke-dasharray="1.6 0.9"/>
<rect x="567.18" y="575.75" width="12.35" height="9.00" fill="#fedb7a" stroke="#000" stroke-width="0.75" stroke-dasharray="1.6 0.9"/>
<rect x="567.18" y="574.45" width="12.35" height="1.30" fill="#fff1a9" stroke="#000" stroke-width="0.75" stroke-dasharray="1.6 0.9"/>
<rect x="579.53" y="597.15" width="12.35" height="0.90" fill="#fd8239" stroke="#000" stroke-width="0.75" stroke-dasharray="1.6 0.9"/>
<rect x="579.53" y="595.85" width="12.35" height="1.30" fill="#feb04b" stroke="#000" stroke-width="0.75" stroke-dasharray="1.6 0.9"/>
<rect x="579.53" y="594.05" width="12.35" height="1.80" fill="#fedb7a" stroke="#000" stroke-width="0.75" stroke-dasharray="1.6 0.9"/>
<rect x="591.89" y="597.65" width="12.35" height="0.40" fill="#fd8239" stroke="#000" stroke-width="0.75" stroke-dasharray="1.6 0.9"/>
</g>
<g clip-path="url(#crh2)">
<rect x="381.87" y="655.90" width="12.35" height="0.40" fill="#fd8239" stroke="#000" stroke-width="0.75" stroke-dasharray="1.6 0.9"/>
<rect x="394.23" y="654.80" width="12.35" height="1.50" fill="#f54026" stroke="#000" stroke-width="0.75" stroke-dasharray="1.6 0.9"/>
<rect x="394.23" y="653.80" width="12.35" height="1.00" fill="#fd8239" stroke="#000" stroke-width="0.75" stroke-dasharray="1.6 0.9"/>
<rect x="406.58" y="652.70" width="12.35" height="3.60" fill="#f54026" stroke="#000" stroke-width="0.75" stroke-dasharray="1.6 0.9"/>
<rect x="406.58" y="650.10" width="12.35" height="2.60" fill="#fd8239" stroke="#000" stroke-width="0.75" stroke-dasharray="1.6 0.9"/>
<rect x="406.58" y="647.80" width="12.35" height="2.30" fill="#feb04b" stroke="#000" stroke-width="0.75" stroke-dasharray="1.6 0.9"/>
<rect x="418.93" y="652.10" width="12.35" height="4.20" fill="#f54026" stroke="#000" stroke-width="0.75" stroke-dasharray="1.6 0.9"/>
<rect x="418.93" y="647.90" width="12.35" height="4.20" fill="#fd8239" stroke="#000" stroke-width="0.75" stroke-dasharray="1.6 0.9"/>
<rect x="418.93" y="641.10" width="12.35" height="6.80" fill="#feb04b" stroke="#000" stroke-width="0.75" stroke-dasharray="1.6 0.9"/>
<rect x="418.93" y="639.70" width="12.35" height="1.40" fill="#fedb7a" stroke="#000" stroke-width="0.75" stroke-dasharray="1.6 0.9"/>
<rect x="431.29" y="653.70" width="12.35" height="2.60" fill="#fd8239" stroke="#000" stroke-width="0.75" stroke-dasharray="1.6 0.9"/>
<rect x="431.29" y="651.10" width="12.35" height="2.60" fill="#feb04b" stroke="#000" stroke-width="0.75" stroke-dasharray="1.6 0.9"/>
<rect x="443.64" y="655.90" width="12.35" height="0.40" fill="#fd8239" stroke="#000" stroke-width="0.75" stroke-dasharray="1.6 0.9"/>
<rect x="456.00" y="656.00" width="12.35" height="0.30" fill="#fd8239" stroke="#000" stroke-width="0.75" stroke-dasharray="1.6 0.9"/>
<rect x="542.47" y="655.90" width="12.35" height="0.40" fill="#fd8239" stroke="#000" stroke-width="0.75" stroke-dasharray="1.6 0.9"/>
<rect x="554.83" y="653.90" width="12.35" height="2.40" fill="#f54026" stroke="#000" stroke-width="0.75" stroke-dasharray="1.6 0.9"/>
<rect x="554.83" y="650.80" width="12.35" height="3.10" fill="#fd8239" stroke="#000" stroke-width="0.75" stroke-dasharray="1.6 0.9"/>
<rect x="554.83" y="642.80" width="12.35" height="8.00" fill="#feb04b" stroke="#000" stroke-width="0.75" stroke-dasharray="1.6 0.9"/>
<rect x="567.18" y="654.30" width="12.35" height="2.00" fill="#d41020" stroke="#000" stroke-width="0.75" stroke-dasharray="1.6 0.9"/>
<rect x="567.18" y="648.50" width="12.35" height="5.80" fill="#f54026" stroke="#000" stroke-width="0.75" stroke-dasharray="1.6 0.9"/>
<rect x="567.18" y="641.80" width="12.35" height="6.70" fill="#fd8239" stroke="#000" stroke-width="0.75" stroke-dasharray="1.6 0.9"/>
<rect x="567.18" y="633.30" width="12.35" height="8.50" fill="#feb04b" stroke="#000" stroke-width="0.75" stroke-dasharray="1.6 0.9"/>
<rect x="567.18" y="630.60" width="12.35" height="2.70" fill="#fedb7a" stroke="#000" stroke-width="0.75" stroke-dasharray="1.6 0.9"/>
<rect x="579.53" y="655.20" width="12.35" height="1.10" fill="#f54026" stroke="#000" stroke-width="0.75" stroke-dasharray="1.6 0.9"/>
<rect x="579.53" y="653.60" width="12.35" height="1.60" fill="#fd8239" stroke="#000" stroke-width="0.75" stroke-dasharray="1.6 0.9"/>
<rect x="591.89" y="655.90" width="12.35" height="0.40" fill="#fd8239" stroke="#000" stroke-width="0.75" stroke-dasharray="1.6 0.9"/>
</g>
<g clip-path="url(#crh3)">
<rect x="381.87" y="713.75" width="12.35" height="0.80" fill="#f54026" stroke="#000" stroke-width="0.75" stroke-dasharray="1.6 0.9"/>
<rect x="394.23" y="713.05" width="12.35" height="1.50" fill="#f54026" stroke="#000" stroke-width="0.75" stroke-dasharray="1.6 0.9"/>
<rect x="394.23" y="711.85" width="12.35" height="1.20" fill="#fd8239" stroke="#000" stroke-width="0.75" stroke-dasharray="1.6 0.9"/>
<rect x="394.23" y="710.65" width="12.35" height="1.20" fill="#feb04b" stroke="#000" stroke-width="0.75" stroke-dasharray="1.6 0.9"/>
<rect x="406.58" y="713.05" width="12.35" height="1.50" fill="#f54026" stroke="#000" stroke-width="0.75" stroke-dasharray="1.6 0.9"/>
<rect x="406.58" y="709.85" width="12.35" height="3.20" fill="#fd8239" stroke="#000" stroke-width="0.75" stroke-dasharray="1.6 0.9"/>
<rect x="406.58" y="707.45" width="12.35" height="2.40" fill="#feb04b" stroke="#000" stroke-width="0.75" stroke-dasharray="1.6 0.9"/>
<rect x="418.93" y="710.65" width="12.35" height="3.90" fill="#f54026" stroke="#000" stroke-width="0.75" stroke-dasharray="1.6 0.9"/>
<rect x="418.93" y="707.05" width="12.35" height="3.60" fill="#fd8239" stroke="#000" stroke-width="0.75" stroke-dasharray="1.6 0.9"/>
<rect x="418.93" y="704.65" width="12.35" height="2.40" fill="#feb04b" stroke="#000" stroke-width="0.75" stroke-dasharray="1.6 0.9"/>
<rect x="431.29" y="713.05" width="12.35" height="1.50" fill="#fd8239" stroke="#000" stroke-width="0.75" stroke-dasharray="1.6 0.9"/>
<rect x="431.29" y="711.25" width="12.35" height="1.80" fill="#feb04b" stroke="#000" stroke-width="0.75" stroke-dasharray="1.6 0.9"/>
<rect x="443.64" y="714.15" width="12.35" height="0.40" fill="#fd8239" stroke="#000" stroke-width="0.75" stroke-dasharray="1.6 0.9"/>
<rect x="468.35" y="714.15" width="12.35" height="0.40" fill="#f54026" stroke="#000" stroke-width="0.75" stroke-dasharray="1.6 0.9"/>
<rect x="542.47" y="714.05" width="12.35" height="0.50" fill="#f54026" stroke="#000" stroke-width="0.75" stroke-dasharray="1.6 0.9"/>
<rect x="554.83" y="713.95" width="12.35" height="0.60" fill="#d41020" stroke="#000" stroke-width="0.75" stroke-dasharray="1.6 0.9"/>
<rect x="554.83" y="709.95" width="12.35" height="4.00" fill="#f54026" stroke="#000" stroke-width="0.75" stroke-dasharray="1.6 0.9"/>
<rect x="554.83" y="705.95" width="12.35" height="4.00" fill="#fd8239" stroke="#000" stroke-width="0.75" stroke-dasharray="1.6 0.9"/>
<rect x="554.83" y="703.05" width="12.35" height="2.90" fill="#feb04b" stroke="#000" stroke-width="0.75" stroke-dasharray="1.6 0.9"/>
<rect x="567.18" y="712.55" width="12.35" height="2.00" fill="#d41020" stroke="#000" stroke-width="0.75" stroke-dasharray="1.6 0.9"/>
<rect x="567.18" y="705.85" width="12.35" height="6.70" fill="#f54026" stroke="#000" stroke-width="0.75" stroke-dasharray="1.6 0.9"/>
<rect x="567.18" y="700.95" width="12.35" height="4.90" fill="#fd8239" stroke="#000" stroke-width="0.75" stroke-dasharray="1.6 0.9"/>
<rect x="567.18" y="696.95" width="12.35" height="4.00" fill="#feb04b" stroke="#000" stroke-width="0.75" stroke-dasharray="1.6 0.9"/>
<rect x="579.53" y="713.35" width="12.35" height="1.20" fill="#d41020" stroke="#000" stroke-width="0.75" stroke-dasharray="1.6 0.9"/>
<rect x="579.53" y="711.85" width="12.35" height="1.50" fill="#f54026" stroke="#000" stroke-width="0.75" stroke-dasharray="1.6 0.9"/>
<rect x="591.89" y="714.15" width="12.35" height="0.40" fill="#f54026" stroke="#000" stroke-width="0.75" stroke-dasharray="1.6 0.9"/>
</g>
<g clip-path="url(#crh4)">
<rect x="381.87" y="772.40" width="12.35" height="0.40" fill="#f54026" stroke="#000" stroke-width="0.75" stroke-dasharray="1.6 0.9"/>
<rect x="394.23" y="771.80" width="12.35" height="1.00" fill="#f54026" stroke="#000" stroke-width="0.75" stroke-dasharray="1.6 0.9"/>
<rect x="394.23" y="771.00" width="12.35" height="0.80" fill="#fd8239" stroke="#000" stroke-width="0.75" stroke-dasharray="1.6 0.9"/>
<rect x="406.58" y="771.20" width="12.35" height="1.60" fill="#f54026" stroke="#000" stroke-width="0.75" stroke-dasharray="1.6 0.9"/>
<rect x="406.58" y="769.50" width="12.35" height="1.70" fill="#fd8239" stroke="#000" stroke-width="0.75" stroke-dasharray="1.6 0.9"/>
<rect x="418.93" y="770.80" width="12.35" height="2.00" fill="#f54026" stroke="#000" stroke-width="0.75" stroke-dasharray="1.6 0.9"/>
<rect x="418.93" y="768.60" width="12.35" height="2.20" fill="#fd8239" stroke="#000" stroke-width="0.75" stroke-dasharray="1.6 0.9"/>
<rect x="431.29" y="772.20" width="12.35" height="0.60" fill="#f54026" stroke="#000" stroke-width="0.75" stroke-dasharray="1.6 0.9"/>
<rect x="431.29" y="771.80" width="12.35" height="0.40" fill="#fd8239" stroke="#000" stroke-width="0.75" stroke-dasharray="1.6 0.9"/>
<rect x="443.64" y="772.50" width="12.35" height="0.30" fill="#f54026" stroke="#000" stroke-width="0.75" stroke-dasharray="1.6 0.9"/>
<rect x="468.35" y="765.30" width="12.35" height="7.50" fill="#d41020" stroke="#000" stroke-width="0.75" stroke-dasharray="1.6 0.9"/>
<rect x="468.35" y="763.90" width="12.35" height="1.40" fill="#f54026" stroke="#000" stroke-width="0.75" stroke-dasharray="1.6 0.9"/>
<rect x="493.06" y="769.80" width="12.35" height="3.00" fill="#d41020" stroke="#000" stroke-width="0.75" stroke-dasharray="1.6 0.9"/>
<rect x="493.06" y="769.00" width="12.35" height="0.80" fill="#f54026" stroke="#000" stroke-width="0.75" stroke-dasharray="1.6 0.9"/>
<rect x="530.12" y="772.40" width="12.35" height="0.40" fill="#f54026" stroke="#000" stroke-width="0.75" stroke-dasharray="1.6 0.9"/>
<rect x="542.47" y="771.80" width="12.35" height="1.00" fill="#f54026" stroke="#000" stroke-width="0.75" stroke-dasharray="1.6 0.9"/>
<rect x="554.83" y="771.40" width="12.35" height="1.40" fill="#f54026" stroke="#000" stroke-width="0.75" stroke-dasharray="1.6 0.9"/>
<rect x="554.83" y="770.10" width="12.35" height="1.30" fill="#fd8239" stroke="#000" stroke-width="0.75" stroke-dasharray="1.6 0.9"/>
<rect x="567.18" y="770.80" width="12.35" height="2.00" fill="#f54026" stroke="#000" stroke-width="0.75" stroke-dasharray="1.6 0.9"/>
<rect x="567.18" y="768.60" width="12.35" height="2.20" fill="#fd8239" stroke="#000" stroke-width="0.75" stroke-dasharray="1.6 0.9"/>
<rect x="567.18" y="766.10" width="12.35" height="2.50" fill="#feb04b" stroke="#000" stroke-width="0.75" stroke-dasharray="1.6 0.9"/>
<rect x="579.53" y="770.80" width="12.35" height="2.00" fill="#f54026" stroke="#000" stroke-width="0.75" stroke-dasharray="1.6 0.9"/>
<rect x="579.53" y="769.50" width="12.35" height="1.30" fill="#fd8239" stroke="#000" stroke-width="0.75" stroke-dasharray="1.6 0.9"/>
<rect x="591.89" y="771.00" width="12.35" height="1.80" fill="#f54026" stroke="#000" stroke-width="0.75" stroke-dasharray="1.6 0.9"/>
</g>
<defs>
<clipPath id="crh0"><rect x="357.20" y="507.50" width="247.10" height="32.50"/></clipPath>
<clipPath id="crh1"><rect x="357.20" y="565.75" width="247.10" height="32.50"/></clipPath>
<clipPath id="crh2"><rect x="357.20" y="624.00" width="247.10" height="32.50"/></clipPath>
<clipPath id="crh3"><rect x="357.20" y="682.25" width="247.10" height="32.50"/></clipPath>
<clipPath id="crh4"><rect x="357.20" y="740.50" width="247.10" height="32.50"/></clipPath>
</defs>
<rect x="628.20" y="508.40" width="13.70" height="7.37" fill="#fff1a9" stroke="#000" stroke-width="0.75" stroke-dasharray="1.6 0.9"/>
<text x="635.05" y="514.28" font-size="6.12" text-anchor="middle" fill="#333" font-family="Liberation Sans" textLength="3.82" lengthAdjust="spacingAndGlyphs" stroke="#333" stroke-width="0.10">8</text>
<rect x="628.20" y="515.77" width="13.70" height="7.37" fill="#fedb7a" stroke="#000" stroke-width="0.75" stroke-dasharray="1.6 0.9"/>
<text x="635.05" y="521.65" font-size="6.12" text-anchor="middle" fill="#333" font-family="Liberation Sans" textLength="3.82" lengthAdjust="spacingAndGlyphs" stroke="#333" stroke-width="0.10">4</text>
<rect x="628.20" y="523.14" width="13.70" height="7.37" fill="#feb04b" stroke="#000" stroke-width="0.75" stroke-dasharray="1.6 0.9"/>
<text x="635.05" y="529.02" font-size="6.12" text-anchor="middle" fill="#333" font-family="Liberation Sans" textLength="3.82" lengthAdjust="spacingAndGlyphs" stroke="#333" stroke-width="0.10">2</text>
<rect x="628.20" y="530.51" width="13.70" height="7.37" fill="#fd8239" stroke="#000" stroke-width="0.75" stroke-dasharray="1.6 0.9"/>
<text x="635.05" y="536.39" font-size="6.12" text-anchor="middle" fill="#fff" font-family="Liberation Sans" textLength="3.82" lengthAdjust="spacingAndGlyphs" stroke="#fff" stroke-width="0.10">1</text>
<rect x="628.20" y="537.88" width="13.70" height="7.37" fill="#f54026" stroke="#000" stroke-width="0.75" stroke-dasharray="1.6 0.9"/>
<text x="635.05" y="543.76" font-size="6.12" text-anchor="middle" fill="#fff" font-family="Liberation Sans" textLength="9.54" lengthAdjust="spacingAndGlyphs" stroke="#fff" stroke-width="0.10">0.5</text>
<rect x="628.20" y="545.25" width="13.70" height="7.37" fill="#d41020" stroke="#000" stroke-width="0.75" stroke-dasharray="1.6 0.9"/>
<text x="635.05" y="551.13" font-size="6.12" text-anchor="middle" fill="#fff" font-family="Liberation Sans" textLength="3.82" lengthAdjust="spacingAndGlyphs" stroke="#fff" stroke-width="0.10">0</text>
<text x="128.75" y="7.10" font-size="8.93" text-anchor="middle" fill="#111" font-family="Liberation Sans" textLength="53.71" lengthAdjust="spacingAndGlyphs" stroke="#111" stroke-width="0.10">Original p53</text>
<text x="353.50" y="7.10" font-size="8.93" text-anchor="middle" fill="#111" font-family="Liberation Sans" textLength="92.37" lengthAdjust="spacingAndGlyphs" stroke="#111" stroke-width="0.10">DAPS Detrended p53</text>
<text x="578.15" y="7.10" font-size="8.93" text-anchor="middle" fill="#111" font-family="Liberation Sans" textLength="82.24" lengthAdjust="spacingAndGlyphs" stroke="#111" stroke-width="0.10">Detrended Aligned</text>
<text x="128.75" y="128.10" font-size="8.93" text-anchor="middle" fill="#111" font-family="Liberation Sans" textLength="53.71" lengthAdjust="spacingAndGlyphs" stroke="#111" stroke-width="0.10">Original p21</text>
<text x="353.50" y="128.10" font-size="8.93" text-anchor="middle" fill="#111" font-family="Liberation Sans" textLength="92.37" lengthAdjust="spacingAndGlyphs" stroke="#111" stroke-width="0.10">DAPS Detrended p21</text>
<text x="578.15" y="128.10" font-size="8.93" text-anchor="middle" fill="#111" font-family="Liberation Sans" textLength="59.09" lengthAdjust="spacingAndGlyphs" stroke="#111" stroke-width="0.10">Warping Path</text>
<line x1="42.40" y1="90.60" x2="42.40" y2="93.00" stroke="#222" stroke-width="1.00"/>
<text x="42.40" y="101.60" font-size="7.45" text-anchor="middle" fill="#111" font-family="Liberation Sans" textLength="4.64" lengthAdjust="spacingAndGlyphs" stroke="#111" stroke-width="0.10">0</text>
<line x1="71.17" y1="90.60" x2="71.17" y2="93.00" stroke="#222" stroke-width="1.00"/>
<text x="71.17" y="101.60" font-size="7.45" text-anchor="middle" fill="#111" font-family="Liberation Sans" textLength="9.29" lengthAdjust="spacingAndGlyphs" stroke="#111" stroke-width="0.10">20</text>
<line x1="99.93" y1="90.60" x2="99.93" y2="93.00" stroke="#222" stroke-width="1.00"/>
<text x="99.93" y="101.60" font-size="7.45" text-anchor="middle" fill="#111" font-family="Liberation Sans" textLength="9.29" lengthAdjust="spacingAndGlyphs" stroke="#111" stroke-width="0.10">40</text>
<line x1="128.70" y1="90.60" x2="128.70" y2="93.00" stroke="#222" stroke-width="1.00"/>
<text x="128.70" y="101.60" font-size="7.45" text-anchor="middle" fill="#111" font-family="Liberation Sans" textLength="9.29" lengthAdjust="spacingAndGlyphs" stroke="#111" stroke-width="0.10">60</text>
<line x1="157.47" y1="90.60" x2="157.47" y2="93.00" stroke="#222" stroke-width="1.00"/>
<text x="157.47" y="101.60" font-size="7.45" text-anchor="middle" fill="#111" font-family="Liberation Sans" textLength="9.29" lengthAdjust="spacingAndGlyphs" stroke="#111" stroke-width="0.10">80</text>
<line x1="186.23" y1="90.60" x2="186.23" y2="93.00" stroke="#222" stroke-width="1.00"/>
<text x="186.23" y="101.60" font-size="7.45" text-anchor="middle" fill="#111" font-family="Liberation Sans" textLength="13.93" lengthAdjust="spacingAndGlyphs" stroke="#111" stroke-width="0.10">100</text>
<line x1="215.00" y1="90.60" x2="215.00" y2="93.00" stroke="#222" stroke-width="1.00"/>
<text x="215.00" y="101.60" font-size="7.45" text-anchor="middle" fill="#111" font-family="Liberation Sans" textLength="13.93" lengthAdjust="spacingAndGlyphs" stroke="#111" stroke-width="0.10">120</text>
<line x1="268.00" y1="90.60" x2="268.00" y2="93.00" stroke="#222" stroke-width="1.00"/>
<text x="268.00" y="101.60" font-size="7.45" text-anchor="middle" fill="#111" font-family="Liberation Sans" textLength="4.64" lengthAdjust="spacingAndGlyphs" stroke="#111" stroke-width="0.10">0</text>
<line x1="296.62" y1="90.60" x2="296.62" y2="93.00" stroke="#222" stroke-width="1.00"/>
<text x="296.62" y="101.60" font-size="7.45" text-anchor="middle" fill="#111" font-family="Liberation Sans" textLength="9.29" lengthAdjust="spacingAndGlyphs" stroke="#111" stroke-width="0.10">20</text>
<line x1="325.25" y1="90.60" x2="325.25" y2="93.00" stroke="#222" stroke-width="1.00"/>
<text x="325.25" y="101.60" font-size="7.45" text-anchor="middle" fill="#111" font-family="Liberation Sans" textLength="9.29" lengthAdjust="spacingAndGlyphs" stroke="#111" stroke-width="0.10">40</text>
<line x1="353.88" y1="90.60" x2="353.88" y2="93.00" stroke="#222" stroke-width="1.00"/>
<text x="353.88" y="101.60" font-size="7.45" text-anchor="middle" fill="#111" font-family="Liberation Sans" textLength="9.29" lengthAdjust="spacingAndGlyphs" stroke="#111" stroke-width="0.10">60</text>
<line x1="382.50" y1="90.60" x2="382.50" y2="93.00" stroke="#222" stroke-width="1.00"/>
<text x="382.50" y="101.60" font-size="7.45" text-anchor="middle" fill="#111" font-family="Liberation Sans" textLength="9.29" lengthAdjust="spacingAndGlyphs" stroke="#111" stroke-width="0.10">80</text>
<line x1="411.12" y1="90.60" x2="411.12" y2="93.00" stroke="#222" stroke-width="1.00"/>
<text x="411.12" y="101.60" font-size="7.45" text-anchor="middle" fill="#111" font-family="Liberation Sans" textLength="13.93" lengthAdjust="spacingAndGlyphs" stroke="#111" stroke-width="0.10">100</text>
<line x1="439.75" y1="90.60" x2="439.75" y2="93.00" stroke="#222" stroke-width="1.00"/>
<text x="439.75" y="101.60" font-size="7.45" text-anchor="middle" fill="#111" font-family="Liberation Sans" textLength="13.93" lengthAdjust="spacingAndGlyphs" stroke="#111" stroke-width="0.10">120</text>
<line x1="42.40" y1="212.00" x2="42.40" y2="214.40" stroke="#222" stroke-width="1.00"/>
<text x="42.40" y="223.00" font-size="7.45" text-anchor="middle" fill="#111" font-family="Liberation Sans" textLength="4.64" lengthAdjust="spacingAndGlyphs" stroke="#111" stroke-width="0.10">0</text>
<line x1="71.17" y1="212.00" x2="71.17" y2="214.40" stroke="#222" stroke-width="1.00"/>
<text x="71.17" y="223.00" font-size="7.45" text-anchor="middle" fill="#111" font-family="Liberation Sans" textLength="9.29" lengthAdjust="spacingAndGlyphs" stroke="#111" stroke-width="0.10">20</text>
<line x1="99.93" y1="212.00" x2="99.93" y2="214.40" stroke="#222" stroke-width="1.00"/>
<text x="99.93" y="223.00" font-size="7.45" text-anchor="middle" fill="#111" font-family="Liberation Sans" textLength="9.29" lengthAdjust="spacingAndGlyphs" stroke="#111" stroke-width="0.10">40</text>
<line x1="128.70" y1="212.00" x2="128.70" y2="214.40" stroke="#222" stroke-width="1.00"/>
<text x="128.70" y="223.00" font-size="7.45" text-anchor="middle" fill="#111" font-family="Liberation Sans" textLength="9.29" lengthAdjust="spacingAndGlyphs" stroke="#111" stroke-width="0.10">60</text>
<line x1="157.47" y1="212.00" x2="157.47" y2="214.40" stroke="#222" stroke-width="1.00"/>
<text x="157.47" y="223.00" font-size="7.45" text-anchor="middle" fill="#111" font-family="Liberation Sans" textLength="9.29" lengthAdjust="spacingAndGlyphs" stroke="#111" stroke-width="0.10">80</text>
<line x1="186.23" y1="212.00" x2="186.23" y2="214.40" stroke="#222" stroke-width="1.00"/>
<text x="186.23" y="223.00" font-size="7.45" text-anchor="middle" fill="#111" font-family="Liberation Sans" textLength="13.93" lengthAdjust="spacingAndGlyphs" stroke="#111" stroke-width="0.10">100</text>
<line x1="215.00" y1="212.00" x2="215.00" y2="214.40" stroke="#222" stroke-width="1.00"/>
<text x="215.00" y="223.00" font-size="7.45" text-anchor="middle" fill="#111" font-family="Liberation Sans" textLength="13.93" lengthAdjust="spacingAndGlyphs" stroke="#111" stroke-width="0.10">120</text>
<line x1="268.00" y1="212.00" x2="268.00" y2="214.40" stroke="#222" stroke-width="1.00"/>
<text x="268.00" y="223.00" font-size="7.45" text-anchor="middle" fill="#111" font-family="Liberation Sans" textLength="4.64" lengthAdjust="spacingAndGlyphs" stroke="#111" stroke-width="0.10">0</text>
<line x1="296.62" y1="212.00" x2="296.62" y2="214.40" stroke="#222" stroke-width="1.00"/>
<text x="296.62" y="223.00" font-size="7.45" text-anchor="middle" fill="#111" font-family="Liberation Sans" textLength="9.29" lengthAdjust="spacingAndGlyphs" stroke="#111" stroke-width="0.10">20</text>
<line x1="325.25" y1="212.00" x2="325.25" y2="214.40" stroke="#222" stroke-width="1.00"/>
<text x="325.25" y="223.00" font-size="7.45" text-anchor="middle" fill="#111" font-family="Liberation Sans" textLength="9.29" lengthAdjust="spacingAndGlyphs" stroke="#111" stroke-width="0.10">40</text>
<line x1="353.88" y1="212.00" x2="353.88" y2="214.40" stroke="#222" stroke-width="1.00"/>
<text x="353.88" y="223.00" font-size="7.45" text-anchor="middle" fill="#111" font-family="Liberation Sans" textLength="9.29" lengthAdjust="spacingAndGlyphs" stroke="#111" stroke-width="0.10">60</text>
<line x1="382.50" y1="212.00" x2="382.50" y2="214.40" stroke="#222" stroke-width="1.00"/>
<text x="382.50" y="223.00" font-size="7.45" text-anchor="middle" fill="#111" font-family="Liberation Sans" textLength="9.29" lengthAdjust="spacingAndGlyphs" stroke="#111" stroke-width="0.10">80</text>
<line x1="411.12" y1="212.00" x2="411.12" y2="214.40" stroke="#222" stroke-width="1.00"/>
<text x="411.12" y="223.00" font-size="7.45" text-anchor="middle" fill="#111" font-family="Liberation Sans" textLength="13.93" lengthAdjust="spacingAndGlyphs" stroke="#111" stroke-width="0.10">100</text>
<line x1="439.75" y1="212.00" x2="439.75" y2="214.40" stroke="#222" stroke-width="1.00"/>
<text x="439.75" y="223.00" font-size="7.45" text-anchor="middle" fill="#111" font-family="Liberation Sans" textLength="13.93" lengthAdjust="spacingAndGlyphs" stroke="#111" stroke-width="0.10">120</text>
<line x1="493.00" y1="212.00" x2="493.00" y2="214.40" stroke="#222" stroke-width="1.00"/>
<text x="493.00" y="223.00" font-size="7.45" text-anchor="middle" fill="#111" font-family="Liberation Sans" textLength="4.64" lengthAdjust="spacingAndGlyphs" stroke="#111" stroke-width="0.10">0</text>
<line x1="521.63" y1="212.00" x2="521.63" y2="214.40" stroke="#222" stroke-width="1.00"/>
<text x="521.63" y="223.00" font-size="7.45" text-anchor="middle" fill="#111" font-family="Liberation Sans" textLength="9.29" lengthAdjust="spacingAndGlyphs" stroke="#111" stroke-width="0.10">20</text>
<line x1="550.27" y1="212.00" x2="550.27" y2="214.40" stroke="#222" stroke-width="1.00"/>
<text x="550.27" y="223.00" font-size="7.45" text-anchor="middle" fill="#111" font-family="Liberation Sans" textLength="9.29" lengthAdjust="spacingAndGlyphs" stroke="#111" stroke-width="0.10">40</text>
<line x1="578.90" y1="212.00" x2="578.90" y2="214.40" stroke="#222" stroke-width="1.00"/>
<text x="578.90" y="223.00" font-size="7.45" text-anchor="middle" fill="#111" font-family="Liberation Sans" textLength="9.29" lengthAdjust="spacingAndGlyphs" stroke="#111" stroke-width="0.10">60</text>
<line x1="607.53" y1="212.00" x2="607.53" y2="214.40" stroke="#222" stroke-width="1.00"/>
<text x="607.53" y="223.00" font-size="7.45" text-anchor="middle" fill="#111" font-family="Liberation Sans" textLength="9.29" lengthAdjust="spacingAndGlyphs" stroke="#111" stroke-width="0.10">80</text>
<line x1="636.17" y1="212.00" x2="636.17" y2="214.40" stroke="#222" stroke-width="1.00"/>
<text x="636.17" y="223.00" font-size="7.45" text-anchor="middle" fill="#111" font-family="Liberation Sans" textLength="13.93" lengthAdjust="spacingAndGlyphs" stroke="#111" stroke-width="0.10">100</text>
<line x1="664.80" y1="212.00" x2="664.80" y2="214.40" stroke="#222" stroke-width="1.00"/>
<text x="664.80" y="223.00" font-size="7.45" text-anchor="middle" fill="#111" font-family="Liberation Sans" textLength="13.93" lengthAdjust="spacingAndGlyphs" stroke="#111" stroke-width="0.10">120</text>
<line x1="32.10" y1="73.30" x2="34.50" y2="73.30" stroke="#222" stroke-width="1.00"/>
<text x="28.80" y="75.90" font-size="7.45" text-anchor="end" fill="#111" font-family="Liberation Sans" textLength="13.93" lengthAdjust="spacingAndGlyphs" stroke="#111" stroke-width="0.10">200</text>
<line x1="32.10" y1="55.03" x2="34.50" y2="55.03" stroke="#222" stroke-width="1.00"/>
<text x="28.80" y="57.63" font-size="7.45" text-anchor="end" fill="#111" font-family="Liberation Sans" textLength="13.93" lengthAdjust="spacingAndGlyphs" stroke="#111" stroke-width="0.10">400</text>
<line x1="32.10" y1="36.77" x2="34.50" y2="36.77" stroke="#222" stroke-width="1.00"/>
<text x="28.80" y="39.37" font-size="7.45" text-anchor="end" fill="#111" font-family="Liberation Sans" textLength="13.93" lengthAdjust="spacingAndGlyphs" stroke="#111" stroke-width="0.10">600</text>
<line x1="32.10" y1="18.50" x2="34.50" y2="18.50" stroke="#222" stroke-width="1.00"/>
<text x="28.80" y="21.10" font-size="7.45" text-anchor="end" fill="#111" font-family="Liberation Sans" textLength="13.93" lengthAdjust="spacingAndGlyphs" stroke="#111" stroke-width="0.10">800</text>
<line x1="257.10" y1="75.12" x2="259.50" y2="75.12" stroke="#222" stroke-width="1.00"/>
<text x="253.80" y="77.72" font-size="7.45" text-anchor="end" fill="#111" font-family="Liberation Sans" textLength="22.37" lengthAdjust="spacingAndGlyphs" stroke="#111" stroke-width="0.10">−0.25</text>
<line x1="257.10" y1="56.75" x2="259.50" y2="56.75" stroke="#222" stroke-width="1.00"/>
<text x="253.80" y="59.35" font-size="7.45" text-anchor="end" fill="#111" font-family="Liberation Sans" textLength="16.25" lengthAdjust="spacingAndGlyphs" stroke="#111" stroke-width="0.10">0.00</text>
<line x1="257.10" y1="38.38" x2="259.50" y2="38.38" stroke="#222" stroke-width="1.00"/>
<text x="253.80" y="40.98" font-size="7.45" text-anchor="end" fill="#111" font-family="Liberation Sans" textLength="16.25" lengthAdjust="spacingAndGlyphs" stroke="#111" stroke-width="0.10">0.25</text>
<line x1="257.10" y1="20.00" x2="259.50" y2="20.00" stroke="#222" stroke-width="1.00"/>
<text x="253.80" y="22.60" font-size="7.45" text-anchor="end" fill="#111" font-family="Liberation Sans" textLength="16.25" lengthAdjust="spacingAndGlyphs" stroke="#111" stroke-width="0.10">0.50</text>
<line x1="482.10" y1="82.25" x2="484.50" y2="82.25" stroke="#222" stroke-width="1.00"/>
<text x="478.80" y="84.85" font-size="7.45" text-anchor="end" fill="#111" font-family="Liberation Sans" textLength="17.73" lengthAdjust="spacingAndGlyphs" stroke="#111" stroke-width="0.10">−0.5</text>
<line x1="482.10" y1="50.75" x2="484.50" y2="50.75" stroke="#222" stroke-width="1.00"/>
<text x="478.80" y="53.35" font-size="7.45" text-anchor="end" fill="#111" font-family="Liberation Sans" textLength="11.61" lengthAdjust="spacingAndGlyphs" stroke="#111" stroke-width="0.10">0.0</text>
<line x1="482.10" y1="19.25" x2="484.50" y2="19.25" stroke="#222" stroke-width="1.00"/>
<text x="478.80" y="21.85" font-size="7.45" text-anchor="end" fill="#111" font-family="Liberation Sans" textLength="11.61" lengthAdjust="spacingAndGlyphs" stroke="#111" stroke-width="0.10">0.5</text>
<line x1="32.10" y1="210.50" x2="34.50" y2="210.50" stroke="#222" stroke-width="1.00"/>
<text x="28.80" y="213.10" font-size="7.45" text-anchor="end" fill="#111" font-family="Liberation Sans" textLength="4.64" lengthAdjust="spacingAndGlyphs" stroke="#111" stroke-width="0.10">0</text>
<line x1="32.10" y1="188.92" x2="34.50" y2="188.92" stroke="#222" stroke-width="1.00"/>
<text x="28.80" y="191.52" font-size="7.45" text-anchor="end" fill="#111" font-family="Liberation Sans" textLength="18.58" lengthAdjust="spacingAndGlyphs" stroke="#111" stroke-width="0.10">1000</text>
<line x1="32.10" y1="167.33" x2="34.50" y2="167.33" stroke="#222" stroke-width="1.00"/>
<text x="28.80" y="169.93" font-size="7.45" text-anchor="end" fill="#111" font-family="Liberation Sans" textLength="18.58" lengthAdjust="spacingAndGlyphs" stroke="#111" stroke-width="0.10">2000</text>
<line x1="32.10" y1="145.75" x2="34.50" y2="145.75" stroke="#222" stroke-width="1.00"/>
<text x="28.80" y="148.35" font-size="7.45" text-anchor="end" fill="#111" font-family="Liberation Sans" textLength="18.58" lengthAdjust="spacingAndGlyphs" stroke="#111" stroke-width="0.10">3000</text>
<line x1="257.10" y1="203.00" x2="259.50" y2="203.00" stroke="#222" stroke-width="1.00"/>
<text x="253.80" y="205.60" font-size="7.45" text-anchor="end" fill="#111" font-family="Liberation Sans" textLength="22.37" lengthAdjust="spacingAndGlyphs" stroke="#111" stroke-width="0.10">−0.50</text>
<line x1="257.10" y1="185.88" x2="259.50" y2="185.88" stroke="#222" stroke-width="1.00"/>
<text x="253.80" y="188.47" font-size="7.45" text-anchor="end" fill="#111" font-family="Liberation Sans" textLength="22.37" lengthAdjust="spacingAndGlyphs" stroke="#111" stroke-width="0.10">−0.25</text>
<line x1="257.10" y1="168.75" x2="259.50" y2="168.75" stroke="#222" stroke-width="1.00"/>
<text x="253.80" y="171.35" font-size="7.45" text-anchor="end" fill="#111" font-family="Liberation Sans" textLength="16.25" lengthAdjust="spacingAndGlyphs" stroke="#111" stroke-width="0.10">0.00</text>
<line x1="257.10" y1="151.62" x2="259.50" y2="151.62" stroke="#222" stroke-width="1.00"/>
<text x="253.80" y="154.22" font-size="7.45" text-anchor="end" fill="#111" font-family="Liberation Sans" textLength="16.25" lengthAdjust="spacingAndGlyphs" stroke="#111" stroke-width="0.10">0.25</text>
<line x1="257.10" y1="134.50" x2="259.50" y2="134.50" stroke="#222" stroke-width="1.00"/>
<text x="253.80" y="137.10" font-size="7.45" text-anchor="end" fill="#111" font-family="Liberation Sans" textLength="16.25" lengthAdjust="spacingAndGlyphs" stroke="#111" stroke-width="0.10">0.50</text>
<line x1="482.10" y1="207.00" x2="484.50" y2="207.00" stroke="#222" stroke-width="1.00"/>
<text x="478.80" y="209.60" font-size="7.45" text-anchor="end" fill="#111" font-family="Liberation Sans" textLength="4.64" lengthAdjust="spacingAndGlyphs" stroke="#111" stroke-width="0.10">0</text>
<line x1="482.10" y1="178.25" x2="484.50" y2="178.25" stroke="#222" stroke-width="1.00"/>
<text x="478.80" y="180.85" font-size="7.45" text-anchor="end" fill="#111" font-family="Liberation Sans" textLength="9.29" lengthAdjust="spacingAndGlyphs" stroke="#111" stroke-width="0.10">50</text>
<line x1="482.10" y1="149.50" x2="484.50" y2="149.50" stroke="#222" stroke-width="1.00"/>
<text x="478.80" y="152.10" font-size="7.45" text-anchor="end" fill="#111" font-family="Liberation Sans" textLength="13.93" lengthAdjust="spacingAndGlyphs" stroke="#111" stroke-width="0.10">100</text>
<text x="128.75" y="111.10" font-size="7.45" text-anchor="middle" fill="#111" font-family="Liberation Sans" textLength="46.63" lengthAdjust="spacingAndGlyphs" stroke="#111" stroke-width="0.10">Time (hours)</text>
<text x="353.50" y="111.10" font-size="7.45" text-anchor="middle" fill="#111" font-family="Liberation Sans" textLength="46.63" lengthAdjust="spacingAndGlyphs" stroke="#111" stroke-width="0.10">Time (hours)</text>
<text x="128.75" y="232.50" font-size="7.45" text-anchor="middle" fill="#111" font-family="Liberation Sans" textLength="46.63" lengthAdjust="spacingAndGlyphs" stroke="#111" stroke-width="0.10">Time (hours)</text>
<text x="353.50" y="232.50" font-size="7.45" text-anchor="middle" fill="#111" font-family="Liberation Sans" textLength="46.63" lengthAdjust="spacingAndGlyphs" stroke="#111" stroke-width="0.10">Time (hours)</text>
<text x="578.15" y="232.50" font-size="7.45" text-anchor="middle" fill="#111" font-family="Liberation Sans" textLength="61.28" lengthAdjust="spacingAndGlyphs" stroke="#111" stroke-width="0.10">p53 time (hours)</text>
<text x="11.30" y="51.05" font-size="7.45" text-anchor="middle" fill="#111" font-family="Liberation Sans" textLength="78.67" lengthAdjust="spacingAndGlyphs" transform="rotate(-90 11.30 51.05)" stroke="#111" stroke-width="0.10">Nuclear Fluorescence</text>
<text x="7.60" y="172.25" font-size="7.45" text-anchor="middle" fill="#111" font-family="Liberation Sans" textLength="78.67" lengthAdjust="spacingAndGlyphs" transform="rotate(-90 7.60 172.25)" stroke="#111" stroke-width="0.10">Nuclear Fluorescence</text>
<text x="460.80" y="172.25" font-size="7.45" text-anchor="middle" fill="#111" font-family="Liberation Sans" textLength="61.28" lengthAdjust="spacingAndGlyphs" transform="rotate(-90 460.80 172.25)" stroke="#111" stroke-width="0.10">p21 time (hours)</text>
<text x="108.30" y="285.00" font-size="11.63" text-anchor="middle" fill="#111" font-family="Liberation Sans" textLength="61.98" lengthAdjust="spacingAndGlyphs" stroke="#111" stroke-width="0.10">0 Divisions</text>
<line x1="39.70" y1="427.70" x2="39.70" y2="430.90" stroke="#222" stroke-width="1.00"/>
<text x="39.70" y="441.70" font-size="10.00" text-anchor="middle" fill="#111" font-family="Liberation Sans" textLength="6.24" lengthAdjust="spacingAndGlyphs" stroke="#111" stroke-width="0.10">0</text>
<line x1="88.70" y1="427.70" x2="88.70" y2="430.90" stroke="#222" stroke-width="1.00"/>
<text x="88.70" y="441.70" font-size="10.00" text-anchor="middle" fill="#111" font-family="Liberation Sans" textLength="12.47" lengthAdjust="spacingAndGlyphs" stroke="#111" stroke-width="0.10">50</text>
<line x1="137.70" y1="427.70" x2="137.70" y2="430.90" stroke="#222" stroke-width="1.00"/>
<text x="137.70" y="441.70" font-size="10.00" text-anchor="middle" fill="#111" font-family="Liberation Sans" textLength="18.71" lengthAdjust="spacingAndGlyphs" stroke="#111" stroke-width="0.10">100</text>
<line x1="36.50" y1="291.00" x2="39.70" y2="291.00" stroke="#222" stroke-width="1.00"/>
<text x="33.20" y="294.50" font-size="10.00" text-anchor="end" fill="#111" font-family="Liberation Sans" textLength="6.24" lengthAdjust="spacingAndGlyphs" stroke="#111" stroke-width="0.10">0</text>
<line x1="36.50" y1="310.60" x2="39.70" y2="310.60" stroke="#222" stroke-width="1.00"/>
<text x="33.20" y="314.10" font-size="10.00" text-anchor="end" fill="#111" font-family="Liberation Sans" textLength="12.47" lengthAdjust="spacingAndGlyphs" stroke="#111" stroke-width="0.10">20</text>
<line x1="36.50" y1="330.20" x2="39.70" y2="330.20" stroke="#222" stroke-width="1.00"/>
<text x="33.20" y="333.70" font-size="10.00" text-anchor="end" fill="#111" font-family="Liberation Sans" textLength="12.47" lengthAdjust="spacingAndGlyphs" stroke="#111" stroke-width="0.10">40</text>
<line x1="36.50" y1="349.80" x2="39.70" y2="349.80" stroke="#222" stroke-width="1.00"/>
<text x="33.20" y="353.30" font-size="10.00" text-anchor="end" fill="#111" font-family="Liberation Sans" textLength="12.47" lengthAdjust="spacingAndGlyphs" stroke="#111" stroke-width="0.10">60</text>
<line x1="36.50" y1="369.40" x2="39.70" y2="369.40" stroke="#222" stroke-width="1.00"/>
<text x="33.20" y="372.90" font-size="10.00" text-anchor="end" fill="#111" font-family="Liberation Sans" textLength="12.47" lengthAdjust="spacingAndGlyphs" stroke="#111" stroke-width="0.10">80</text>
<line x1="36.50" y1="389.00" x2="39.70" y2="389.00" stroke="#222" stroke-width="1.00"/>
<text x="33.20" y="392.50" font-size="10.00" text-anchor="end" fill="#111" font-family="Liberation Sans" textLength="18.71" lengthAdjust="spacingAndGlyphs" stroke="#111" stroke-width="0.10">100</text>
<line x1="36.50" y1="408.60" x2="39.70" y2="408.60" stroke="#222" stroke-width="1.00"/>
<text x="33.20" y="412.10" font-size="10.00" text-anchor="end" fill="#111" font-family="Liberation Sans" textLength="18.71" lengthAdjust="spacingAndGlyphs" stroke="#111" stroke-width="0.10">120</text>
<text x="108.30" y="455.70" font-size="10.00" text-anchor="middle" fill="#111" font-family="Liberation Sans" textLength="85.56" lengthAdjust="spacingAndGlyphs" stroke="#111" stroke-width="0.10">p21 Time (Hours)</text>
<text x="273.50" y="285.00" font-size="11.63" text-anchor="middle" fill="#111" font-family="Liberation Sans" textLength="61.98" lengthAdjust="spacingAndGlyphs" stroke="#111" stroke-width="0.10">1 Divisions</text>
<line x1="204.90" y1="427.70" x2="204.90" y2="430.90" stroke="#222" stroke-width="1.00"/>
<text x="204.90" y="441.70" font-size="10.00" text-anchor="middle" fill="#111" font-family="Liberation Sans" textLength="6.24" lengthAdjust="spacingAndGlyphs" stroke="#111" stroke-width="0.10">0</text>
<line x1="253.90" y1="427.70" x2="253.90" y2="430.90" stroke="#222" stroke-width="1.00"/>
<text x="253.90" y="441.70" font-size="10.00" text-anchor="middle" fill="#111" font-family="Liberation Sans" textLength="12.47" lengthAdjust="spacingAndGlyphs" stroke="#111" stroke-width="0.10">50</text>
<line x1="302.90" y1="427.70" x2="302.90" y2="430.90" stroke="#222" stroke-width="1.00"/>
<text x="302.90" y="441.70" font-size="10.00" text-anchor="middle" fill="#111" font-family="Liberation Sans" textLength="18.71" lengthAdjust="spacingAndGlyphs" stroke="#111" stroke-width="0.10">100</text>
<line x1="201.70" y1="291.00" x2="204.90" y2="291.00" stroke="#222" stroke-width="1.00"/>
<text x="198.40" y="294.50" font-size="10.00" text-anchor="end" fill="#111" font-family="Liberation Sans" textLength="6.24" lengthAdjust="spacingAndGlyphs" stroke="#111" stroke-width="0.10">0</text>
<line x1="201.70" y1="310.60" x2="204.90" y2="310.60" stroke="#222" stroke-width="1.00"/>
<text x="198.40" y="314.10" font-size="10.00" text-anchor="end" fill="#111" font-family="Liberation Sans" textLength="12.47" lengthAdjust="spacingAndGlyphs" stroke="#111" stroke-width="0.10">20</text>
<line x1="201.70" y1="330.20" x2="204.90" y2="330.20" stroke="#222" stroke-width="1.00"/>
<text x="198.40" y="333.70" font-size="10.00" text-anchor="end" fill="#111" font-family="Liberation Sans" textLength="12.47" lengthAdjust="spacingAndGlyphs" stroke="#111" stroke-width="0.10">40</text>
<line x1="201.70" y1="349.80" x2="204.90" y2="349.80" stroke="#222" stroke-width="1.00"/>
<text x="198.40" y="353.30" font-size="10.00" text-anchor="end" fill="#111" font-family="Liberation Sans" textLength="12.47" lengthAdjust="spacingAndGlyphs" stroke="#111" stroke-width="0.10">60</text>
<line x1="201.70" y1="369.40" x2="204.90" y2="369.40" stroke="#222" stroke-width="1.00"/>
<text x="198.40" y="372.90" font-size="10.00" text-anchor="end" fill="#111" font-family="Liberation Sans" textLength="12.47" lengthAdjust="spacingAndGlyphs" stroke="#111" stroke-width="0.10">80</text>
<line x1="201.70" y1="389.00" x2="204.90" y2="389.00" stroke="#222" stroke-width="1.00"/>
<text x="198.40" y="392.50" font-size="10.00" text-anchor="end" fill="#111" font-family="Liberation Sans" textLength="18.71" lengthAdjust="spacingAndGlyphs" stroke="#111" stroke-width="0.10">100</text>
<line x1="201.70" y1="408.60" x2="204.90" y2="408.60" stroke="#222" stroke-width="1.00"/>
<text x="198.40" y="412.10" font-size="10.00" text-anchor="end" fill="#111" font-family="Liberation Sans" textLength="18.71" lengthAdjust="spacingAndGlyphs" stroke="#111" stroke-width="0.10">120</text>
<text x="273.50" y="455.70" font-size="10.00" text-anchor="middle" fill="#111" font-family="Liberation Sans" textLength="85.56" lengthAdjust="spacingAndGlyphs" stroke="#111" stroke-width="0.10">p21 Time (Hours)</text>
<text x="438.20" y="285.00" font-size="11.63" text-anchor="middle" fill="#111" font-family="Liberation Sans" textLength="61.98" lengthAdjust="spacingAndGlyphs" stroke="#111" stroke-width="0.10">2 Divisions</text>
<line x1="369.60" y1="427.70" x2="369.60" y2="430.90" stroke="#222" stroke-width="1.00"/>
<text x="369.60" y="441.70" font-size="10.00" text-anchor="middle" fill="#111" font-family="Liberation Sans" textLength="6.24" lengthAdjust="spacingAndGlyphs" stroke="#111" stroke-width="0.10">0</text>
<line x1="418.60" y1="427.70" x2="418.60" y2="430.90" stroke="#222" stroke-width="1.00"/>
<text x="418.60" y="441.70" font-size="10.00" text-anchor="middle" fill="#111" font-family="Liberation Sans" textLength="12.47" lengthAdjust="spacingAndGlyphs" stroke="#111" stroke-width="0.10">50</text>
<line x1="467.60" y1="427.70" x2="467.60" y2="430.90" stroke="#222" stroke-width="1.00"/>
<text x="467.60" y="441.70" font-size="10.00" text-anchor="middle" fill="#111" font-family="Liberation Sans" textLength="18.71" lengthAdjust="spacingAndGlyphs" stroke="#111" stroke-width="0.10">100</text>
<line x1="366.40" y1="291.00" x2="369.60" y2="291.00" stroke="#222" stroke-width="1.00"/>
<text x="363.10" y="294.50" font-size="10.00" text-anchor="end" fill="#111" font-family="Liberation Sans" textLength="6.24" lengthAdjust="spacingAndGlyphs" stroke="#111" stroke-width="0.10">0</text>
<line x1="366.40" y1="310.60" x2="369.60" y2="310.60" stroke="#222" stroke-width="1.00"/>
<text x="363.10" y="314.10" font-size="10.00" text-anchor="end" fill="#111" font-family="Liberation Sans" textLength="12.47" lengthAdjust="spacingAndGlyphs" stroke="#111" stroke-width="0.10">20</text>
<line x1="366.40" y1="330.20" x2="369.60" y2="330.20" stroke="#222" stroke-width="1.00"/>
<text x="363.10" y="333.70" font-size="10.00" text-anchor="end" fill="#111" font-family="Liberation Sans" textLength="12.47" lengthAdjust="spacingAndGlyphs" stroke="#111" stroke-width="0.10">40</text>
<line x1="366.40" y1="349.80" x2="369.60" y2="349.80" stroke="#222" stroke-width="1.00"/>
<text x="363.10" y="353.30" font-size="10.00" text-anchor="end" fill="#111" font-family="Liberation Sans" textLength="12.47" lengthAdjust="spacingAndGlyphs" stroke="#111" stroke-width="0.10">60</text>
<line x1="366.40" y1="369.40" x2="369.60" y2="369.40" stroke="#222" stroke-width="1.00"/>
<text x="363.10" y="372.90" font-size="10.00" text-anchor="end" fill="#111" font-family="Liberation Sans" textLength="12.47" lengthAdjust="spacingAndGlyphs" stroke="#111" stroke-width="0.10">80</text>
<line x1="366.40" y1="389.00" x2="369.60" y2="389.00" stroke="#222" stroke-width="1.00"/>
<text x="363.10" y="392.50" font-size="10.00" text-anchor="end" fill="#111" font-family="Liberation Sans" textLength="18.71" lengthAdjust="spacingAndGlyphs" stroke="#111" stroke-width="0.10">100</text>
<line x1="366.40" y1="408.60" x2="369.60" y2="408.60" stroke="#222" stroke-width="1.00"/>
<text x="363.10" y="412.10" font-size="10.00" text-anchor="end" fill="#111" font-family="Liberation Sans" textLength="18.71" lengthAdjust="spacingAndGlyphs" stroke="#111" stroke-width="0.10">120</text>
<text x="438.20" y="455.70" font-size="10.00" text-anchor="middle" fill="#111" font-family="Liberation Sans" textLength="85.56" lengthAdjust="spacingAndGlyphs" stroke="#111" stroke-width="0.10">p21 Time (Hours)</text>
<text x="603.10" y="285.00" font-size="11.63" text-anchor="middle" fill="#111" font-family="Liberation Sans" textLength="71.53" lengthAdjust="spacingAndGlyphs" stroke="#111" stroke-width="0.10">3+ Divisions</text>
<line x1="534.50" y1="427.70" x2="534.50" y2="430.90" stroke="#222" stroke-width="1.00"/>
<text x="534.50" y="441.70" font-size="10.00" text-anchor="middle" fill="#111" font-family="Liberation Sans" textLength="6.24" lengthAdjust="spacingAndGlyphs" stroke="#111" stroke-width="0.10">0</text>
<line x1="583.50" y1="427.70" x2="583.50" y2="430.90" stroke="#222" stroke-width="1.00"/>
<text x="583.50" y="441.70" font-size="10.00" text-anchor="middle" fill="#111" font-family="Liberation Sans" textLength="12.47" lengthAdjust="spacingAndGlyphs" stroke="#111" stroke-width="0.10">50</text>
<line x1="632.50" y1="427.70" x2="632.50" y2="430.90" stroke="#222" stroke-width="1.00"/>
<text x="632.50" y="441.70" font-size="10.00" text-anchor="middle" fill="#111" font-family="Liberation Sans" textLength="18.71" lengthAdjust="spacingAndGlyphs" stroke="#111" stroke-width="0.10">100</text>
<line x1="531.30" y1="291.00" x2="534.50" y2="291.00" stroke="#222" stroke-width="1.00"/>
<text x="528.00" y="294.50" font-size="10.00" text-anchor="end" fill="#111" font-family="Liberation Sans" textLength="6.24" lengthAdjust="spacingAndGlyphs" stroke="#111" stroke-width="0.10">0</text>
<line x1="531.30" y1="310.60" x2="534.50" y2="310.60" stroke="#222" stroke-width="1.00"/>
<text x="528.00" y="314.10" font-size="10.00" text-anchor="end" fill="#111" font-family="Liberation Sans" textLength="12.47" lengthAdjust="spacingAndGlyphs" stroke="#111" stroke-width="0.10">20</text>
<line x1="531.30" y1="330.20" x2="534.50" y2="330.20" stroke="#222" stroke-width="1.00"/>
<text x="528.00" y="333.70" font-size="10.00" text-anchor="end" fill="#111" font-family="Liberation Sans" textLength="12.47" lengthAdjust="spacingAndGlyphs" stroke="#111" stroke-width="0.10">40</text>
<line x1="531.30" y1="349.80" x2="534.50" y2="349.80" stroke="#222" stroke-width="1.00"/>
<text x="528.00" y="353.30" font-size="10.00" text-anchor="end" fill="#111" font-family="Liberation Sans" textLength="12.47" lengthAdjust="spacingAndGlyphs" stroke="#111" stroke-width="0.10">60</text>
<line x1="531.30" y1="369.40" x2="534.50" y2="369.40" stroke="#222" stroke-width="1.00"/>
<text x="528.00" y="372.90" font-size="10.00" text-anchor="end" fill="#111" font-family="Liberation Sans" textLength="12.47" lengthAdjust="spacingAndGlyphs" stroke="#111" stroke-width="0.10">80</text>
<line x1="531.30" y1="389.00" x2="534.50" y2="389.00" stroke="#222" stroke-width="1.00"/>
<text x="528.00" y="392.50" font-size="10.00" text-anchor="end" fill="#111" font-family="Liberation Sans" textLength="18.71" lengthAdjust="spacingAndGlyphs" stroke="#111" stroke-width="0.10">100</text>
<line x1="531.30" y1="408.60" x2="534.50" y2="408.60" stroke="#222" stroke-width="1.00"/>
<text x="528.00" y="412.10" font-size="10.00" text-anchor="end" fill="#111" font-family="Liberation Sans" textLength="18.71" lengthAdjust="spacingAndGlyphs" stroke="#111" stroke-width="0.10">120</text>
<text x="603.10" y="455.70" font-size="10.00" text-anchor="middle" fill="#111" font-family="Liberation Sans" textLength="85.56" lengthAdjust="spacingAndGlyphs" stroke="#111" stroke-width="0.10">p21 Time (Hours)</text>
<text x="10.50" y="359.10" font-size="10.00" text-anchor="middle" fill="#111" font-family="Liberation Sans" textLength="85.56" lengthAdjust="spacingAndGlyphs" transform="rotate(-90 10.50 359.10)" stroke="#111" stroke-width="0.10">p53 Time (Hours)</text>
<line x1="74.50" y1="540.00" x2="74.50" y2="543.00" stroke="#222" stroke-width="1.00"/>
<text x="74.50" y="554.00" font-size="9.18" text-anchor="middle" fill="#111" font-family="Liberation Sans" textLength="8.97" lengthAdjust="spacingAndGlyphs" stroke="#111" stroke-width="0.10">-7</text>
<line x1="91.00" y1="540.00" x2="91.00" y2="543.00" stroke="#222" stroke-width="1.00"/>
<text x="91.00" y="554.00" font-size="9.18" text-anchor="middle" fill="#111" font-family="Liberation Sans" textLength="8.97" lengthAdjust="spacingAndGlyphs" stroke="#111" stroke-width="0.10">-6</text>
<line x1="107.50" y1="540.00" x2="107.50" y2="543.00" stroke="#222" stroke-width="1.00"/>
<text x="107.50" y="554.00" font-size="9.18" text-anchor="middle" fill="#111" font-family="Liberation Sans" textLength="8.97" lengthAdjust="spacingAndGlyphs" stroke="#111" stroke-width="0.10">-5</text>
<line x1="124.00" y1="540.00" x2="124.00" y2="543.00" stroke="#222" stroke-width="1.00"/>
<text x="124.00" y="554.00" font-size="9.18" text-anchor="middle" fill="#111" font-family="Liberation Sans" textLength="8.97" lengthAdjust="spacingAndGlyphs" stroke="#111" stroke-width="0.10">-4</text>
<line x1="140.50" y1="540.00" x2="140.50" y2="543.00" stroke="#222" stroke-width="1.00"/>
<text x="140.50" y="554.00" font-size="9.18" text-anchor="middle" fill="#111" font-family="Liberation Sans" textLength="8.97" lengthAdjust="spacingAndGlyphs" stroke="#111" stroke-width="0.10">-3</text>
<line x1="157.00" y1="540.00" x2="157.00" y2="543.00" stroke="#222" stroke-width="1.00"/>
<text x="157.00" y="554.00" font-size="9.18" text-anchor="middle" fill="#111" font-family="Liberation Sans" textLength="8.97" lengthAdjust="spacingAndGlyphs" stroke="#111" stroke-width="0.10">-2</text>
<line x1="173.50" y1="540.00" x2="173.50" y2="543.00" stroke="#222" stroke-width="1.00"/>
<text x="173.50" y="554.00" font-size="9.18" text-anchor="middle" fill="#111" font-family="Liberation Sans" textLength="8.97" lengthAdjust="spacingAndGlyphs" stroke="#111" stroke-width="0.10">-1</text>
<line x1="190.00" y1="540.00" x2="190.00" y2="543.00" stroke="#222" stroke-width="1.00"/>
<text x="190.00" y="554.00" font-size="9.18" text-anchor="middle" fill="#111" font-family="Liberation Sans" textLength="5.73" lengthAdjust="spacingAndGlyphs" stroke="#111" stroke-width="0.10">0</text>
<line x1="206.50" y1="540.00" x2="206.50" y2="543.00" stroke="#222" stroke-width="1.00"/>
<text x="206.50" y="554.00" font-size="9.18" text-anchor="middle" fill="#111" font-family="Liberation Sans" textLength="5.73" lengthAdjust="spacingAndGlyphs" stroke="#111" stroke-width="0.10">1</text>
<line x1="223.00" y1="540.00" x2="223.00" y2="543.00" stroke="#222" stroke-width="1.00"/>
<text x="223.00" y="554.00" font-size="9.18" text-anchor="middle" fill="#111" font-family="Liberation Sans" textLength="5.73" lengthAdjust="spacingAndGlyphs" stroke="#111" stroke-width="0.10">2</text>
<line x1="239.50" y1="540.00" x2="239.50" y2="543.00" stroke="#222" stroke-width="1.00"/>
<text x="239.50" y="554.00" font-size="9.18" text-anchor="middle" fill="#111" font-family="Liberation Sans" textLength="5.73" lengthAdjust="spacingAndGlyphs" stroke="#111" stroke-width="0.10">3</text>
<line x1="256.00" y1="540.00" x2="256.00" y2="543.00" stroke="#222" stroke-width="1.00"/>
<text x="256.00" y="554.00" font-size="9.18" text-anchor="middle" fill="#111" font-family="Liberation Sans" textLength="5.73" lengthAdjust="spacingAndGlyphs" stroke="#111" stroke-width="0.10">4</text>
<line x1="272.50" y1="540.00" x2="272.50" y2="543.00" stroke="#222" stroke-width="1.00"/>
<text x="272.50" y="554.00" font-size="9.18" text-anchor="middle" fill="#111" font-family="Liberation Sans" textLength="5.73" lengthAdjust="spacingAndGlyphs" stroke="#111" stroke-width="0.10">5</text>
<line x1="289.00" y1="540.00" x2="289.00" y2="543.00" stroke="#222" stroke-width="1.00"/>
<text x="289.00" y="554.00" font-size="9.18" text-anchor="middle" fill="#111" font-family="Liberation Sans" textLength="5.73" lengthAdjust="spacingAndGlyphs" stroke="#111" stroke-width="0.10">6</text>
<line x1="305.50" y1="540.00" x2="305.50" y2="543.00" stroke="#222" stroke-width="1.00"/>
<text x="305.50" y="554.00" font-size="9.18" text-anchor="middle" fill="#111" font-family="Liberation Sans" textLength="5.73" lengthAdjust="spacingAndGlyphs" stroke="#111" stroke-width="0.10">7</text>
<line x1="63.40" y1="534.85" x2="66.40" y2="534.85" stroke="#222" stroke-width="1.00"/>
<text x="60.40" y="538.05" font-size="9.18" text-anchor="end" fill="#111" font-family="Liberation Sans" textLength="21.85" lengthAdjust="spacingAndGlyphs" stroke="#111" stroke-width="0.10">−0.5</text>
<line x1="63.40" y1="523.45" x2="66.40" y2="523.45" stroke="#222" stroke-width="1.00"/>
<text x="60.40" y="526.65" font-size="9.18" text-anchor="end" fill="#111" font-family="Liberation Sans" textLength="14.31" lengthAdjust="spacingAndGlyphs" stroke="#111" stroke-width="0.10">0.0</text>
<line x1="63.40" y1="512.05" x2="66.40" y2="512.05" stroke="#222" stroke-width="1.00"/>
<text x="60.40" y="515.25" font-size="9.18" text-anchor="end" fill="#111" font-family="Liberation Sans" textLength="14.31" lengthAdjust="spacingAndGlyphs" stroke="#111" stroke-width="0.10">0.5</text>
<text x="32.00" y="523.75" font-size="9.18" text-anchor="middle" fill="#111" font-family="Liberation Sans" textLength="28.03" lengthAdjust="spacingAndGlyphs" transform="rotate(-90 32.00 523.75)" stroke="#111" stroke-width="0.10">0 Divs</text>
<line x1="363.34" y1="540.00" x2="363.34" y2="543.00" stroke="#222" stroke-width="1.00"/>
<text x="363.34" y="554.00" font-size="9.18" text-anchor="middle" fill="#111" font-family="Liberation Sans" textLength="8.97" lengthAdjust="spacingAndGlyphs" stroke="#111" stroke-width="0.10">-5</text>
<line x1="388.05" y1="540.00" x2="388.05" y2="543.00" stroke="#222" stroke-width="1.00"/>
<text x="388.05" y="554.00" font-size="9.18" text-anchor="middle" fill="#111" font-family="Liberation Sans" textLength="8.97" lengthAdjust="spacingAndGlyphs" stroke="#111" stroke-width="0.10">-4</text>
<line x1="412.76" y1="540.00" x2="412.76" y2="543.00" stroke="#222" stroke-width="1.00"/>
<text x="412.76" y="554.00" font-size="9.18" text-anchor="middle" fill="#111" font-family="Liberation Sans" textLength="8.97" lengthAdjust="spacingAndGlyphs" stroke="#111" stroke-width="0.10">-3</text>
<line x1="437.46" y1="540.00" x2="437.46" y2="543.00" stroke="#222" stroke-width="1.00"/>
<text x="437.46" y="554.00" font-size="9.18" text-anchor="middle" fill="#111" font-family="Liberation Sans" textLength="8.97" lengthAdjust="spacingAndGlyphs" stroke="#111" stroke-width="0.10">-2</text>
<line x1="462.17" y1="540.00" x2="462.17" y2="543.00" stroke="#222" stroke-width="1.00"/>
<text x="462.17" y="554.00" font-size="9.18" text-anchor="middle" fill="#111" font-family="Liberation Sans" textLength="8.97" lengthAdjust="spacingAndGlyphs" stroke="#111" stroke-width="0.10">-1</text>
<line x1="486.88" y1="540.00" x2="486.88" y2="543.00" stroke="#222" stroke-width="1.00"/>
<text x="486.88" y="554.00" font-size="9.18" text-anchor="middle" fill="#111" font-family="Liberation Sans" textLength="5.73" lengthAdjust="spacingAndGlyphs" stroke="#111" stroke-width="0.10">0</text>
<line x1="511.59" y1="540.00" x2="511.59" y2="543.00" stroke="#222" stroke-width="1.00"/>
<text x="511.59" y="554.00" font-size="9.18" text-anchor="middle" fill="#111" font-family="Liberation Sans" textLength="5.73" lengthAdjust="spacingAndGlyphs" stroke="#111" stroke-width="0.10">1</text>
<line x1="536.30" y1="540.00" x2="536.30" y2="543.00" stroke="#222" stroke-width="1.00"/>
<text x="536.30" y="554.00" font-size="9.18" text-anchor="middle" fill="#111" font-family="Liberation Sans" textLength="5.73" lengthAdjust="spacingAndGlyphs" stroke="#111" stroke-width="0.10">2</text>
<line x1="561.00" y1="540.00" x2="561.00" y2="543.00" stroke="#222" stroke-width="1.00"/>
<text x="561.00" y="554.00" font-size="9.18" text-anchor="middle" fill="#111" font-family="Liberation Sans" textLength="5.73" lengthAdjust="spacingAndGlyphs" stroke="#111" stroke-width="0.10">3</text>
<line x1="585.71" y1="540.00" x2="585.71" y2="543.00" stroke="#222" stroke-width="1.00"/>
<text x="585.71" y="554.00" font-size="9.18" text-anchor="middle" fill="#111" font-family="Liberation Sans" textLength="5.73" lengthAdjust="spacingAndGlyphs" stroke="#111" stroke-width="0.10">4</text>
<line x1="354.20" y1="539.50" x2="357.20" y2="539.50" stroke="#222" stroke-width="1.00"/>
<text x="351.20" y="542.70" font-size="9.18" text-anchor="end" fill="#111" font-family="Liberation Sans" textLength="14.31" lengthAdjust="spacingAndGlyphs" stroke="#111" stroke-width="0.10">0.0</text>
<line x1="354.20" y1="516.25" x2="357.20" y2="516.25" stroke="#222" stroke-width="1.00"/>
<text x="351.20" y="519.45" font-size="9.18" text-anchor="end" fill="#111" font-family="Liberation Sans" textLength="14.31" lengthAdjust="spacingAndGlyphs" stroke="#111" stroke-width="0.10">0.5</text>
<text x="331.00" y="523.75" font-size="9.18" text-anchor="middle" fill="#111" font-family="Liberation Sans" textLength="46.79" lengthAdjust="spacingAndGlyphs" transform="rotate(-90 331.00 523.75)" stroke="#111" stroke-width="0.10">Proportion</text>
<line x1="74.50" y1="598.25" x2="74.50" y2="601.25" stroke="#222" stroke-width="1.00"/>
<text x="74.50" y="612.25" font-size="9.18" text-anchor="middle" fill="#111" font-family="Liberation Sans" textLength="8.97" lengthAdjust="spacingAndGlyphs" stroke="#111" stroke-width="0.10">-7</text>
<line x1="91.00" y1="598.25" x2="91.00" y2="601.25" stroke="#222" stroke-width="1.00"/>
<text x="91.00" y="612.25" font-size="9.18" text-anchor="middle" fill="#111" font-family="Liberation Sans" textLength="8.97" lengthAdjust="spacingAndGlyphs" stroke="#111" stroke-width="0.10">-6</text>
<line x1="107.50" y1="598.25" x2="107.50" y2="601.25" stroke="#222" stroke-width="1.00"/>
<text x="107.50" y="612.25" font-size="9.18" text-anchor="middle" fill="#111" font-family="Liberation Sans" textLength="8.97" lengthAdjust="spacingAndGlyphs" stroke="#111" stroke-width="0.10">-5</text>
<line x1="124.00" y1="598.25" x2="124.00" y2="601.25" stroke="#222" stroke-width="1.00"/>
<text x="124.00" y="612.25" font-size="9.18" text-anchor="middle" fill="#111" font-family="Liberation Sans" textLength="8.97" lengthAdjust="spacingAndGlyphs" stroke="#111" stroke-width="0.10">-4</text>
<line x1="140.50" y1="598.25" x2="140.50" y2="601.25" stroke="#222" stroke-width="1.00"/>
<text x="140.50" y="612.25" font-size="9.18" text-anchor="middle" fill="#111" font-family="Liberation Sans" textLength="8.97" lengthAdjust="spacingAndGlyphs" stroke="#111" stroke-width="0.10">-3</text>
<line x1="157.00" y1="598.25" x2="157.00" y2="601.25" stroke="#222" stroke-width="1.00"/>
<text x="157.00" y="612.25" font-size="9.18" text-anchor="middle" fill="#111" font-family="Liberation Sans" textLength="8.97" lengthAdjust="spacingAndGlyphs" stroke="#111" stroke-width="0.10">-2</text>
<line x1="173.50" y1="598.25" x2="173.50" y2="601.25" stroke="#222" stroke-width="1.00"/>
<text x="173.50" y="612.25" font-size="9.18" text-anchor="middle" fill="#111" font-family="Liberation Sans" textLength="8.97" lengthAdjust="spacingAndGlyphs" stroke="#111" stroke-width="0.10">-1</text>
<line x1="190.00" y1="598.25" x2="190.00" y2="601.25" stroke="#222" stroke-width="1.00"/>
<text x="190.00" y="612.25" font-size="9.18" text-anchor="middle" fill="#111" font-family="Liberation Sans" textLength="5.73" lengthAdjust="spacingAndGlyphs" stroke="#111" stroke-width="0.10">0</text>
<line x1="206.50" y1="598.25" x2="206.50" y2="601.25" stroke="#222" stroke-width="1.00"/>
<text x="206.50" y="612.25" font-size="9.18" text-anchor="middle" fill="#111" font-family="Liberation Sans" textLength="5.73" lengthAdjust="spacingAndGlyphs" stroke="#111" stroke-width="0.10">1</text>
<line x1="223.00" y1="598.25" x2="223.00" y2="601.25" stroke="#222" stroke-width="1.00"/>
<text x="223.00" y="612.25" font-size="9.18" text-anchor="middle" fill="#111" font-family="Liberation Sans" textLength="5.73" lengthAdjust="spacingAndGlyphs" stroke="#111" stroke-width="0.10">2</text>
<line x1="239.50" y1="598.25" x2="239.50" y2="601.25" stroke="#222" stroke-width="1.00"/>
<text x="239.50" y="612.25" font-size="9.18" text-anchor="middle" fill="#111" font-family="Liberation Sans" textLength="5.73" lengthAdjust="spacingAndGlyphs" stroke="#111" stroke-width="0.10">3</text>
<line x1="256.00" y1="598.25" x2="256.00" y2="601.25" stroke="#222" stroke-width="1.00"/>
<text x="256.00" y="612.25" font-size="9.18" text-anchor="middle" fill="#111" font-family="Liberation Sans" textLength="5.73" lengthAdjust="spacingAndGlyphs" stroke="#111" stroke-width="0.10">4</text>
<line x1="272.50" y1="598.25" x2="272.50" y2="601.25" stroke="#222" stroke-width="1.00"/>
<text x="272.50" y="612.25" font-size="9.18" text-anchor="middle" fill="#111" font-family="Liberation Sans" textLength="5.73" lengthAdjust="spacingAndGlyphs" stroke="#111" stroke-width="0.10">5</text>
<line x1="289.00" y1="598.25" x2="289.00" y2="601.25" stroke="#222" stroke-width="1.00"/>
<text x="289.00" y="612.25" font-size="9.18" text-anchor="middle" fill="#111" font-family="Liberation Sans" textLength="5.73" lengthAdjust="spacingAndGlyphs" stroke="#111" stroke-width="0.10">6</text>
<line x1="305.50" y1="598.25" x2="305.50" y2="601.25" stroke="#222" stroke-width="1.00"/>
<text x="305.50" y="612.25" font-size="9.18" text-anchor="middle" fill="#111" font-family="Liberation Sans" textLength="5.73" lengthAdjust="spacingAndGlyphs" stroke="#111" stroke-width="0.10">7</text>
<line x1="63.40" y1="593.10" x2="66.40" y2="593.10" stroke="#222" stroke-width="1.00"/>
<text x="60.40" y="596.30" font-size="9.18" text-anchor="end" fill="#111" font-family="Liberation Sans" textLength="21.85" lengthAdjust="spacingAndGlyphs" stroke="#111" stroke-width="0.10">−0.5</text>
<line x1="63.40" y1="581.70" x2="66.40" y2="581.70" stroke="#222" stroke-width="1.00"/>
<text x="60.40" y="584.90" font-size="9.18" text-anchor="end" fill="#111" font-family="Liberation Sans" textLength="14.31" lengthAdjust="spacingAndGlyphs" stroke="#111" stroke-width="0.10">0.0</text>
<line x1="63.40" y1="570.30" x2="66.40" y2="570.30" stroke="#222" stroke-width="1.00"/>
<text x="60.40" y="573.50" font-size="9.18" text-anchor="end" fill="#111" font-family="Liberation Sans" textLength="14.31" lengthAdjust="spacingAndGlyphs" stroke="#111" stroke-width="0.10">0.5</text>
<text x="32.00" y="582.00" font-size="9.18" text-anchor="middle" fill="#111" font-family="Liberation Sans" textLength="28.03" lengthAdjust="spacingAndGlyphs" transform="rotate(-90 32.00 582.00)" stroke="#111" stroke-width="0.10">1 Divs</text>
<line x1="363.34" y1="598.25" x2="363.34" y2="601.25" stroke="#222" stroke-width="1.00"/>
<text x="363.34" y="612.25" font-size="9.18" text-anchor="middle" fill="#111" font-family="Liberation Sans" textLength="8.97" lengthAdjust="spacingAndGlyphs" stroke="#111" stroke-width="0.10">-5</text>
<line x1="388.05" y1="598.25" x2="388.05" y2="601.25" stroke="#222" stroke-width="1.00"/>
<text x="388.05" y="612.25" font-size="9.18" text-anchor="middle" fill="#111" font-family="Liberation Sans" textLength="8.97" lengthAdjust="spacingAndGlyphs" stroke="#111" stroke-width="0.10">-4</text>
<line x1="412.76" y1="598.25" x2="412.76" y2="601.25" stroke="#222" stroke-width="1.00"/>
<text x="412.76" y="612.25" font-size="9.18" text-anchor="middle" fill="#111" font-family="Liberation Sans" textLength="8.97" lengthAdjust="spacingAndGlyphs" stroke="#111" stroke-width="0.10">-3</text>
<line x1="437.46" y1="598.25" x2="437.46" y2="601.25" stroke="#222" stroke-width="1.00"/>
<text x="437.46" y="612.25" font-size="9.18" text-anchor="middle" fill="#111" font-family="Liberation Sans" textLength="8.97" lengthAdjust="spacingAndGlyphs" stroke="#111" stroke-width="0.10">-2</text>
<line x1="462.17" y1="598.25" x2="462.17" y2="601.25" stroke="#222" stroke-width="1.00"/>
<text x="462.17" y="612.25" font-size="9.18" text-anchor="middle" fill="#111" font-family="Liberation Sans" textLength="8.97" lengthAdjust="spacingAndGlyphs" stroke="#111" stroke-width="0.10">-1</text>
<line x1="486.88" y1="598.25" x2="486.88" y2="601.25" stroke="#222" stroke-width="1.00"/>
<text x="486.88" y="612.25" font-size="9.18" text-anchor="middle" fill="#111" font-family="Liberation Sans" textLength="5.73" lengthAdjust="spacingAndGlyphs" stroke="#111" stroke-width="0.10">0</text>
<line x1="511.59" y1="598.25" x2="511.59" y2="601.25" stroke="#222" stroke-width="1.00"/>
<text x="511.59" y="612.25" font-size="9.18" text-anchor="middle" fill="#111" font-family="Liberation Sans" textLength="5.73" lengthAdjust="spacingAndGlyphs" stroke="#111" stroke-width="0.10">1</text>
<line x1="536.30" y1="598.25" x2="536.30" y2="601.25" stroke="#222" stroke-width="1.00"/>
<text x="536.30" y="612.25" font-size="9.18" text-anchor="middle" fill="#111" font-family="Liberation Sans" textLength="5.73" lengthAdjust="spacingAndGlyphs" stroke="#111" stroke-width="0.10">2</text>
<line x1="561.00" y1="598.25" x2="561.00" y2="601.25" stroke="#222" stroke-width="1.00"/>
<text x="561.00" y="612.25" font-size="9.18" text-anchor="middle" fill="#111" font-family="Liberation Sans" textLength="5.73" lengthAdjust="spacingAndGlyphs" stroke="#111" stroke-width="0.10">3</text>
<line x1="585.71" y1="598.25" x2="585.71" y2="601.25" stroke="#222" stroke-width="1.00"/>
<text x="585.71" y="612.25" font-size="9.18" text-anchor="middle" fill="#111" font-family="Liberation Sans" textLength="5.73" lengthAdjust="spacingAndGlyphs" stroke="#111" stroke-width="0.10">4</text>
<line x1="354.20" y1="597.75" x2="357.20" y2="597.75" stroke="#222" stroke-width="1.00"/>
<text x="351.20" y="600.95" font-size="9.18" text-anchor="end" fill="#111" font-family="Liberation Sans" textLength="14.31" lengthAdjust="spacingAndGlyphs" stroke="#111" stroke-width="0.10">0.0</text>
<line x1="354.20" y1="574.50" x2="357.20" y2="574.50" stroke="#222" stroke-width="1.00"/>
<text x="351.20" y="577.70" font-size="9.18" text-anchor="end" fill="#111" font-family="Liberation Sans" textLength="14.31" lengthAdjust="spacingAndGlyphs" stroke="#111" stroke-width="0.10">0.5</text>
<text x="331.00" y="582.00" font-size="9.18" text-anchor="middle" fill="#111" font-family="Liberation Sans" textLength="46.79" lengthAdjust="spacingAndGlyphs" transform="rotate(-90 331.00 582.00)" stroke="#111" stroke-width="0.10">Proportion</text>
<line x1="74.50" y1="656.50" x2="74.50" y2="659.50" stroke="#222" stroke-width="1.00"/>
<text x="74.50" y="670.50" font-size="9.18" text-anchor="middle" fill="#111" font-family="Liberation Sans" textLength="8.97" lengthAdjust="spacingAndGlyphs" stroke="#111" stroke-width="0.10">-7</text>
<line x1="91.00" y1="656.50" x2="91.00" y2="659.50" stroke="#222" stroke-width="1.00"/>
<text x="91.00" y="670.50" font-size="9.18" text-anchor="middle" fill="#111" font-family="Liberation Sans" textLength="8.97" lengthAdjust="spacingAndGlyphs" stroke="#111" stroke-width="0.10">-6</text>
<line x1="107.50" y1="656.50" x2="107.50" y2="659.50" stroke="#222" stroke-width="1.00"/>
<text x="107.50" y="670.50" font-size="9.18" text-anchor="middle" fill="#111" font-family="Liberation Sans" textLength="8.97" lengthAdjust="spacingAndGlyphs" stroke="#111" stroke-width="0.10">-5</text>
<line x1="124.00" y1="656.50" x2="124.00" y2="659.50" stroke="#222" stroke-width="1.00"/>
<text x="124.00" y="670.50" font-size="9.18" text-anchor="middle" fill="#111" font-family="Liberation Sans" textLength="8.97" lengthAdjust="spacingAndGlyphs" stroke="#111" stroke-width="0.10">-4</text>
<line x1="140.50" y1="656.50" x2="140.50" y2="659.50" stroke="#222" stroke-width="1.00"/>
<text x="140.50" y="670.50" font-size="9.18" text-anchor="middle" fill="#111" font-family="Liberation Sans" textLength="8.97" lengthAdjust="spacingAndGlyphs" stroke="#111" stroke-width="0.10">-3</text>
<line x1="157.00" y1="656.50" x2="157.00" y2="659.50" stroke="#222" stroke-width="1.00"/>
<text x="157.00" y="670.50" font-size="9.18" text-anchor="middle" fill="#111" font-family="Liberation Sans" textLength="8.97" lengthAdjust="spacingAndGlyphs" stroke="#111" stroke-width="0.10">-2</text>
<line x1="173.50" y1="656.50" x2="173.50" y2="659.50" stroke="#222" stroke-width="1.00"/>
<text x="173.50" y="670.50" font-size="9.18" text-anchor="middle" fill="#111" font-family="Liberation Sans" textLength="8.97" lengthAdjust="spacingAndGlyphs" stroke="#111" stroke-width="0.10">-1</text>
<line x1="190.00" y1="656.50" x2="190.00" y2="659.50" stroke="#222" stroke-width="1.00"/>
<text x="190.00" y="670.50" font-size="9.18" text-anchor="middle" fill="#111" font-family="Liberation Sans" textLength="5.73" lengthAdjust="spacingAndGlyphs" stroke="#111" stroke-width="0.10">0</text>
<line x1="206.50" y1="656.50" x2="206.50" y2="659.50" stroke="#222" stroke-width="1.00"/>
<text x="206.50" y="670.50" font-size="9.18" text-anchor="middle" fill="#111" font-family="Liberation Sans" textLength="5.73" lengthAdjust="spacingAndGlyphs" stroke="#111" stroke-width="0.10">1</text>
<line x1="223.00" y1="656.50" x2="223.00" y2="659.50" stroke="#222" stroke-width="1.00"/>
<text x="223.00" y="670.50" font-size="9.18" text-anchor="middle" fill="#111" font-family="Liberation Sans" textLength="5.73" lengthAdjust="spacingAndGlyphs" stroke="#111" stroke-width="0.10">2</text>
<line x1="239.50" y1="656.50" x2="239.50" y2="659.50" stroke="#222" stroke-width="1.00"/>
<text x="239.50" y="670.50" font-size="9.18" text-anchor="middle" fill="#111" font-family="Liberation Sans" textLength="5.73" lengthAdjust="spacingAndGlyphs" stroke="#111" stroke-width="0.10">3</text>
<line x1="256.00" y1="656.50" x2="256.00" y2="659.50" stroke="#222" stroke-width="1.00"/>
<text x="256.00" y="670.50" font-size="9.18" text-anchor="middle" fill="#111" font-family="Liberation Sans" textLength="5.73" lengthAdjust="spacingAndGlyphs" stroke="#111" stroke-width="0.10">4</text>
<line x1="272.50" y1="656.50" x2="272.50" y2="659.50" stroke="#222" stroke-width="1.00"/>
<text x="272.50" y="670.50" font-size="9.18" text-anchor="middle" fill="#111" font-family="Liberation Sans" textLength="5.73" lengthAdjust="spacingAndGlyphs" stroke="#111" stroke-width="0.10">5</text>
<line x1="289.00" y1="656.50" x2="289.00" y2="659.50" stroke="#222" stroke-width="1.00"/>
<text x="289.00" y="670.50" font-size="9.18" text-anchor="middle" fill="#111" font-family="Liberation Sans" textLength="5.73" lengthAdjust="spacingAndGlyphs" stroke="#111" stroke-width="0.10">6</text>
<line x1="305.50" y1="656.50" x2="305.50" y2="659.50" stroke="#222" stroke-width="1.00"/>
<text x="305.50" y="670.50" font-size="9.18" text-anchor="middle" fill="#111" font-family="Liberation Sans" textLength="5.73" lengthAdjust="spacingAndGlyphs" stroke="#111" stroke-width="0.10">7</text>
<line x1="63.40" y1="651.35" x2="66.40" y2="651.35" stroke="#222" stroke-width="1.00"/>
<text x="60.40" y="654.55" font-size="9.18" text-anchor="end" fill="#111" font-family="Liberation Sans" textLength="21.85" lengthAdjust="spacingAndGlyphs" stroke="#111" stroke-width="0.10">−0.5</text>
<line x1="63.40" y1="639.95" x2="66.40" y2="639.95" stroke="#222" stroke-width="1.00"/>
<text x="60.40" y="643.15" font-size="9.18" text-anchor="end" fill="#111" font-family="Liberation Sans" textLength="14.31" lengthAdjust="spacingAndGlyphs" stroke="#111" stroke-width="0.10">0.0</text>
<line x1="63.40" y1="628.55" x2="66.40" y2="628.55" stroke="#222" stroke-width="1.00"/>
<text x="60.40" y="631.75" font-size="9.18" text-anchor="end" fill="#111" font-family="Liberation Sans" textLength="14.31" lengthAdjust="spacingAndGlyphs" stroke="#111" stroke-width="0.10">0.5</text>
<text x="32.00" y="640.25" font-size="9.18" text-anchor="middle" fill="#111" font-family="Liberation Sans" textLength="28.03" lengthAdjust="spacingAndGlyphs" transform="rotate(-90 32.00 640.25)" stroke="#111" stroke-width="0.10">2 Divs</text>
<line x1="363.34" y1="656.50" x2="363.34" y2="659.50" stroke="#222" stroke-width="1.00"/>
<text x="363.34" y="670.50" font-size="9.18" text-anchor="middle" fill="#111" font-family="Liberation Sans" textLength="8.97" lengthAdjust="spacingAndGlyphs" stroke="#111" stroke-width="0.10">-5</text>
<line x1="388.05" y1="656.50" x2="388.05" y2="659.50" stroke="#222" stroke-width="1.00"/>
<text x="388.05" y="670.50" font-size="9.18" text-anchor="middle" fill="#111" font-family="Liberation Sans" textLength="8.97" lengthAdjust="spacingAndGlyphs" stroke="#111" stroke-width="0.10">-4</text>
<line x1="412.76" y1="656.50" x2="412.76" y2="659.50" stroke="#222" stroke-width="1.00"/>
<text x="412.76" y="670.50" font-size="9.18" text-anchor="middle" fill="#111" font-family="Liberation Sans" textLength="8.97" lengthAdjust="spacingAndGlyphs" stroke="#111" stroke-width="0.10">-3</text>
<line x1="437.46" y1="656.50" x2="437.46" y2="659.50" stroke="#222" stroke-width="1.00"/>
<text x="437.46" y="670.50" font-size="9.18" text-anchor="middle" fill="#111" font-family="Liberation Sans" textLength="8.97" lengthAdjust="spacingAndGlyphs" stroke="#111" stroke-width="0.10">-2</text>
<line x1="462.17" y1="656.50" x2="462.17" y2="659.50" stroke="#222" stroke-width="1.00"/>
<text x="462.17" y="670.50" font-size="9.18" text-anchor="middle" fill="#111" font-family="Liberation Sans" textLength="8.97" lengthAdjust="spacingAndGlyphs" stroke="#111" stroke-width="0.10">-1</text>
<line x1="486.88" y1="656.50" x2="486.88" y2="659.50" stroke="#222" stroke-width="1.00"/>
<text x="486.88" y="670.50" font-size="9.18" text-anchor="middle" fill="#111" font-family="Liberation Sans" textLength="5.73" lengthAdjust="spacingAndGlyphs" stroke="#111" stroke-width="0.10">0</text>
<line x1="511.59" y1="656.50" x2="511.59" y2="659.50" stroke="#222" stroke-width="1.00"/>
<text x="511.59" y="670.50" font-size="9.18" text-anchor="middle" fill="#111" font-family="Liberation Sans" textLength="5.73" lengthAdjust="spacingAndGlyphs" stroke="#111" stroke-width="0.10">1</text>
<line x1="536.30" y1="656.50" x2="536.30" y2="659.50" stroke="#222" stroke-width="1.00"/>
<text x="536.30" y="670.50" font-size="9.18" text-anchor="middle" fill="#111" font-family="Liberation Sans" textLength="5.73" lengthAdjust="spacingAndGlyphs" stroke="#111" stroke-width="0.10">2</text>
<line x1="561.00" y1="656.50" x2="561.00" y2="659.50" stroke="#222" stroke-width="1.00"/>
<text x="561.00" y="670.50" font-size="9.18" text-anchor="middle" fill="#111" font-family="Liberation Sans" textLength="5.73" lengthAdjust="spacingAndGlyphs" stroke="#111" stroke-width="0.10">3</text>
<line x1="585.71" y1="656.50" x2="585.71" y2="659.50" stroke="#222" stroke-width="1.00"/>
<text x="585.71" y="670.50" font-size="9.18" text-anchor="middle" fill="#111" font-family="Liberation Sans" textLength="5.73" lengthAdjust="spacingAndGlyphs" stroke="#111" stroke-width="0.10">4</text>
<line x1="354.20" y1="656.00" x2="357.20" y2="656.00" stroke="#222" stroke-width="1.00"/>
<text x="351.20" y="659.20" font-size="9.18" text-anchor="end" fill="#111" font-family="Liberation Sans" textLength="14.31" lengthAdjust="spacingAndGlyphs" stroke="#111" stroke-width="0.10">0.0</text>
<line x1="354.20" y1="632.75" x2="357.20" y2="632.75" stroke="#222" stroke-width="1.00"/>
<text x="351.20" y="635.95" font-size="9.18" text-anchor="end" fill="#111" font-family="Liberation Sans" textLength="14.31" lengthAdjust="spacingAndGlyphs" stroke="#111" stroke-width="0.10">0.5</text>
<text x="331.00" y="640.25" font-size="9.18" text-anchor="middle" fill="#111" font-family="Liberation Sans" textLength="46.79" lengthAdjust="spacingAndGlyphs" transform="rotate(-90 331.00 640.25)" stroke="#111" stroke-width="0.10">Proportion</text>
<line x1="74.50" y1="714.75" x2="74.50" y2="717.75" stroke="#222" stroke-width="1.00"/>
<text x="74.50" y="728.75" font-size="9.18" text-anchor="middle" fill="#111" font-family="Liberation Sans" textLength="8.97" lengthAdjust="spacingAndGlyphs" stroke="#111" stroke-width="0.10">-7</text>
<line x1="91.00" y1="714.75" x2="91.00" y2="717.75" stroke="#222" stroke-width="1.00"/>
<text x="91.00" y="728.75" font-size="9.18" text-anchor="middle" fill="#111" font-family="Liberation Sans" textLength="8.97" lengthAdjust="spacingAndGlyphs" stroke="#111" stroke-width="0.10">-6</text>
<line x1="107.50" y1="714.75" x2="107.50" y2="717.75" stroke="#222" stroke-width="1.00"/>
<text x="107.50" y="728.75" font-size="9.18" text-anchor="middle" fill="#111" font-family="Liberation Sans" textLength="8.97" lengthAdjust="spacingAndGlyphs" stroke="#111" stroke-width="0.10">-5</text>
<line x1="124.00" y1="714.75" x2="124.00" y2="717.75" stroke="#222" stroke-width="1.00"/>
<text x="124.00" y="728.75" font-size="9.18" text-anchor="middle" fill="#111" font-family="Liberation Sans" textLength="8.97" lengthAdjust="spacingAndGlyphs" stroke="#111" stroke-width="0.10">-4</text>
<line x1="140.50" y1="714.75" x2="140.50" y2="717.75" stroke="#222" stroke-width="1.00"/>
<text x="140.50" y="728.75" font-size="9.18" text-anchor="middle" fill="#111" font-family="Liberation Sans" textLength="8.97" lengthAdjust="spacingAndGlyphs" stroke="#111" stroke-width="0.10">-3</text>
<line x1="157.00" y1="714.75" x2="157.00" y2="717.75" stroke="#222" stroke-width="1.00"/>
<text x="157.00" y="728.75" font-size="9.18" text-anchor="middle" fill="#111" font-family="Liberation Sans" textLength="8.97" lengthAdjust="spacingAndGlyphs" stroke="#111" stroke-width="0.10">-2</text>
<line x1="173.50" y1="714.75" x2="173.50" y2="717.75" stroke="#222" stroke-width="1.00"/>
<text x="173.50" y="728.75" font-size="9.18" text-anchor="middle" fill="#111" font-family="Liberation Sans" textLength="8.97" lengthAdjust="spacingAndGlyphs" stroke="#111" stroke-width="0.10">-1</text>
<line x1="190.00" y1="714.75" x2="190.00" y2="717.75" stroke="#222" stroke-width="1.00"/>
<text x="190.00" y="728.75" font-size="9.18" text-anchor="middle" fill="#111" font-family="Liberation Sans" textLength="5.73" lengthAdjust="spacingAndGlyphs" stroke="#111" stroke-width="0.10">0</text>
<line x1="206.50" y1="714.75" x2="206.50" y2="717.75" stroke="#222" stroke-width="1.00"/>
<text x="206.50" y="728.75" font-size="9.18" text-anchor="middle" fill="#111" font-family="Liberation Sans" textLength="5.73" lengthAdjust="spacingAndGlyphs" stroke="#111" stroke-width="0.10">1</text>
<line x1="223.00" y1="714.75" x2="223.00" y2="717.75" stroke="#222" stroke-width="1.00"/>
<text x="223.00" y="728.75" font-size="9.18" text-anchor="middle" fill="#111" font-family="Liberation Sans" textLength="5.73" lengthAdjust="spacingAndGlyphs" stroke="#111" stroke-width="0.10">2</text>
<line x1="239.50" y1="714.75" x2="239.50" y2="717.75" stroke="#222" stroke-width="1.00"/>
<text x="239.50" y="728.75" font-size="9.18" text-anchor="middle" fill="#111" font-family="Liberation Sans" textLength="5.73" lengthAdjust="spacingAndGlyphs" stroke="#111" stroke-width="0.10">3</text>
<line x1="256.00" y1="714.75" x2="256.00" y2="717.75" stroke="#222" stroke-width="1.00"/>
<text x="256.00" y="728.75" font-size="9.18" text-anchor="middle" fill="#111" font-family="Liberation Sans" textLength="5.73" lengthAdjust="spacingAndGlyphs" stroke="#111" stroke-width="0.10">4</text>
<line x1="272.50" y1="714.75" x2="272.50" y2="717.75" stroke="#222" stroke-width="1.00"/>
<text x="272.50" y="728.75" font-size="9.18" text-anchor="middle" fill="#111" font-family="Liberation Sans" textLength="5.73" lengthAdjust="spacingAndGlyphs" stroke="#111" stroke-width="0.10">5</text>
<line x1="289.00" y1="714.75" x2="289.00" y2="717.75" stroke="#222" stroke-width="1.00"/>
<text x="289.00" y="728.75" font-size="9.18" text-anchor="middle" fill="#111" font-family="Liberation Sans" textLength="5.73" lengthAdjust="spacingAndGlyphs" stroke="#111" stroke-width="0.10">6</text>
<line x1="305.50" y1="714.75" x2="305.50" y2="717.75" stroke="#222" stroke-width="1.00"/>
<text x="305.50" y="728.75" font-size="9.18" text-anchor="middle" fill="#111" font-family="Liberation Sans" textLength="5.73" lengthAdjust="spacingAndGlyphs" stroke="#111" stroke-width="0.10">7</text>
<line x1="63.40" y1="709.60" x2="66.40" y2="709.60" stroke="#222" stroke-width="1.00"/>
<text x="60.40" y="712.80" font-size="9.18" text-anchor="end" fill="#111" font-family="Liberation Sans" textLength="21.85" lengthAdjust="spacingAndGlyphs" stroke="#111" stroke-width="0.10">−0.5</text>
<line x1="63.40" y1="698.20" x2="66.40" y2="698.20" stroke="#222" stroke-width="1.00"/>
<text x="60.40" y="701.40" font-size="9.18" text-anchor="end" fill="#111" font-family="Liberation Sans" textLength="14.31" lengthAdjust="spacingAndGlyphs" stroke="#111" stroke-width="0.10">0.0</text>
<line x1="63.40" y1="686.80" x2="66.40" y2="686.80" stroke="#222" stroke-width="1.00"/>
<text x="60.40" y="690.00" font-size="9.18" text-anchor="end" fill="#111" font-family="Liberation Sans" textLength="14.31" lengthAdjust="spacingAndGlyphs" stroke="#111" stroke-width="0.10">0.5</text>
<text x="32.00" y="698.50" font-size="9.18" text-anchor="middle" fill="#111" font-family="Liberation Sans" textLength="28.03" lengthAdjust="spacingAndGlyphs" transform="rotate(-90 32.00 698.50)" stroke="#111" stroke-width="0.10">3 Divs</text>
<line x1="363.34" y1="714.75" x2="363.34" y2="717.75" stroke="#222" stroke-width="1.00"/>
<text x="363.34" y="728.75" font-size="9.18" text-anchor="middle" fill="#111" font-family="Liberation Sans" textLength="8.97" lengthAdjust="spacingAndGlyphs" stroke="#111" stroke-width="0.10">-5</text>
<line x1="388.05" y1="714.75" x2="388.05" y2="717.75" stroke="#222" stroke-width="1.00"/>
<text x="388.05" y="728.75" font-size="9.18" text-anchor="middle" fill="#111" font-family="Liberation Sans" textLength="8.97" lengthAdjust="spacingAndGlyphs" stroke="#111" stroke-width="0.10">-4</text>
<line x1="412.76" y1="714.75" x2="412.76" y2="717.75" stroke="#222" stroke-width="1.00"/>
<text x="412.76" y="728.75" font-size="9.18" text-anchor="middle" fill="#111" font-family="Liberation Sans" textLength="8.97" lengthAdjust="spacingAndGlyphs" stroke="#111" stroke-width="0.10">-3</text>
<line x1="437.46" y1="714.75" x2="437.46" y2="717.75" stroke="#222" stroke-width="1.00"/>
<text x="437.46" y="728.75" font-size="9.18" text-anchor="middle" fill="#111" font-family="Liberation Sans" textLength="8.97" lengthAdjust="spacingAndGlyphs" stroke="#111" stroke-width="0.10">-2</text>
<line x1="462.17" y1="714.75" x2="462.17" y2="717.75" stroke="#222" stroke-width="1.00"/>
<text x="462.17" y="728.75" font-size="9.18" text-anchor="middle" fill="#111" font-family="Liberation Sans" textLength="8.97" lengthAdjust="spacingAndGlyphs" stroke="#111" stroke-width="0.10">-1</text>
<line x1="486.88" y1="714.75" x2="486.88" y2="717.75" stroke="#222" stroke-width="1.00"/>
<text x="486.88" y="728.75" font-size="9.18" text-anchor="middle" fill="#111" font-family="Liberation Sans" textLength="5.73" lengthAdjust="spacingAndGlyphs" stroke="#111" stroke-width="0.10">0</text>
<line x1="511.59" y1="714.75" x2="511.59" y2="717.75" stroke="#222" stroke-width="1.00"/>
<text x="511.59" y="728.75" font-size="9.18" text-anchor="middle" fill="#111" font-family="Liberation Sans" textLength="5.73" lengthAdjust="spacingAndGlyphs" stroke="#111" stroke-width="0.10">1</text>
<line x1="536.30" y1="714.75" x2="536.30" y2="717.75" stroke="#222" stroke-width="1.00"/>
<text x="536.30" y="728.75" font-size="9.18" text-anchor="middle" fill="#111" font-family="Liberation Sans" textLength="5.73" lengthAdjust="spacingAndGlyphs" stroke="#111" stroke-width="0.10">2</text>
<line x1="561.00" y1="714.75" x2="561.00" y2="717.75" stroke="#222" stroke-width="1.00"/>
<text x="561.00" y="728.75" font-size="9.18" text-anchor="middle" fill="#111" font-family="Liberation Sans" textLength="5.73" lengthAdjust="spacingAndGlyphs" stroke="#111" stroke-width="0.10">3</text>
<line x1="585.71" y1="714.75" x2="585.71" y2="717.75" stroke="#222" stroke-width="1.00"/>
<text x="585.71" y="728.75" font-size="9.18" text-anchor="middle" fill="#111" font-family="Liberation Sans" textLength="5.73" lengthAdjust="spacingAndGlyphs" stroke="#111" stroke-width="0.10">4</text>
<line x1="354.20" y1="714.25" x2="357.20" y2="714.25" stroke="#222" stroke-width="1.00"/>
<text x="351.20" y="717.45" font-size="9.18" text-anchor="end" fill="#111" font-family="Liberation Sans" textLength="14.31" lengthAdjust="spacingAndGlyphs" stroke="#111" stroke-width="0.10">0.0</text>
<line x1="354.20" y1="691.00" x2="357.20" y2="691.00" stroke="#222" stroke-width="1.00"/>
<text x="351.20" y="694.20" font-size="9.18" text-anchor="end" fill="#111" font-family="Liberation Sans" textLength="14.31" lengthAdjust="spacingAndGlyphs" stroke="#111" stroke-width="0.10">0.5</text>
<text x="331.00" y="698.50" font-size="9.18" text-anchor="middle" fill="#111" font-family="Liberation Sans" textLength="46.79" lengthAdjust="spacingAndGlyphs" transform="rotate(-90 331.00 698.50)" stroke="#111" stroke-width="0.10">Proportion</text>
<line x1="74.50" y1="773.00" x2="74.50" y2="776.00" stroke="#222" stroke-width="1.00"/>
<text x="74.50" y="787.00" font-size="9.18" text-anchor="middle" fill="#111" font-family="Liberation Sans" textLength="8.97" lengthAdjust="spacingAndGlyphs" stroke="#111" stroke-width="0.10">-7</text>
<line x1="91.00" y1="773.00" x2="91.00" y2="776.00" stroke="#222" stroke-width="1.00"/>
<text x="91.00" y="787.00" font-size="9.18" text-anchor="middle" fill="#111" font-family="Liberation Sans" textLength="8.97" lengthAdjust="spacingAndGlyphs" stroke="#111" stroke-width="0.10">-6</text>
<line x1="107.50" y1="773.00" x2="107.50" y2="776.00" stroke="#222" stroke-width="1.00"/>
<text x="107.50" y="787.00" font-size="9.18" text-anchor="middle" fill="#111" font-family="Liberation Sans" textLength="8.97" lengthAdjust="spacingAndGlyphs" stroke="#111" stroke-width="0.10">-5</text>
<line x1="124.00" y1="773.00" x2="124.00" y2="776.00" stroke="#222" stroke-width="1.00"/>
<text x="124.00" y="787.00" font-size="9.18" text-anchor="middle" fill="#111" font-family="Liberation Sans" textLength="8.97" lengthAdjust="spacingAndGlyphs" stroke="#111" stroke-width="0.10">-4</text>
<line x1="140.50" y1="773.00" x2="140.50" y2="776.00" stroke="#222" stroke-width="1.00"/>
<text x="140.50" y="787.00" font-size="9.18" text-anchor="middle" fill="#111" font-family="Liberation Sans" textLength="8.97" lengthAdjust="spacingAndGlyphs" stroke="#111" stroke-width="0.10">-3</text>
<line x1="157.00" y1="773.00" x2="157.00" y2="776.00" stroke="#222" stroke-width="1.00"/>
<text x="157.00" y="787.00" font-size="9.18" text-anchor="middle" fill="#111" font-family="Liberation Sans" textLength="8.97" lengthAdjust="spacingAndGlyphs" stroke="#111" stroke-width="0.10">-2</text>
<line x1="173.50" y1="773.00" x2="173.50" y2="776.00" stroke="#222" stroke-width="1.00"/>
<text x="173.50" y="787.00" font-size="9.18" text-anchor="middle" fill="#111" font-family="Liberation Sans" textLength="8.97" lengthAdjust="spacingAndGlyphs" stroke="#111" stroke-width="0.10">-1</text>
<line x1="190.00" y1="773.00" x2="190.00" y2="776.00" stroke="#222" stroke-width="1.00"/>
<text x="190.00" y="787.00" font-size="9.18" text-anchor="middle" fill="#111" font-family="Liberation Sans" textLength="5.73" lengthAdjust="spacingAndGlyphs" stroke="#111" stroke-width="0.10">0</text>
<line x1="206.50" y1="773.00" x2="206.50" y2="776.00" stroke="#222" stroke-width="1.00"/>
<text x="206.50" y="787.00" font-size="9.18" text-anchor="middle" fill="#111" font-family="Liberation Sans" textLength="5.73" lengthAdjust="spacingAndGlyphs" stroke="#111" stroke-width="0.10">1</text>
<line x1="223.00" y1="773.00" x2="223.00" y2="776.00" stroke="#222" stroke-width="1.00"/>
<text x="223.00" y="787.00" font-size="9.18" text-anchor="middle" fill="#111" font-family="Liberation Sans" textLength="5.73" lengthAdjust="spacingAndGlyphs" stroke="#111" stroke-width="0.10">2</text>
<line x1="239.50" y1="773.00" x2="239.50" y2="776.00" stroke="#222" stroke-width="1.00"/>
<text x="239.50" y="787.00" font-size="9.18" text-anchor="middle" fill="#111" font-family="Liberation Sans" textLength="5.73" lengthAdjust="spacingAndGlyphs" stroke="#111" stroke-width="0.10">3</text>
<line x1="256.00" y1="773.00" x2="256.00" y2="776.00" stroke="#222" stroke-width="1.00"/>
<text x="256.00" y="787.00" font-size="9.18" text-anchor="middle" fill="#111" font-family="Liberation Sans" textLength="5.73" lengthAdjust="spacingAndGlyphs" stroke="#111" stroke-width="0.10">4</text>
<line x1="272.50" y1="773.00" x2="272.50" y2="776.00" stroke="#222" stroke-width="1.00"/>
<text x="272.50" y="787.00" font-size="9.18" text-anchor="middle" fill="#111" font-family="Liberation Sans" textLength="5.73" lengthAdjust="spacingAndGlyphs" stroke="#111" stroke-width="0.10">5</text>
<line x1="289.00" y1="773.00" x2="289.00" y2="776.00" stroke="#222" stroke-width="1.00"/>
<text x="289.00" y="787.00" font-size="9.18" text-anchor="middle" fill="#111" font-family="Liberation Sans" textLength="5.73" lengthAdjust="spacingAndGlyphs" stroke="#111" stroke-width="0.10">6</text>
<line x1="305.50" y1="773.00" x2="305.50" y2="776.00" stroke="#222" stroke-width="1.00"/>
<text x="305.50" y="787.00" font-size="9.18" text-anchor="middle" fill="#111" font-family="Liberation Sans" textLength="5.73" lengthAdjust="spacingAndGlyphs" stroke="#111" stroke-width="0.10">7</text>
<line x1="63.40" y1="767.85" x2="66.40" y2="767.85" stroke="#222" stroke-width="1.00"/>
<text x="60.40" y="771.05" font-size="9.18" text-anchor="end" fill="#111" font-family="Liberation Sans" textLength="21.85" lengthAdjust="spacingAndGlyphs" stroke="#111" stroke-width="0.10">−0.5</text>
<line x1="63.40" y1="756.45" x2="66.40" y2="756.45" stroke="#222" stroke-width="1.00"/>
<text x="60.40" y="759.65" font-size="9.18" text-anchor="end" fill="#111" font-family="Liberation Sans" textLength="14.31" lengthAdjust="spacingAndGlyphs" stroke="#111" stroke-width="0.10">0.0</text>
<line x1="63.40" y1="745.05" x2="66.40" y2="745.05" stroke="#222" stroke-width="1.00"/>
<text x="60.40" y="748.25" font-size="9.18" text-anchor="end" fill="#111" font-family="Liberation Sans" textLength="14.31" lengthAdjust="spacingAndGlyphs" stroke="#111" stroke-width="0.10">0.5</text>
<text x="32.00" y="756.75" font-size="9.18" text-anchor="middle" fill="#111" font-family="Liberation Sans" textLength="45.21" lengthAdjust="spacingAndGlyphs" transform="rotate(-90 32.00 756.75)" stroke="#111" stroke-width="0.10">4,5,6 Divs</text>
<line x1="363.34" y1="773.00" x2="363.34" y2="776.00" stroke="#222" stroke-width="1.00"/>
<text x="363.34" y="787.00" font-size="9.18" text-anchor="middle" fill="#111" font-family="Liberation Sans" textLength="8.97" lengthAdjust="spacingAndGlyphs" stroke="#111" stroke-width="0.10">-5</text>
<line x1="388.05" y1="773.00" x2="388.05" y2="776.00" stroke="#222" stroke-width="1.00"/>
<text x="388.05" y="787.00" font-size="9.18" text-anchor="middle" fill="#111" font-family="Liberation Sans" textLength="8.97" lengthAdjust="spacingAndGlyphs" stroke="#111" stroke-width="0.10">-4</text>
<line x1="412.76" y1="773.00" x2="412.76" y2="776.00" stroke="#222" stroke-width="1.00"/>
<text x="412.76" y="787.00" font-size="9.18" text-anchor="middle" fill="#111" font-family="Liberation Sans" textLength="8.97" lengthAdjust="spacingAndGlyphs" stroke="#111" stroke-width="0.10">-3</text>
<line x1="437.46" y1="773.00" x2="437.46" y2="776.00" stroke="#222" stroke-width="1.00"/>
<text x="437.46" y="787.00" font-size="9.18" text-anchor="middle" fill="#111" font-family="Liberation Sans" textLength="8.97" lengthAdjust="spacingAndGlyphs" stroke="#111" stroke-width="0.10">-2</text>
<line x1="462.17" y1="773.00" x2="462.17" y2="776.00" stroke="#222" stroke-width="1.00"/>
<text x="462.17" y="787.00" font-size="9.18" text-anchor="middle" fill="#111" font-family="Liberation Sans" textLength="8.97" lengthAdjust="spacingAndGlyphs" stroke="#111" stroke-width="0.10">-1</text>
<line x1="486.88" y1="773.00" x2="486.88" y2="776.00" stroke="#222" stroke-width="1.00"/>
<text x="486.88" y="787.00" font-size="9.18" text-anchor="middle" fill="#111" font-family="Liberation Sans" textLength="5.73" lengthAdjust="spacingAndGlyphs" stroke="#111" stroke-width="0.10">0</text>
<line x1="511.59" y1="773.00" x2="511.59" y2="776.00" stroke="#222" stroke-width="1.00"/>
<text x="511.59" y="787.00" font-size="9.18" text-anchor="middle" fill="#111" font-family="Liberation Sans" textLength="5.73" lengthAdjust="spacingAndGlyphs" stroke="#111" stroke-width="0.10">1</text>
<line x1="536.30" y1="773.00" x2="536.30" y2="776.00" stroke="#222" stroke-width="1.00"/>
<text x="536.30" y="787.00" font-size="9.18" text-anchor="middle" fill="#111" font-family="Liberation Sans" textLength="5.73" lengthAdjust="spacingAndGlyphs" stroke="#111" stroke-width="0.10">2</text>
<line x1="561.00" y1="773.00" x2="561.00" y2="776.00" stroke="#222" stroke-width="1.00"/>
<text x="561.00" y="787.00" font-size="9.18" text-anchor="middle" fill="#111" font-family="Liberation Sans" textLength="5.73" lengthAdjust="spacingAndGlyphs" stroke="#111" stroke-width="0.10">3</text>
<line x1="585.71" y1="773.00" x2="585.71" y2="776.00" stroke="#222" stroke-width="1.00"/>
<text x="585.71" y="787.00" font-size="9.18" text-anchor="middle" fill="#111" font-family="Liberation Sans" textLength="5.73" lengthAdjust="spacingAndGlyphs" stroke="#111" stroke-width="0.10">4</text>
<line x1="354.20" y1="772.50" x2="357.20" y2="772.50" stroke="#222" stroke-width="1.00"/>
<text x="351.20" y="775.70" font-size="9.18" text-anchor="end" fill="#111" font-family="Liberation Sans" textLength="14.31" lengthAdjust="spacingAndGlyphs" stroke="#111" stroke-width="0.10">0.0</text>
<line x1="354.20" y1="749.25" x2="357.20" y2="749.25" stroke="#222" stroke-width="1.00"/>
<text x="351.20" y="752.45" font-size="9.18" text-anchor="end" fill="#111" font-family="Liberation Sans" textLength="14.31" lengthAdjust="spacingAndGlyphs" stroke="#111" stroke-width="0.10">0.5</text>
<text x="331.00" y="756.75" font-size="9.18" text-anchor="middle" fill="#111" font-family="Liberation Sans" textLength="46.79" lengthAdjust="spacingAndGlyphs" transform="rotate(-90 331.00 756.75)" stroke="#111" stroke-width="0.10">Proportion</text>
<text x="190.00" y="501.50" font-size="11.22" text-anchor="middle" fill="#111" font-family="Liberation Sans" textLength="161.52" lengthAdjust="spacingAndGlyphs" stroke="#111" stroke-width="0.10">Normalized Cross-Correlation</text>
<text x="480.40" y="501.50" font-size="11.14" text-anchor="middle" fill="#111" font-family="Liberation Sans" textLength="253.65" lengthAdjust="spacingAndGlyphs" stroke="#111" stroke-width="0.10">Distribution of Pos/Neg Peak Cross-Correlation</text>
<text x="190.00" y="799.00" font-size="9.18" text-anchor="middle" fill="#111" font-family="Liberation Sans" textLength="94.06" lengthAdjust="spacingAndGlyphs" stroke="#111" stroke-width="0.10">Lag of p21 (in hours)</text>
<text x="480.75" y="799.00" font-size="9.18" text-anchor="middle" fill="#111" font-family="Liberation Sans" textLength="94.06" lengthAdjust="spacingAndGlyphs" stroke="#111" stroke-width="0.10">Lag of p21 (in hours)</text>
<text x="635.20" y="502.20" font-size="11.07" text-anchor="middle" fill="#111" font-family="Liberation Sans" textLength="25.94" lengthAdjust="spacingAndGlyphs" stroke="#111" stroke-width="0.10">Gray</text>
<text x="336.5" y="262.00" font-size="15.2" text-anchor="middle" fill="#111" font-family="Liberation Serif">(a)</text>
<text x="336.5" y="486.20" font-size="15.2" text-anchor="middle" fill="#111" font-family="Liberation Serif">(b)</text>
<text x="336.5" y="823.40" font-size="15.2" text-anchor="middle" fill="#111" font-family="Liberation Serif">(c)</text>
<rect x="34.50" y="11.50" width="188.50" height="79.10" fill="none" stroke="#222" stroke-width="0.80"/>
<rect x="259.50" y="11.50" width="188.00" height="79.10" fill="none" stroke="#222" stroke-width="0.80"/>
<rect x="484.50" y="11.50" width="187.30" height="79.10" fill="none" stroke="#222" stroke-width="0.80"/>
<rect x="34.50" y="132.50" width="188.50" height="79.50" fill="none" stroke="#222" stroke-width="0.80"/>
<rect x="259.50" y="132.50" width="188.00" height="79.50" fill="none" stroke="#222" stroke-width="0.80"/>
<rect x="484.50" y="132.50" width="187.30" height="79.50" fill="none" stroke="#222" stroke-width="0.80"/>
<rect x="39.70" y="290.50" width="137.20" height="137.20" fill="none" stroke="#222" stroke-width="0.80"/>
<rect x="204.90" y="290.50" width="137.20" height="137.20" fill="none" stroke="#222" stroke-width="0.80"/>
<rect x="369.60" y="290.50" width="137.20" height="137.20" fill="none" stroke="#222" stroke-width="0.80"/>
<rect x="534.50" y="290.50" width="137.20" height="137.20" fill="none" stroke="#222" stroke-width="0.80"/>
<rect x="66.40" y="507.50" width="247.20" height="32.50" fill="none" stroke="#222" stroke-width="0.80"/>
<rect x="357.20" y="507.50" width="247.10" height="32.50" fill="none" stroke="#222" stroke-width="0.80"/>
<rect x="66.40" y="565.75" width="247.20" height="32.50" fill="none" stroke="#222" stroke-width="0.80"/>
<rect x="357.20" y="565.75" width="247.10" height="32.50" fill="none" stroke="#222" stroke-width="0.80"/>
<rect x="66.40" y="624.00" width="247.20" height="32.50" fill="none" stroke="#222" stroke-width="0.80"/>
<rect x="357.20" y="624.00" width="247.10" height="32.50" fill="none" stroke="#222" stroke-width="0.80"/>
<rect x="66.40" y="682.25" width="247.20" height="32.50" fill="none" stroke="#222" stroke-width="0.80"/>
<rect x="357.20" y="682.25" width="247.10" height="32.50" fill="none" stroke="#222" stroke-width="0.80"/>
<rect x="66.40" y="740.50" width="247.20" height="32.50" fill="none" stroke="#222" stroke-width="0.80"/>
<rect x="357.20" y="740.50" width="247.10" height="32.50" fill="none" stroke="#222" stroke-width="0.80"/>
</svg>
</body></html>
